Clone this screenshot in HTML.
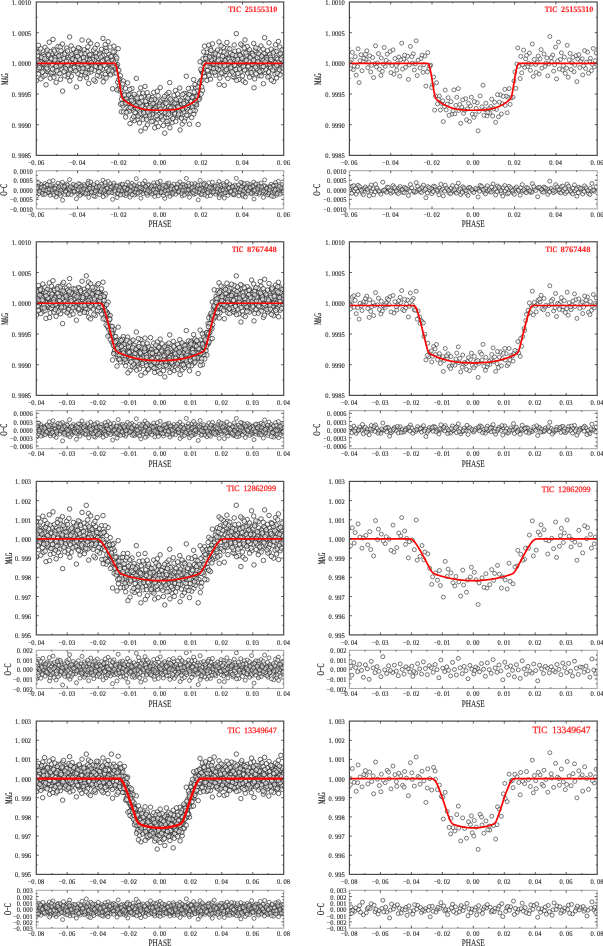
<!DOCTYPE html>
<html><head><meta charset="utf-8"><style>html,body{margin:0;padding:0;background:#fff;-webkit-font-smoothing:antialiased;width:603px;height:946px;overflow:hidden}svg{display:block;will-change:transform;filter:blur(0.42px)}text{font-kerning:none;text-rendering:geometricPrecision}</style></head>
<body><svg width="603" height="946" viewBox="0 0 603 946">
<defs>
<marker id="o" markerUnits="userSpaceOnUse" markerWidth="6" markerHeight="6" refX="3" refY="3" overflow="visible"><circle cx="3" cy="3" r="2.25" fill="#fff" fill-opacity="0.6" stroke="#222" stroke-width="0.7"/></marker>
<marker id="q" markerUnits="userSpaceOnUse" markerWidth="6" markerHeight="6" refX="3" refY="3" overflow="visible"><circle cx="3" cy="3" r="2.0" fill="#fff" fill-opacity="0.6" stroke="#333" stroke-width="0.65"/></marker>
<marker id="p" markerUnits="userSpaceOnUse" markerWidth="6" markerHeight="6" refX="3" refY="3" overflow="visible"><circle cx="3" cy="3" r="2.0" fill="#fff" fill-opacity="0.5" stroke="#2a2a2a" stroke-width="0.65"/></marker>
</defs>
<clipPath id="c00"><rect x="36.3" y="2.0" width="247.4" height="153.4"/></clipPath>
<clipPath id="d00"><rect x="36.3" y="170.7" width="247.4" height="38.2"/></clipPath>
<g clip-path="url(#c00)"><path d="M129.1 95.0 252.8 63.8 51.8 74.6 175.5 90.5 113.6 59.1 237.3 67.7 82.7 51.9 206.4 61.9 144.5 117.3 268.2 55.9 44.0 64.7 167.7 123.6 105.9 47.9 229.6 60.0 75.0 68.8 198.7 85.0 136.8 106.8 260.5 72.8 59.5 57.0 183.2 109.7 121.3 111.8 245.0 39.9 90.4 58.4 214.1 67.0 152.3 97.5 276.0 61.3 40.2 70.4 163.9 102.0 102.0 64.1 225.7 75.2 71.1 45.9 194.8 97.0 132.9 110.5 256.6 52.4 55.6 62.2 179.3 117.0 117.5 64.6 241.2 65.0 86.6 77.8 210.3 48.7 148.4 106.8 272.1 69.2 47.9 53.9 171.6 109.6 109.7 73.4 233.4 57.4 78.8 66.0 202.5 90.4 140.7 87.9 264.4 58.7 63.4 67.4 187.1 93.8 125.2 99.2 248.9 70.9 94.3 55.5 218.0 64.4 156.1 122.9 279.8 47.0 38.2 59.7 161.9 115.3 100.1 52.9 223.8 62.5 69.2 72.3 192.9 95.7 131.0 106.7 254.7 78.9 53.7 49.5 177.4 106.3 115.5 69.6 239.2 54.3 84.6 63.4 208.3 73.9 146.5 104.0 270.2 66.3 46.0 84.8 169.7 82.6 107.8 58.2 231.5 66.8 76.9 50.4 200.6 80.8 138.7 114.8 262.4 54.9 61.4 63.9 185.1 118.1 123.3 81.0 247.0 59.2 92.4 67.8 216.1 52.1 154.2 108.8 277.9 71.5 42.1 56.0 165.8 111.6 103.9 77.1 227.6 48.2 73.0 60.1 196.7 105.0 134.9 96.8 258.6 62.9 57.6 73.0 181.3 101.8 119.4 85.5 243.1 80.8 88.5 41.0 212.2 58.5 150.3 113.8 274.0 51.0 49.8 61.4 173.5 116.9 111.7 55.3 235.4 64.2 80.8 75.5 204.5 46.2 142.6 105.1 266.3 68.2 65.3 52.6 189.0 103.7 127.1 111.0 250.8 56.4 96.2 65.1 219.9 78.1 158.1 95.9 281.8 60.4 37.3 69.3 161.0 100.9 99.1 63.2 222.8 73.5 68.2 57.5 191.9 105.8 130.0 123.6 253.7 43.4 52.7 58.8 176.4 113.3 114.6 51.6 238.3 61.7 83.7 71.0 207.4 55.6 145.5 110.6 269.2 76.3 45.0 47.3 168.7 106.5 106.8 68.6 230.5 53.1 75.9 62.6 199.6 98.2 137.8 101.1 261.5 65.5 60.5 79.3 184.2 93.4 122.3 95.9 246.0 69.7 91.4 54.4 215.1 63.5 153.2 120.9 276.9 57.8 41.1 66.4 164.8 133.2 103.0 38.4 226.7 58.3 72.1 66.9 195.8 87.4 133.9 104.0 257.6 70.3 56.6 55.0 180.3 108.9 118.4 88.9 242.1 45.4 87.5 59.3 211.2 68.0 149.4 98.8 273.1 62.1 48.9 71.6 172.6 102.6 110.7 64.9 234.4 77.4 79.8 48.5 203.5 63.8 141.6 114.5 265.3 53.7 64.3 63.0 188.0 115.1 126.2 95.6 249.9 65.9 95.3 81.3 219.0 41.9 157.1 105.5 280.8 67.2 39.2 51.2 162.9 108.4 101.0 70.7 224.7 55.4 70.1 64.3 193.8 114.1 132.0 88.5 255.7 59.6 54.7 68.3 178.4 98.2 116.5 66.0 240.2 72.1 85.6 56.5 209.3 65.2 147.4 124.9 271.1 49.2 46.9 60.5 170.6 116.0 108.8 54.1 232.5 63.3 77.9 73.7 201.6 71.4 139.7 111.2 263.4 83.7 62.4 44.0 186.1 101.8 124.2 104.4 247.9 51.7 93.3 61.8 217.0 71.2 155.2 102.6 278.9 64.6 43.1 76.5 166.8 94.4 104.9 59.9 228.6 68.7 74.0 53.2 197.7 97.9 135.8 116.3 259.5 56.9 58.5 65.6 182.2 124.1 120.4 75.7 244.1 60.9 89.5 69.9 213.2 54.6 151.3 110.4 275.0 74.4 50.8 57.9 174.5 112.7 112.6 88.8 236.3 33.6 81.7 58.1 205.4 66.7 143.6 96.1 267.3 61.0 66.3 70.1 190.0 95.6 128.1 103.5 251.8 74.6 97.2 44.7 220.9 59.1 159.0 114.6 282.7 52.0 36.8 61.9 160.5 118.2 98.6 55.9 222.3 64.7 67.7 76.9 191.4 88.0 129.6 100.6 253.3 68.9 52.2 53.5 175.9 108.8 114.1 72.9 237.8 57.0 83.2 65.7 206.9 80.4 145.0 86.4 268.7 58.4 44.5 67.0 168.2 97.6 106.4 61.3 230.1 70.5 75.4 55.2 199.1 92.8 137.3 119.5 261.0 46.0 60.0 59.4 183.7 111.9 121.8 86.9 245.5 62.2 90.9 71.8 214.6 56.3 152.8 111.8 276.5 77.9 40.6 48.8 164.3 107.2 102.5 69.2 226.2 53.9 71.6 63.2 195.3 110.6 133.4 100.0 257.1 66.0 56.1 82.3 179.8 88.0 118.0 69.8 241.7 67.4 87.0 51.4 210.7 61.6 148.9 117.5 272.6 55.6 48.4 64.4 172.1 122.5 110.2 47.1 233.9 59.7 79.3 68.5 203.0 58.9 141.2 107.9 264.9 72.3 63.8 56.7 187.5 107.5 125.7 117.0 249.4 49.6 94.8 60.7 218.5 69.6 156.6 101.2 280.3 63.5 38.7 74.0 162.4 104.6 100.6 66.4 224.3 85.3 69.6 36.9 193.3 96.9 131.5 108.5 255.2 50.4 54.2 61.1 177.9 115.7 116.0 56.5 239.7 63.9 85.1 74.9 208.8 45.1 147.0 105.5 270.7 67.9 46.4 52.2 170.1 108.7 108.3 71.5 232.0 56.1 77.4 64.8 201.1 94.0 139.2 93.1 262.9 60.2 61.9 69.0 185.6 96.7 123.8 99.4 247.5 73.0 92.8 57.2 216.5 65.8 154.7 127.8 278.4 41.4 42.6 58.5 166.3 114.0 104.4 51.0 228.1 61.4 73.5 70.6 197.2 90.9 135.4 107.7 259.1 75.6 58.0 46.4 181.7 104.0 119.9 91.0 243.6 52.7 89.0 62.3 212.7 72.0 150.8 103.1 274.5 65.2 50.3 78.2 174.0 95.3 112.2 60.5 235.9 69.4 81.2 54.1 204.9 63.3 143.1 119.3 266.8 57.5 65.8 66.1 189.5 124.2 127.6 82.9 251.3 58.9 96.7 67.5 220.4 51.6 158.6 108.6 282.3 71.1 37.7 55.7 161.4 111.4 99.6 76.3 223.3 47.4 68.7 59.8 192.4 107.9 130.5 94.3 254.2 62.7 53.2 72.5 176.9 102.5 115.1 65.5 238.8 79.4 84.1 49.8 207.8 60.8 146.0 116.0 269.7 54.5 45.5 63.6 169.2 120.9 107.3 57.9 231.0 66.5 76.4 87.0 200.1 61.7 138.3 102.8 262.0 66.9 60.9 50.6 184.6 104.7 122.8 105.9 246.5 55.0 91.9 64.0 215.6 75.1 153.7 92.4 277.4 59.3 41.6 68.0 165.3 99.2 103.5 62.1 227.2 71.7 72.5 56.2 196.2 101.4 134.4 120.6 258.1 48.6 57.1 60.3 180.8 113.9 118.9 70.5 242.6 63.1 88.0 73.2 211.7 57.3 149.9 112.5 273.6 81.6 49.3 42.2 173.0 105.0 111.2 67.3 234.9 51.2 80.3 61.5 204.0 72.3 142.1 101.0 265.8 64.3 64.8 75.8 188.5 88.4 126.7 98.3 250.4 68.4 95.7 52.8 219.4 62.4 157.6 119.0 281.3 56.6 39.7 65.3 163.4 125.5 101.5 49.3 225.2 60.6 70.6 69.5 194.3 92.2 132.5 105.5 256.2 73.8 55.1 57.6 178.8 111.6 117.0 89.9 240.7 44.1 86.1 59.0 209.8 67.6 147.9 98.2 271.6 61.8 47.4 71.2 171.1 102.4 109.3 64.6 233.0 76.6 78.3 47.7 202.0 71.0 140.2 113.8 263.9 53.3 62.9 62.8 186.6 115.3 124.7 94.1 248.4 65.6 93.8 79.9 217.5 50.0 155.7 107.8 279.4 69.9 43.5 54.6 167.2 110.5 105.4 74.4 229.1 58.0 74.5 66.6 198.2 124.5 136.3 78.4 260.0 58.1 59.0 66.7 182.7 94.5 120.9 89.8 244.6 70.1 89.9 54.8 213.6 63.8 151.8 121.5 275.5 44.8 51.3 59.1 175.0 113.9 113.1 52.0 236.8 62.0 82.2 71.4 205.9 56.0 144.1 110.7 267.8 77.0 66.7 48.1 190.4 100.7 128.6 108.9 252.3 53.5 97.7 62.9 221.4 72.9 159.5 104.0 283.2 65.7 36.5 80.6 160.2 87.6 98.4 58.5 222.1 67.1 67.5 50.9 191.2 101.5 129.3 111.0 253.0 55.2 52.0 64.1 175.7 121.4 113.9 46.1 237.6 59.4 82.9 68.2 206.6 52.5 144.8 108.3 268.5 71.9 44.3 56.4 168.0 111.8 106.1 78.0 229.8 48.9 75.2 60.4 198.9 99.5 137.0 98.1 260.7 63.2 59.7 73.5 183.4 101.4 121.6 99.1 245.3 82.5 90.7 43.2 214.4 58.8 152.5 114.2 276.2 51.5 40.4 61.7 164.1 117.8 102.3 55.6 226.0 64.5 71.3 76.2 195.0 84.6 133.2 102.3 256.9 68.5 55.9 53.0 179.6 107.7 117.7 82.1 241.4 56.7 86.8 65.4 210.5 79.1 148.6 96.1 272.3 60.7 48.1 69.7 171.8 100.9 110.0 63.5 233.7 74.1 79.1 57.8 202.8 73.5 140.9 131.0 264.6 37.7 63.6 58.2 187.3 109.1 125.5 88.3 249.2 61.1 94.5 70.2 218.2 54.9 156.4 110.8 280.1 74.9 38.5 45.3 162.2 106.1 100.3 67.9 224.0 52.2 69.4 62.1 193.1 110.4 131.2 97.7 254.9 64.9 53.9 77.3 177.6 94.0 115.8 60.9 239.5 69.0 84.9 53.7 208.6 63.0 146.7 119.4 270.4 57.2 46.2 65.9 169.9 127.8 108.1 41.7 231.8 58.6 77.1 67.2 200.8 69.4 139.0 106.2 262.7 70.7 61.7 55.3 185.4 107.4 123.5 111.9 247.2 46.5 92.6 59.6 216.3 68.3 154.4 99.5 278.1 62.4 42.3 72.1 166.0 103.3 104.2 65.2 227.9 78.4 73.3 49.2 197.0 96.3 135.1 112.8 258.8 54.1 57.8 63.3 181.5 118.3 119.7 78.8 243.4 66.2 88.7 83.4 212.4 43.8 150.6 105.6 274.3 67.6 50.1 51.7 173.8 108.0 111.9 71.1 235.6 55.7 81.0 64.6 204.7 76.4 142.8 93.2 266.5 59.9 65.5 68.6 189.2 94.5 127.4 101.9 251.1 72.6 96.5 56.8 220.2 65.5 158.3 126.5 282.0 49.9 37.5 60.8 161.2 116.7 99.4 54.5 223.1 63.6 68.4 74.3 192.1 97.4 130.3 107.5 254.0 87.8 53.0 39.4 176.7 104.1 114.8 67.0 238.5 50.7 83.9 61.2 207.6 70.4 145.7 101.3 269.4 64.0 45.2 75.2 168.9 92.4 107.1 59.3 230.8 68.0 76.2 52.4 199.9 86.4 138.0 116.2 261.7 56.2 60.7 65.0 184.4 121.2 122.6 84.0 246.3 60.3 91.6 69.2 215.3 53.8 153.5 109.9 277.2 73.3 41.4 57.3 165.1 112.8 103.2 81.8 226.9 42.5 72.3 58.7 196.0 103.9 134.1 94.3 257.8 61.6 56.8 70.8 180.5 100.3 118.7 79.6 242.4 75.9 87.8 46.8 211.5 59.7 149.6 115.0 273.3 52.9 49.1 62.5 172.8 118.6 111.0 56.6 234.7 65.3 80.0 78.7 203.7 51.9 141.9 106.1 265.6 69.6 64.6 54.2 188.3 105.2 126.4 112.4 250.1 57.7 95.5 66.3 219.2 84.4 157.3 91.2 281.0 59.0 39.4 67.7 163.1 98.7 101.3 61.9 225.0 71.3 70.4 55.9 194.1 102.8 132.2 118.8 255.9 47.8 54.9 60.0 178.6 114.1 116.8 58.1 240.5 62.8 85.8 72.7 209.5 57.0 147.7 112.1 271.4 80.1 47.2 50.1 170.9 107.5 109.0 70.0 232.7 54.7 78.1 63.7 201.8 86.9 139.9 103.0 263.6 66.6 62.6 91.1 186.3 76.3 124.5 95.1 248.2 66.7 93.6 50.2 217.3 61.0 155.4 116.9 279.1 54.7 43.3 63.8 167.0 121.4 105.2 44.6 228.9 59.1 74.2 67.7 197.9 86.9 136.1 105.7 259.8 71.3 58.8 55.9 182.5 109.0 120.6 104.1 244.3 47.9 89.7 60.0 213.4 68.8 151.5 100.1 275.2 62.8 51.0 72.8 174.7 103.1 112.9 65.7 236.6 80.3 82.0 40.0 205.7 58.4 143.8 112.9 267.5 50.8 66.5 61.3 190.2 111.2 128.4 95.0 252.1 64.1 97.4 75.3 221.1 45.9 159.3 106.3 283.0 68.1 37.0 52.5 160.7 109.1 98.9 71.8 222.6 56.3 67.9 65.0 191.6 117.6 129.8 89.5 253.5 60.3 52.5 69.2 176.2 99.7 114.3 63.1 238.0 73.4 83.4 57.4 207.1 66.0 145.3 128.2 269.0 42.8 44.8 58.7 168.5 114.1 106.6 51.4 230.3 61.6 75.7 70.9 199.4 82.8 137.5 108.7 261.2 76.0 60.2 47.0 183.9 103.5 122.1 103.4 245.8 52.9 91.1 62.5 214.8 72.3 153.0 103.5 276.7 65.4 40.9 78.9 164.6 96.4 102.7 60.7 226.4 69.6 71.8 54.3 195.5 100.5 133.7 116.7 257.4 57.7 56.4 66.3 180.1 130.0 118.2 48.7 241.9 58.2 87.3 66.8 211.0 50.4 149.1 107.6 272.8 70.2 48.6 54.9 172.3 110.3 110.5 74.8 234.2 45.0 79.5 59.2 203.2 72.5 141.4 97.5 265.1 62.0 64.1 71.5 187.8 98.1 125.9 103.0 249.6 77.2 95.0 48.2 218.7 60.1 156.9 115.8 280.6 53.6 39.0 62.9 162.7 119.9 100.8 57.1 224.5 65.8 69.9 80.8 193.6 79.6 131.7 100.3 255.4 67.1 54.4 51.0 178.1 106.9 116.3 73.1 240.0 55.3 85.3 64.2 209.0 75.5 147.2 92.7 270.9 59.5 46.7 68.2 170.4 99.2 108.5 62.3 232.2 72.0 77.6 56.4 201.3 80.4 139.5 123.0 263.2 49.0" fill="none" stroke="none" marker-start="url(#o)" marker-mid="url(#o)" marker-end="url(#o)"/></g>
<g clip-path="url(#d00)"><path d="M134.9 186.0 258.6 189.5 57.6 193.3 181.3 187.3 119.4 190.6 243.1 196.3 88.5 181.2 212.2 187.8 150.3 191.1 274.0 185.0 49.8 188.9 173.5 192.4 111.7 186.6 235.4 190.0 80.8 194.3 204.5 183.2 142.6 188.2 266.3 191.5 65.3 185.6 189.0 189.3 127.1 192.9 250.8 187.0 96.2 190.4 219.9 195.3 158.1 184.2 281.8 188.6 37.3 191.9 161.0 186.1 99.1 189.6 222.8 193.6 68.2 187.4 191.9 190.7 130.0 197.1 253.7 182.1 52.7 188.0 176.4 191.2 114.6 185.2 238.3 189.0 83.7 192.6 207.4 186.7 145.5 190.1 269.2 194.6 45.0 183.6 168.7 188.3 106.8 191.7 230.5 185.8 75.9 189.4 199.6 193.1 137.8 187.2 261.5 190.5 60.5 195.7 184.2 184.5 122.3 188.7 246.0 192.1 91.4 186.3 215.1 189.8 153.2 193.8 276.9 187.6 41.1 190.9 164.8 198.4 103.0 180.2 226.7 187.7 72.1 191.0 195.8 184.8 133.9 188.8 257.6 192.3 56.6 186.5 180.3 189.9 118.4 194.1 242.1 182.9 87.5 188.1 211.2 191.4 149.4 185.5 273.1 189.2 48.9 192.8 172.6 186.9 110.7 190.3 234.4 195.0 79.8 184.0 203.5 188.5 141.6 191.9 265.3 186.0 64.3 189.6 188.0 193.4 126.2 187.4 249.9 190.6 95.3 196.5 219.0 181.5 157.1 187.9 280.8 191.2 39.2 185.0 162.9 189.0 101.0 192.5 224.7 186.7 70.1 190.0 193.8 194.4 132.0 183.3 255.7 188.2 54.7 191.6 178.4 185.7 116.5 189.3 240.2 193.0 85.6 187.1 209.3 190.4 147.4 195.4 271.1 184.3 46.9 188.6 170.6 192.0 108.8 186.2 232.5 189.7 77.9 193.6 201.6 187.5 139.7 190.8 263.4 197.4 62.4 182.3 186.1 188.0 124.2 191.3 247.9 185.3 93.3 189.1 217.0 192.6 155.2 186.8 278.9 190.1 43.1 194.7 166.8 183.7 104.9 188.4 228.6 191.7 74.0 185.8 197.7 189.4 135.8 193.2 259.5 187.2 58.5 190.5 182.2 195.9 120.4 184.6 244.1 188.7 89.5 192.2 213.2 186.3 151.3 189.8 275.0 193.9 50.8 187.6 174.5 190.9 112.6 199.3 236.3 178.4 81.7 187.7 205.4 191.0 143.6 184.7 267.3 188.8 66.3 192.2 190.0 186.4 128.1 189.8 251.8 194.0 97.2 182.6 220.9 188.1 159.0 191.3 282.7 185.4 36.8 189.1 160.5 192.7 98.6 186.9 222.3 190.2 67.7 194.8 191.4 183.8 129.6 188.4 253.3 191.8 52.2 185.9 175.9 189.5 114.1 193.3 237.8 187.3 83.2 190.6 206.9 196.2 145.0 180.9 268.7 187.8 44.5 191.1 168.2 184.9 106.4 188.9 230.1 192.4 75.4 186.6 199.1 190.0 137.3 194.2 261.0 183.1 60.0 188.2 183.7 191.5 121.8 185.6 245.5 189.3 90.9 192.9 214.6 187.0 152.8 190.3 276.5 195.2 40.6 184.2 164.3 188.5 102.5 191.9 226.2 186.1 71.6 189.6 195.3 193.5 133.4 187.4 257.1 190.7 56.1 196.9 179.8 181.9 118.0 187.9 241.7 191.2 87.0 185.1 210.7 189.0 148.9 192.6 272.6 186.7 48.4 190.1 172.1 194.5 110.2 183.5 233.9 188.3 79.3 191.6 203.0 185.7 141.2 189.4 264.9 193.1 63.8 187.1 187.5 190.4 125.7 195.6 249.4 184.4 94.8 188.7 218.5 192.1 156.6 186.3 280.3 189.7 38.7 193.7 162.4 187.5 100.6 190.8 224.3 198.0 69.6 179.6 193.3 187.7 131.5 191.0 255.2 184.8 54.2 188.8 177.9 192.3 116.0 186.5 239.7 189.9 85.1 194.1 208.8 182.8 147.0 188.1 270.7 191.4 46.4 185.4 170.1 189.2 108.3 192.8 232.0 186.9 77.4 190.2 201.1 194.9 139.2 183.9 262.9 188.5 61.9 191.8 185.6 186.0 123.8 189.5 247.5 193.4 92.8 187.3 216.5 190.6 154.7 196.4 278.4 181.3 42.6 187.8 166.3 191.1 104.4 185.0 228.1 188.9 73.5 192.4 197.2 186.6 135.4 190.0 259.1 194.3 58.0 183.2 181.7 188.2 119.9 191.5 243.6 185.6 89.0 189.3 212.7 193.0 150.8 187.1 274.5 190.4 50.3 195.3 174.0 184.2 112.2 188.6 235.9 192.0 81.2 186.1 204.9 189.6 143.1 193.6 266.8 187.5 65.8 190.7 189.5 197.2 127.6 182.2 251.3 188.0 96.7 191.3 220.4 185.2 158.6 189.1 282.3 192.6 37.7 186.8 161.4 190.1 99.6 194.6 223.3 183.6 68.7 188.3 192.4 191.7 130.5 185.8 254.2 189.4 53.2 193.2 176.9 187.2 115.1 190.5 238.8 195.8 84.1 184.5 207.8 188.7 146.0 192.1 269.7 186.3 45.5 189.8 169.2 193.8 107.3 187.6 231.0 190.9 76.4 198.7 200.1 180.4 138.3 187.8 262.0 191.0 60.9 184.8 184.6 188.9 122.8 192.3 246.5 186.5 91.9 189.9 215.6 194.1 153.7 182.9 277.4 188.1 41.6 191.4 165.3 185.5 103.5 189.2 227.2 192.8 72.5 187.0 196.2 190.3 134.4 195.1 258.1 184.1 57.1 188.5 180.8 191.9 118.9 186.0 242.6 189.6 88.0 193.4 211.7 187.4 149.9 190.7 273.6 196.6 49.3 181.6 173.0 187.9 111.2 191.2 234.9 185.1 80.3 189.0 204.0 192.5 142.1 186.7 265.8 190.0 64.8 194.4 188.5 183.4 126.7 188.3 250.4 191.6 95.7 185.7 219.4 189.3 157.6 193.0 281.3 187.1 39.7 190.4 163.4 195.5 101.5 184.3 225.2 188.6 70.6 192.0 194.3 186.2 132.5 189.7 256.2 193.6 55.1 187.5 178.8 190.8 117.0 197.5 240.7 182.4 86.1 188.0 209.8 191.3 147.9 185.3 271.6 189.1 47.4 192.7 171.1 186.8 109.3 190.2 233.0 194.7 78.3 183.7 202.0 188.4 140.2 191.7 263.9 185.9 62.9 189.5 186.6 193.2 124.7 187.2 248.4 190.5 93.8 196.0 217.5 184.6 155.7 188.7 279.4 192.2 43.5 186.4 167.2 189.8 105.4 193.9 229.1 187.6 74.5 190.9 198.2 199.9 136.3 178.7 260.0 187.7 59.0 191.0 182.7 184.7 120.9 188.8 244.6 192.2 89.9 186.4 213.6 189.9 151.8 194.0 275.5 182.6 51.3 188.1 175.0 191.4 113.1 185.4 236.8 189.1 82.2 192.7 205.9 186.9 144.1 190.2 267.8 194.9 66.7 183.9 190.4 188.4 128.6 191.8 252.3 185.9 97.7 189.5 221.4 193.3 159.5 187.3 283.2 190.6 36.5 196.2 160.2 181.1 98.4 187.8 222.1 191.1 67.5 185.0 191.2 188.9 129.3 192.4 253.0 186.6 52.0 190.0 175.7 194.3 113.9 183.1 237.6 188.2 82.9 191.5 206.6 185.6 144.8 189.3 268.5 192.9 44.3 187.0 168.0 190.3 106.1 195.2 229.8 184.2 75.2 188.6 198.9 191.9 137.0 186.1 260.7 189.6 59.7 193.5 183.4 187.4 121.6 190.7 245.3 197.0 90.7 182.0 214.4 187.9 152.5 191.2 276.2 185.2 40.4 189.0 164.1 192.6 102.3 186.7 226.0 190.1 71.3 194.5 195.0 183.5 133.2 188.3 256.9 191.6 55.9 185.8 179.6 189.4 117.7 193.1 241.4 187.2 86.8 190.5 210.5 195.7 148.6 184.5 272.3 188.7 48.1 192.1 171.8 186.3 110.0 189.7 233.7 193.8 79.1 187.6 202.8 190.8 140.9 198.2 264.6 179.9 63.6 187.7 187.3 191.0 125.5 184.8 249.2 188.8 94.5 192.3 218.2 186.5 156.4 189.9 280.1 194.1 38.5 182.8 162.2 188.1 100.3 191.4 224.0 185.4 69.4 189.2 193.1 192.8 131.2 186.9 254.9 190.3 53.9 195.0 177.6 184.0 115.8 188.5 239.5 191.8 84.9 186.0 208.6 189.5 146.7 193.4 270.4 187.3 46.2 190.6 169.9 196.4 108.1 181.4 231.8 187.9 77.1 191.1 200.8 185.0 139.0 189.0 262.7 192.5 61.7 186.6 185.4 190.0 123.5 194.4 247.2 183.3 92.6 188.2 216.3 191.5 154.4 185.6 278.1 189.3 42.3 193.0 166.0 187.1 104.2 190.4 227.9 195.4 73.3 184.3 197.0 188.6 135.1 192.0 258.8 186.2 57.8 189.7 181.5 193.6 119.7 187.5 243.4 190.8 88.7 197.3 212.4 182.2 150.6 188.0 274.3 191.3 50.1 185.2 173.8 189.1 111.9 192.6 235.6 186.8 81.0 190.1 204.7 194.7 142.8 183.7 266.5 188.4 65.5 191.7 189.2 185.8 127.4 189.4 251.1 193.2 96.5 187.2 220.2 190.5 158.3 195.8 282.0 184.5 37.5 188.7 161.2 192.1 99.4 186.3 223.1 189.8 68.4 193.8 192.1 187.6 130.3 190.9 254.0 199.0 53.0 180.6 176.7 187.8 114.8 191.1 238.5 184.9 83.9 188.9 207.6 192.3 145.7 186.5 269.4 189.9 45.2 194.2 168.9 183.0 107.1 188.2 230.8 191.5 76.2 185.5 199.9 189.2 138.0 192.9 261.7 187.0 60.7 190.3 184.4 195.1 122.6 184.1 246.3 188.5 91.6 191.9 215.3 186.0 153.5 189.6 277.2 193.5 41.4 187.4 165.1 190.7 103.2 196.7 226.9 181.7 72.3 187.9 196.0 191.2 134.1 185.1 257.8 189.0 56.8 192.5 180.5 186.7 118.7 190.1 242.4 194.4 87.8 183.4 211.5 188.3 149.6 191.6 273.3 185.7 49.1 189.3 172.8 193.0 111.0 187.1 234.7 190.4 80.0 195.5 203.7 184.4 141.9 188.6 265.6 192.0 64.6 186.2 188.3 189.7 126.4 193.7 250.1 187.5 95.5 190.8 219.2 197.7 157.3 182.4 281.0 188.0 39.4 191.3 163.1 185.3 101.3 189.1 225.0 192.7 70.4 186.8 194.1 190.2 132.2 194.8 255.9 183.8 54.9 188.4 178.6 191.7 116.8 185.9 240.5 189.5 85.8 193.2 209.5 187.3 147.7 190.5 271.4 196.0 47.2 184.6 170.9 188.8 109.0 192.2 232.7 186.4 78.1 189.8 201.8 193.9 139.9 187.6 263.6 190.9 62.6 200.2 186.3 178.4 124.5 187.7 248.2 190.9 93.6 184.7 217.3 188.8 155.4 192.2 279.1 186.4 43.3 189.8 167.0 193.9 105.2 182.5 228.9 188.0 74.2 191.3 197.9 185.3 136.1 189.1 259.8 192.7 58.8 186.9 182.5 190.2 120.6 194.8 244.3 183.8 89.7 188.4 213.4 191.8 151.5 185.9 275.2 189.5" fill="none" stroke="none" marker-start="url(#p)" marker-mid="url(#p)" marker-end="url(#p)"/></g>
<path d="M36.30 63.36 36.71 63.36 37.13 63.36 37.54 63.36 37.95 63.36 38.37 63.36 38.78 63.36 39.19 63.36 39.60 63.36 40.02 63.36 40.43 63.36 40.84 63.36 41.26 63.36 41.67 63.36 42.08 63.36 42.50 63.36 42.91 63.36 43.32 63.36 43.73 63.36 44.15 63.36 44.56 63.36 44.97 63.36 45.39 63.36 45.80 63.36 46.21 63.36 46.63 63.36 47.04 63.36 47.45 63.36 47.86 63.36 48.28 63.36 48.69 63.36 49.10 63.36 49.52 63.36 49.93 63.36 50.34 63.36 50.76 63.36 51.17 63.36 51.58 63.36 51.99 63.36 52.41 63.36 52.82 63.36 53.23 63.36 53.65 63.36 54.06 63.36 54.47 63.36 54.89 63.36 55.30 63.36 55.71 63.36 56.13 63.36 56.54 63.36 56.95 63.36 57.36 63.36 57.78 63.36 58.19 63.36 58.60 63.36 59.02 63.36 59.43 63.36 59.84 63.36 60.26 63.36 60.67 63.36 61.08 63.36 61.49 63.36 61.91 63.36 62.32 63.36 62.73 63.36 63.15 63.36 63.56 63.36 63.97 63.36 64.39 63.36 64.80 63.36 65.21 63.36 65.62 63.36 66.04 63.36 66.45 63.36 66.86 63.36 67.28 63.36 67.69 63.36 68.10 63.36 68.52 63.36 68.93 63.36 69.34 63.36 69.75 63.36 70.17 63.36 70.58 63.36 70.99 63.36 71.41 63.36 71.82 63.36 72.23 63.36 72.65 63.36 73.06 63.36 73.47 63.36 73.88 63.36 74.30 63.36 74.71 63.36 75.12 63.36 75.54 63.36 75.95 63.36 76.36 63.36 76.78 63.36 77.19 63.36 77.60 63.36 78.02 63.36 78.43 63.36 78.84 63.36 79.25 63.36 79.67 63.36 80.08 63.36 80.49 63.36 80.91 63.36 81.32 63.36 81.73 63.36 82.15 63.36 82.56 63.36 82.97 63.36 83.38 63.36 83.80 63.36 84.21 63.36 84.62 63.36 85.04 63.36 85.45 63.36 85.86 63.36 86.28 63.36 86.69 63.36 87.10 63.36 87.51 63.36 87.93 63.36 88.34 63.36 88.75 63.36 89.17 63.36 89.58 63.36 89.99 63.36 90.41 63.36 90.82 63.36 91.23 63.36 91.64 63.36 92.06 63.36 92.47 63.36 92.88 63.36 93.30 63.36 93.71 63.36 94.12 63.36 94.54 63.36 94.95 63.36 95.36 63.36 95.78 63.36 96.19 63.36 96.60 63.36 97.01 63.36 97.43 63.36 97.84 63.36 98.25 63.36 98.67 63.36 99.08 63.36 99.49 63.36 99.91 63.36 100.32 63.36 100.73 63.36 101.14 63.36 101.56 63.36 101.97 63.36 102.38 63.36 102.80 63.36 103.21 63.36 103.62 63.36 104.04 63.36 104.45 63.36 104.86 63.36 105.27 63.36 105.69 63.36 106.10 63.36 106.51 63.36 106.93 63.36 107.34 63.36 107.75 63.36 108.17 63.36 108.58 63.36 108.99 63.36 109.40 63.36 109.82 63.36 110.23 63.36 110.64 63.36 111.06 63.36 111.47 63.36 111.88 63.36 112.30 63.36 112.71 63.36 113.12 63.36 113.54 63.36 113.95 63.38 114.36 63.43 114.77 63.59 115.19 63.95 115.60 64.61 116.01 65.66 116.43 67.09 116.84 68.84 117.25 70.81 117.67 72.96 118.08 75.24 118.49 77.62 118.90 80.08 119.32 82.58 119.73 85.11 120.14 87.63 120.56 90.09 120.97 92.42 121.38 94.50 121.80 96.22 122.21 97.50 122.62 98.40 123.03 99.01 123.45 99.47 123.86 99.84 124.27 100.19 124.69 100.53 125.10 100.85 125.51 101.17 125.93 101.48 126.34 101.79 126.75 102.08 127.16 102.37 127.58 102.66 127.99 102.93 128.40 103.20 128.82 103.47 129.23 103.72 129.64 103.97 130.06 104.22 130.47 104.45 130.88 104.68 131.29 104.91 131.71 105.13 132.12 105.34 132.53 105.55 132.95 105.75 133.36 105.95 133.77 106.14 134.19 106.32 134.60 106.50 135.01 106.67 135.43 106.84 135.84 107.00 136.25 107.16 136.66 107.31 137.08 107.46 137.49 107.60 137.90 107.74 138.32 107.87 138.73 108.00 139.14 108.12 139.56 108.24 139.97 108.36 140.38 108.47 140.79 108.57 141.21 108.67 141.62 108.77 142.03 108.87 142.45 108.95 142.86 109.04 143.27 109.12 143.69 109.20 144.10 109.27 144.51 109.34 144.92 109.41 145.34 109.47 145.75 109.54 146.16 109.59 146.58 109.65 146.99 109.70 147.40 109.75 147.82 109.79 148.23 109.83 148.64 109.87 149.05 109.91 149.47 109.94 149.88 109.98 150.29 110.01 150.71 110.03 151.12 110.06 151.53 110.08 151.95 110.10 152.36 110.12 152.77 110.14 153.19 110.15 153.60 110.17 154.01 110.18 154.42 110.19 154.84 110.20 155.25 110.21 155.66 110.21 156.08 110.22 156.49 110.23 156.90 110.23 157.32 110.23 157.73 110.23 158.14 110.24 158.55 110.24 158.97 110.24 159.38 110.24 159.79 110.24 160.21 110.24 160.62 110.24 161.03 110.24 161.45 110.24 161.86 110.24 162.27 110.23 162.68 110.23 163.10 110.23 163.51 110.23 163.92 110.22 164.34 110.21 164.75 110.21 165.16 110.20 165.58 110.19 165.99 110.18 166.40 110.17 166.81 110.15 167.23 110.14 167.64 110.12 168.05 110.10 168.47 110.08 168.88 110.06 169.29 110.03 169.71 110.01 170.12 109.98 170.53 109.94 170.95 109.91 171.36 109.87 171.77 109.83 172.18 109.79 172.60 109.75 173.01 109.70 173.42 109.65 173.84 109.59 174.25 109.54 174.66 109.47 175.08 109.41 175.49 109.34 175.90 109.27 176.31 109.20 176.73 109.12 177.14 109.04 177.55 108.95 177.97 108.87 178.38 108.77 178.79 108.67 179.21 108.57 179.62 108.47 180.03 108.36 180.44 108.24 180.86 108.12 181.27 108.00 181.68 107.87 182.10 107.74 182.51 107.60 182.92 107.46 183.34 107.31 183.75 107.16 184.16 107.00 184.57 106.84 184.99 106.67 185.40 106.50 185.81 106.32 186.23 106.14 186.64 105.95 187.05 105.75 187.47 105.55 187.88 105.34 188.29 105.13 188.71 104.91 189.12 104.68 189.53 104.45 189.94 104.22 190.36 103.97 190.77 103.72 191.18 103.47 191.60 103.20 192.01 102.93 192.42 102.66 192.84 102.37 193.25 102.08 193.66 101.79 194.07 101.48 194.49 101.17 194.90 100.85 195.31 100.53 195.73 100.19 196.14 99.84 196.55 99.47 196.97 99.01 197.38 98.40 197.79 97.50 198.20 96.22 198.62 94.50 199.03 92.42 199.44 90.09 199.86 87.63 200.27 85.11 200.68 82.58 201.10 80.08 201.51 77.62 201.92 75.24 202.33 72.96 202.75 70.81 203.16 68.84 203.57 67.09 203.99 65.66 204.40 64.61 204.81 63.95 205.23 63.59 205.64 63.43 206.05 63.38 206.46 63.36 206.88 63.36 207.29 63.36 207.70 63.36 208.12 63.36 208.53 63.36 208.94 63.36 209.36 63.36 209.77 63.36 210.18 63.36 210.60 63.36 211.01 63.36 211.42 63.36 211.83 63.36 212.25 63.36 212.66 63.36 213.07 63.36 213.49 63.36 213.90 63.36 214.31 63.36 214.73 63.36 215.14 63.36 215.55 63.36 215.96 63.36 216.38 63.36 216.79 63.36 217.20 63.36 217.62 63.36 218.03 63.36 218.44 63.36 218.86 63.36 219.27 63.36 219.68 63.36 220.09 63.36 220.51 63.36 220.92 63.36 221.33 63.36 221.75 63.36 222.16 63.36 222.57 63.36 222.99 63.36 223.40 63.36 223.81 63.36 224.22 63.36 224.64 63.36 225.05 63.36 225.46 63.36 225.88 63.36 226.29 63.36 226.70 63.36 227.12 63.36 227.53 63.36 227.94 63.36 228.36 63.36 228.77 63.36 229.18 63.36 229.59 63.36 230.01 63.36 230.42 63.36 230.83 63.36 231.25 63.36 231.66 63.36 232.07 63.36 232.49 63.36 232.90 63.36 233.31 63.36 233.72 63.36 234.14 63.36 234.55 63.36 234.96 63.36 235.38 63.36 235.79 63.36 236.20 63.36 236.62 63.36 237.03 63.36 237.44 63.36 237.85 63.36 238.27 63.36 238.68 63.36 239.09 63.36 239.51 63.36 239.92 63.36 240.33 63.36 240.75 63.36 241.16 63.36 241.57 63.36 241.98 63.36 242.40 63.36 242.81 63.36 243.22 63.36 243.64 63.36 244.05 63.36 244.46 63.36 244.88 63.36 245.29 63.36 245.70 63.36 246.12 63.36 246.53 63.36 246.94 63.36 247.35 63.36 247.77 63.36 248.18 63.36 248.59 63.36 249.01 63.36 249.42 63.36 249.83 63.36 250.25 63.36 250.66 63.36 251.07 63.36 251.48 63.36 251.90 63.36 252.31 63.36 252.72 63.36 253.14 63.36 253.55 63.36 253.96 63.36 254.38 63.36 254.79 63.36 255.20 63.36 255.61 63.36 256.03 63.36 256.44 63.36 256.85 63.36 257.27 63.36 257.68 63.36 258.09 63.36 258.51 63.36 258.92 63.36 259.33 63.36 259.74 63.36 260.16 63.36 260.57 63.36 260.98 63.36 261.40 63.36 261.81 63.36 262.22 63.36 262.64 63.36 263.05 63.36 263.46 63.36 263.87 63.36 264.29 63.36 264.70 63.36 265.11 63.36 265.53 63.36 265.94 63.36 266.35 63.36 266.77 63.36 267.18 63.36 267.59 63.36 268.01 63.36 268.42 63.36 268.83 63.36 269.24 63.36 269.66 63.36 270.07 63.36 270.48 63.36 270.90 63.36 271.31 63.36 271.72 63.36 272.14 63.36 272.55 63.36 272.96 63.36 273.37 63.36 273.79 63.36 274.20 63.36 274.61 63.36 275.03 63.36 275.44 63.36 275.85 63.36 276.27 63.36 276.68 63.36 277.09 63.36 277.50 63.36 277.92 63.36 278.33 63.36 278.74 63.36 279.16 63.36 279.57 63.36 279.98 63.36 280.40 63.36 280.81 63.36 281.22 63.36 281.63 63.36 282.05 63.36 282.46 63.36 282.87 63.36 283.29 63.36 283.70 63.36" fill="none" stroke="#f00" stroke-width="1.7" clip-path="url(#c00)"/>
<rect x="36.3" y="2.0" width="247.4" height="153.4" fill="none" stroke="#4a4a4a" stroke-width="1.2"/>
<rect x="36.3" y="170.7" width="247.4" height="38.2" fill="none" stroke="#a8a8a8" stroke-width="1.1"/>
<path d="M56.9 155.4v-1.3M56.9 2.0v1.3M77.5 155.4v-2.5M77.5 2.0v2.5M98.1 155.4v-1.3M98.1 2.0v1.3M118.8 155.4v-2.5M118.8 2.0v2.5M139.4 155.4v-1.3M139.4 2.0v1.3M160.0 155.4v-2.5M160.0 2.0v2.5M180.6 155.4v-1.3M180.6 2.0v1.3M201.2 155.4v-2.5M201.2 2.0v2.5M221.8 155.4v-1.3M221.8 2.0v1.3M242.5 155.4v-2.5M242.5 2.0v2.5M263.1 155.4v-1.3M263.1 2.0v1.3M56.9 208.9v-1.3M56.9 170.7v1.3M77.5 208.9v-2.5M77.5 170.7v2.5M98.1 208.9v-1.3M98.1 170.7v1.3M118.8 208.9v-2.5M118.8 170.7v2.5M139.4 208.9v-1.3M139.4 170.7v1.3M160.0 208.9v-2.5M160.0 170.7v2.5M180.6 208.9v-1.3M180.6 170.7v1.3M201.2 208.9v-2.5M201.2 170.7v2.5M221.8 208.9v-1.3M221.8 170.7v1.3M242.5 208.9v-2.5M242.5 170.7v2.5M263.1 208.9v-1.3M263.1 170.7v1.3M36.3 140.1h1.3M283.7 140.1h-1.3M36.3 124.7h2.5M283.7 124.7h-2.5M36.3 109.4h1.3M283.7 109.4h-1.3M36.3 94.0h2.5M283.7 94.0h-2.5M36.3 78.7h1.3M283.7 78.7h-1.3M36.3 63.4h2.5M283.7 63.4h-2.5M36.3 48.0h1.3M283.7 48.0h-1.3M36.3 32.7h2.5M283.7 32.7h-2.5M36.3 17.3h1.3M283.7 17.3h-1.3M36.3 204.1h1.3M283.7 204.1h-1.3M36.3 199.3h2.5M283.7 199.3h-2.5M36.3 194.6h1.3M283.7 194.6h-1.3M36.3 189.8h2.5M283.7 189.8h-2.5M36.3 185.0h1.3M283.7 185.0h-1.3M36.3 180.2h2.5M283.7 180.2h-2.5M36.3 175.5h1.3M283.7 175.5h-1.3" stroke="#333" stroke-width="0.8" fill="none"/>
<g font-family="Liberation Serif" font-size="7.2" fill="#222" stroke="#222" stroke-width="0.12"><text transform="translate(36.0 165.3) scale(0.9 1)" text-anchor="middle">−0. 06</text><text transform="translate(36.0 216.6) scale(0.9 1)" text-anchor="middle">−0. 06</text><text transform="translate(77.2 165.3) scale(0.9 1)" text-anchor="middle">−0. 04</text><text transform="translate(77.2 216.6) scale(0.9 1)" text-anchor="middle">−0. 04</text><text transform="translate(118.5 165.3) scale(0.9 1)" text-anchor="middle">−0. 02</text><text transform="translate(118.5 216.6) scale(0.9 1)" text-anchor="middle">−0. 02</text><text transform="translate(159.7 165.3) scale(0.9 1)" text-anchor="middle">0. 00</text><text transform="translate(159.7 216.6) scale(0.9 1)" text-anchor="middle">0. 00</text><text transform="translate(200.9 165.3) scale(0.9 1)" text-anchor="middle">0. 02</text><text transform="translate(200.9 216.6) scale(0.9 1)" text-anchor="middle">0. 02</text><text transform="translate(242.2 165.3) scale(0.9 1)" text-anchor="middle">0. 04</text><text transform="translate(242.2 216.6) scale(0.9 1)" text-anchor="middle">0. 04</text><text transform="translate(283.4 165.3) scale(0.9 1)" text-anchor="middle">0. 06</text><text transform="translate(283.4 216.6) scale(0.9 1)" text-anchor="middle">0. 06</text><text transform="translate(31.1 158.4) scale(0.9 1)" text-anchor="end">0. 9985</text><text transform="translate(31.1 127.7) scale(0.9 1)" text-anchor="end">0. 9990</text><text transform="translate(31.1 97.0) scale(0.9 1)" text-anchor="end">0. 9995</text><text transform="translate(31.1 66.4) scale(0.9 1)" text-anchor="end">1. 0000</text><text transform="translate(31.1 35.7) scale(0.9 1)" text-anchor="end">1. 0005</text><text transform="translate(31.1 5.0) scale(0.9 1)" text-anchor="end">1. 0010</text><text transform="translate(32.8 211.9) scale(0.9 1)" text-anchor="end">−0. 0010</text><text transform="translate(32.8 202.3) scale(0.9 1)" text-anchor="end">−0. 0005</text><text transform="translate(32.8 192.8) scale(0.9 1)" text-anchor="end">0. 0000</text><text transform="translate(32.8 183.2) scale(0.9 1)" text-anchor="end">0. 0005</text><text transform="translate(32.8 173.7) scale(0.9 1)" text-anchor="end">0. 0010</text></g>
<text transform="translate(160.0 226.9) scale(0.74 1)" font-family="Liberation Serif" font-size="9.8" fill="#222" stroke="#222" stroke-width="0.12" text-anchor="middle">PHASE</text>
<text font-family="Liberation Serif" font-size="10" fill="#222" stroke="#222" stroke-width="0.2" text-anchor="middle" transform="translate(4.7 79.1) rotate(-90) scale(0.5 1)" y="3.5">MAG</text>
<text font-family="Liberation Serif" font-size="10" fill="#222" stroke="#222" stroke-width="0.2" text-anchor="middle" transform="translate(3.3 189.8) rotate(-90) scale(0.62 1)" y="3.5">O−C</text>
<g font-family="Liberation Serif" font-size="8.2" fill="#f22" stroke="#f22" stroke-width="0.1" font-weight="bold"><text x="228.3" y="11.6" textLength="12.8" lengthAdjust="spacingAndGlyphs">TIC</text><text x="244.7" y="11.6" textLength="32.7" lengthAdjust="spacingAndGlyphs">25155310</text></g>
<clipPath id="c01"><rect x="349.4" y="2.0" width="247.8" height="153.4"/></clipPath>
<clipPath id="d01"><rect x="349.4" y="170.7" width="247.8" height="38.2"/></clipPath>
<g clip-path="url(#c01)"><path d="M574.0 71.8 372.6 57.5 496.5 109.4 434.6 110.1 558.5 42.1 403.6 58.8 527.5 66.5 465.6 98.7 589.5 61.4 353.3 69.6 477.2 102.7 415.2 63.9 539.1 74.0 384.2 47.5 508.1 97.3 446.2 109.9 570.1 53.4 368.8 62.2 492.7 116.0 430.7 65.2 554.6 64.8 399.7 76.2 523.6 50.1 461.7 107.0 585.6 68.5 361.0 54.7 484.9 109.6 423.0 72.3 546.9 57.9 392.0 65.6 515.9 88.4 453.9 89.9 577.8 59.1 376.5 66.9 500.4 94.9 438.5 99.3 562.4 70.0 407.5 56.2 531.4 64.2 469.4 121.5 593.3 48.5 351.3 60.0 475.2 114.7 413.3 53.9 537.2 62.5 382.3 71.3 506.2 96.2 444.3 106.5 568.2 77.2 366.8 50.8 490.7 106.5 428.8 68.9 552.7 55.1 397.8 63.3 521.7 72.8 459.7 104.5 583.6 65.9 359.1 82.6 483.0 85.2 421.0 58.6 544.9 66.3 390.1 51.6 514.0 80.9 452.0 114.0 575.9 55.6 374.6 63.7 498.5 116.8 436.5 82.7 560.4 59.5 405.5 67.3 529.4 53.1 467.5 108.9 591.4 70.6 355.2 56.7 479.1 111.4 417.2 75.6 541.1 49.6 386.2 60.3 510.1 104.3 448.1 97.7 572.0 62.9 370.7 71.9 494.6 102.3 432.6 85.2 556.5 78.9 401.7 43.2 525.6 58.9 463.6 113.3 587.5 52.1 363.0 61.5 486.9 116.0 424.9 56.0 548.8 64.0 393.9 74.2 517.8 47.9 455.9 105.4 579.8 67.6 378.4 53.6 502.3 103.7 440.4 110.0 564.3 57.0 409.4 64.9 533.3 76.5 471.4 97.2 595.3 60.6 350.4 68.6 474.3 101.7 412.3 63.2 536.2 72.4 381.3 58.0 505.2 105.4 443.3 121.6 567.2 45.3 365.9 59.2 489.8 112.8 427.8 52.6 551.7 61.8 396.8 70.1 520.7 56.3 458.8 110.4 582.7 74.9 358.1 48.8 482.0 106.8 420.1 67.9 544.0 54.0 389.1 62.6 513.0 97.2 451.0 101.7 574.9 65.1 373.6 77.6 497.5 94.6 435.5 96.1 559.4 69.0 404.6 55.2 528.5 63.4 466.5 119.8 590.4 58.3 354.2 66.0 478.1 130.8 416.2 40.8 540.1 58.7 385.2 66.4 509.1 88.6 447.2 104.1 571.1 69.5 369.7 55.7 493.6 108.7 431.7 87.6 555.6 47.1 400.7 59.6 524.6 67.4 462.7 99.9 586.6 62.1 362.0 70.7 485.9 103.2 423.9 64.7 547.8 75.9 393.0 49.9 516.9 64.0 454.9 113.8 578.8 54.6 377.5 63.0 501.4 114.0 439.4 96.1 563.3 65.5 408.4 79.4 532.3 44.0 470.4 105.9 594.3 66.8 352.3 52.3 476.2 108.4 414.3 69.9 538.2 56.1 383.3 64.1 507.2 112.7 445.2 90.1 569.1 59.9 367.8 67.7 491.7 99.2 429.7 66.0 553.6 71.1 398.8 57.1 522.7 64.9 460.7 123.3 584.6 50.5 360.0 60.7 483.9 115.3 422.0 55.0 545.9 63.2 391.0 72.6 514.9 71.9 453.0 110.8 576.9 81.6 375.5 45.8 499.4 102.1 437.5 103.9 561.4 52.8 406.5 61.8 530.4 70.3 468.5 103.3 592.4 64.4 356.2 75.1 480.1 95.9 418.1 60.2 542.0 68.1 387.2 54.2 511.1 97.8 449.1 115.3 573.0 57.4 371.7 65.2 495.6 122.3 433.6 77.0 557.5 61.0 402.6 69.1 526.5 55.4 464.6 110.2 588.5 73.2 363.9 58.4 487.8 112.3 425.9 86.1 549.8 36.5 394.9 58.5 518.8 66.3 456.8 97.3 580.7 61.1 379.4 69.3 503.3 96.4 441.4 103.3 565.3 73.4 410.4 46.4 534.3 59.4 472.3 114.1 596.2 53.0 349.9 62.0 473.8 117.3 411.8 56.6 535.7 64.5 380.9 75.5 504.8 89.4 442.8 100.9 566.7 68.2 365.4 54.3 489.3 108.7 427.3 71.8 551.2 57.6 396.3 65.4 520.2 78.6 458.3 88.6 582.2 58.8 357.6 66.6" fill="none" stroke="none" marker-start="url(#q)" marker-mid="url(#q)" marker-end="url(#q)"/></g>
<g clip-path="url(#d01)"><path d="M505.2 190.9 443.3 195.9 567.2 184.1 365.9 188.7 489.8 191.3 427.8 186.6 551.7 189.6 396.8 192.4 520.7 187.8 458.8 190.4 582.7 194.0 358.1 185.3 482.0 189.0 420.1 191.7 544.0 187.0 389.1 189.9 513.0 192.8 451.0 188.1 574.9 190.7 373.6 194.9 497.5 186.0 435.5 189.3 559.4 192.0 404.6 187.4 528.5 190.2 466.5 193.3 590.4 188.4 354.2 191.0 478.1 197.0 416.2 182.6 540.1 188.6 385.2 191.2 509.1 186.3 447.2 189.4 571.1 192.2 369.7 187.6 493.6 190.3 431.7 193.6 555.6 184.7 400.7 188.9 524.6 191.5 462.7 186.8 586.6 189.7 362.0 192.6 485.9 187.9 423.9 190.6 547.8 194.3 393.0 185.6 516.9 189.2 454.9 191.8 578.8 187.2 377.5 190.0 501.4 193.0 439.4 188.3 563.3 190.9 408.4 195.5 532.3 183.7 470.4 188.7 594.3 191.3 352.3 186.4 476.2 189.5 414.3 192.3 538.2 187.7 383.3 190.4 507.2 193.8 445.2 185.1 569.1 189.0 367.8 191.6 491.7 186.9 429.7 189.8 553.6 192.7 398.8 188.1 522.7 190.7 460.7 194.6 584.6 185.9 360.0 189.3 483.9 191.9 422.0 187.3 545.9 190.1 391.0 193.2 514.9 188.4 453.0 191.0 576.9 196.2 375.5 184.3 499.4 188.8 437.5 191.4 561.4 186.6 406.5 189.6 530.4 192.4 468.5 187.8 592.4 190.5 356.2 194.1 480.1 185.4 418.1 189.1 542.0 191.7 387.2 187.1 511.1 189.9 449.1 192.9 573.0 188.2 371.7 190.8 495.6 195.0 433.6 186.1 557.5 189.3 402.6 192.1 526.5 187.5 464.6 190.2 588.5 193.4 363.9 188.5 487.8 191.1 425.9 197.7 549.8 181.2 394.9 188.5 518.8 191.1 456.8 186.2 580.7 189.4 379.4 192.1 503.3 187.5 441.4 190.2 565.3 193.5 410.4 184.5 534.3 188.8 472.3 191.4 596.2 186.7 349.9 189.7 473.8 192.5 411.8 187.9 535.7 190.5 380.9 194.2 504.8 185.5 442.8 189.1 566.7 191.7 365.4 187.1 489.3 189.9 427.3 193.0 551.2 188.2 396.3 190.8 520.2 195.2 458.3 183.2 582.2 188.6 357.6 191.2 481.5 186.3 419.6 189.5 543.5 192.2 388.6 187.6 512.5 190.3 450.6 193.7 574.5 184.9 373.1 188.9 497.0 191.5 435.1 186.8 559.0 189.8 404.1 192.6 528.0 188.0 466.0 190.6 589.9 194.5 353.8 185.7 477.7 189.2 415.7 191.9 539.6 187.3 384.7 190.0 508.6 193.1 446.7 188.3 570.6 190.9 369.2 195.8 493.1 184.0 431.2 188.7 555.1 191.3 400.2 186.5 524.1 189.6 462.2 192.4 586.1 187.8 361.5 190.4 485.4 193.9 423.4 185.2 547.3 189.0 392.5 191.6 516.4 187.0 454.4 189.9 578.3 192.8 377.0 188.1 500.9 190.7 438.9 194.8 562.8 186.0 408.0 189.3 531.9 192.0 469.9 187.4 593.8 190.1 351.8 193.3 475.7 188.4 413.8 191.0 537.7 196.7 382.8 182.2 506.7 188.6 444.7 191.1 568.6 186.2 367.3 189.4 491.2 192.1 429.3 187.6 553.2 190.3 398.3 193.6 522.2 184.6 460.2 188.9 584.1 191.5 359.6 186.7 483.5 189.7 421.5 192.5 545.4 187.9 390.5 190.5 514.4 194.3 452.5 185.6 576.4 189.1 375.1 191.8 499.0 187.2 437.0 190.0 560.9 193.0 406.0 188.2 529.9 190.8 468.0 195.4 591.9 183.5 355.7 188.7 479.6 191.2 417.6 186.4 541.5 189.5 386.7 192.3 510.6 187.7 448.6 190.4 572.5 193.8 371.2 185.0 495.1 188.9 433.1 191.6 557.0 186.9 402.2 189.8 526.1 192.7 464.1 188.0 588.0 190.6 363.4 194.6 487.3 185.8 425.4 189.2 549.3 191.9 394.4 187.3 518.3 190.1 456.4 193.2 580.3 188.3 378.9 190.9 502.8 196.0 440.9 184.2 564.8 188.8 409.9 191.3 533.8 186.6 471.8 189.6" fill="none" stroke="none" marker-start="url(#p)" marker-mid="url(#p)" marker-end="url(#p)"/></g>
<path d="M349.40 63.36 349.81 63.36 350.23 63.36 350.64 63.36 351.05 63.36 351.47 63.36 351.88 63.36 352.30 63.36 352.71 63.36 353.12 63.36 353.54 63.36 353.95 63.36 354.36 63.36 354.78 63.36 355.19 63.36 355.61 63.36 356.02 63.36 356.43 63.36 356.85 63.36 357.26 63.36 357.67 63.36 358.09 63.36 358.50 63.36 358.91 63.36 359.33 63.36 359.74 63.36 360.16 63.36 360.57 63.36 360.98 63.36 361.40 63.36 361.81 63.36 362.22 63.36 362.64 63.36 363.05 63.36 363.47 63.36 363.88 63.36 364.29 63.36 364.71 63.36 365.12 63.36 365.53 63.36 365.95 63.36 366.36 63.36 366.77 63.36 367.19 63.36 367.60 63.36 368.02 63.36 368.43 63.36 368.84 63.36 369.26 63.36 369.67 63.36 370.08 63.36 370.50 63.36 370.91 63.36 371.33 63.36 371.74 63.36 372.15 63.36 372.57 63.36 372.98 63.36 373.39 63.36 373.81 63.36 374.22 63.36 374.64 63.36 375.05 63.36 375.46 63.36 375.88 63.36 376.29 63.36 376.70 63.36 377.12 63.36 377.53 63.36 377.94 63.36 378.36 63.36 378.77 63.36 379.19 63.36 379.60 63.36 380.01 63.36 380.43 63.36 380.84 63.36 381.25 63.36 381.67 63.36 382.08 63.36 382.50 63.36 382.91 63.36 383.32 63.36 383.74 63.36 384.15 63.36 384.56 63.36 384.98 63.36 385.39 63.36 385.80 63.36 386.22 63.36 386.63 63.36 387.05 63.36 387.46 63.36 387.87 63.36 388.29 63.36 388.70 63.36 389.11 63.36 389.53 63.36 389.94 63.36 390.36 63.36 390.77 63.36 391.18 63.36 391.60 63.36 392.01 63.36 392.42 63.36 392.84 63.36 393.25 63.36 393.66 63.36 394.08 63.36 394.49 63.36 394.91 63.36 395.32 63.36 395.73 63.36 396.15 63.36 396.56 63.36 396.97 63.36 397.39 63.36 397.80 63.36 398.22 63.36 398.63 63.36 399.04 63.36 399.46 63.36 399.87 63.36 400.28 63.36 400.70 63.36 401.11 63.36 401.52 63.36 401.94 63.36 402.35 63.36 402.77 63.36 403.18 63.36 403.59 63.36 404.01 63.36 404.42 63.36 404.83 63.36 405.25 63.36 405.66 63.36 406.08 63.36 406.49 63.36 406.90 63.36 407.32 63.36 407.73 63.36 408.14 63.36 408.56 63.36 408.97 63.36 409.38 63.36 409.80 63.36 410.21 63.36 410.63 63.36 411.04 63.36 411.45 63.36 411.87 63.36 412.28 63.36 412.69 63.36 413.11 63.36 413.52 63.36 413.94 63.36 414.35 63.36 414.76 63.36 415.18 63.36 415.59 63.36 416.00 63.36 416.42 63.36 416.83 63.36 417.25 63.36 417.66 63.36 418.07 63.36 418.49 63.36 418.90 63.36 419.31 63.36 419.73 63.36 420.14 63.36 420.55 63.36 420.97 63.36 421.38 63.36 421.80 63.36 422.21 63.36 422.62 63.36 423.04 63.36 423.45 63.36 423.86 63.36 424.28 63.36 424.69 63.36 425.11 63.36 425.52 63.36 425.93 63.36 426.35 63.36 426.76 63.36 427.17 63.38 427.59 63.43 428.00 63.59 428.41 63.94 428.83 64.61 429.24 65.66 429.66 67.09 430.07 68.83 430.48 70.81 430.90 72.96 431.31 75.24 431.72 77.62 432.14 80.08 432.55 82.58 432.97 85.11 433.38 87.63 433.79 90.10 434.21 92.43 434.62 94.51 435.03 96.22 435.45 97.51 435.86 98.40 436.27 99.01 436.69 99.47 437.10 99.84 437.52 100.19 437.93 100.53 438.34 100.85 438.76 101.17 439.17 101.48 439.58 101.79 440.00 102.08 440.41 102.37 440.83 102.66 441.24 102.93 441.65 103.20 442.07 103.47 442.48 103.72 442.89 103.97 443.31 104.22 443.72 104.45 444.13 104.68 444.55 104.91 444.96 105.13 445.38 105.34 445.79 105.55 446.20 105.75 446.62 105.95 447.03 106.14 447.44 106.32 447.86 106.50 448.27 106.67 448.69 106.84 449.10 107.00 449.51 107.16 449.93 107.31 450.34 107.46 450.75 107.60 451.17 107.74 451.58 107.87 451.99 108.00 452.41 108.12 452.82 108.24 453.24 108.36 453.65 108.47 454.06 108.57 454.48 108.67 454.89 108.77 455.30 108.87 455.72 108.95 456.13 109.04 456.55 109.12 456.96 109.20 457.37 109.27 457.79 109.34 458.20 109.41 458.61 109.47 459.03 109.54 459.44 109.59 459.86 109.65 460.27 109.70 460.68 109.75 461.10 109.79 461.51 109.83 461.92 109.87 462.34 109.91 462.75 109.94 463.16 109.98 463.58 110.01 463.99 110.03 464.41 110.06 464.82 110.08 465.23 110.10 465.65 110.12 466.06 110.14 466.47 110.15 466.89 110.17 467.30 110.18 467.72 110.19 468.13 110.20 468.54 110.21 468.96 110.21 469.37 110.22 469.78 110.23 470.20 110.23 470.61 110.23 471.02 110.23 471.44 110.24 471.85 110.24 472.27 110.24 472.68 110.24 473.09 110.24 473.51 110.24 473.92 110.24 474.33 110.24 474.75 110.24 475.16 110.24 475.58 110.23 475.99 110.23 476.40 110.23 476.82 110.23 477.23 110.22 477.64 110.21 478.06 110.21 478.47 110.20 478.88 110.19 479.30 110.18 479.71 110.17 480.13 110.15 480.54 110.14 480.95 110.12 481.37 110.10 481.78 110.08 482.19 110.06 482.61 110.03 483.02 110.01 483.44 109.98 483.85 109.94 484.26 109.91 484.68 109.87 485.09 109.83 485.50 109.79 485.92 109.75 486.33 109.70 486.74 109.65 487.16 109.59 487.57 109.54 487.99 109.47 488.40 109.41 488.81 109.34 489.23 109.27 489.64 109.20 490.05 109.12 490.47 109.04 490.88 108.95 491.30 108.87 491.71 108.77 492.12 108.67 492.54 108.57 492.95 108.47 493.36 108.36 493.78 108.24 494.19 108.12 494.61 108.00 495.02 107.87 495.43 107.74 495.85 107.60 496.26 107.46 496.67 107.31 497.09 107.16 497.50 107.00 497.91 106.84 498.33 106.67 498.74 106.50 499.16 106.32 499.57 106.14 499.98 105.95 500.40 105.75 500.81 105.55 501.22 105.34 501.64 105.13 502.05 104.91 502.47 104.68 502.88 104.45 503.29 104.22 503.71 103.97 504.12 103.72 504.53 103.47 504.95 103.20 505.36 102.93 505.77 102.66 506.19 102.37 506.60 102.08 507.02 101.79 507.43 101.48 507.84 101.17 508.26 100.85 508.67 100.53 509.08 100.19 509.50 99.84 509.91 99.47 510.33 99.01 510.74 98.40 511.15 97.51 511.57 96.22 511.98 94.51 512.39 92.43 512.81 90.10 513.22 87.63 513.63 85.11 514.05 82.58 514.46 80.08 514.88 77.62 515.29 75.24 515.70 72.96 516.12 70.81 516.53 68.83 516.94 67.09 517.36 65.66 517.77 64.61 518.19 63.94 518.60 63.59 519.01 63.43 519.43 63.38 519.84 63.36 520.25 63.36 520.67 63.36 521.08 63.36 521.49 63.36 521.91 63.36 522.32 63.36 522.74 63.36 523.15 63.36 523.56 63.36 523.98 63.36 524.39 63.36 524.80 63.36 525.22 63.36 525.63 63.36 526.05 63.36 526.46 63.36 526.87 63.36 527.29 63.36 527.70 63.36 528.11 63.36 528.53 63.36 528.94 63.36 529.35 63.36 529.77 63.36 530.18 63.36 530.60 63.36 531.01 63.36 531.42 63.36 531.84 63.36 532.25 63.36 532.66 63.36 533.08 63.36 533.49 63.36 533.91 63.36 534.32 63.36 534.73 63.36 535.15 63.36 535.56 63.36 535.97 63.36 536.39 63.36 536.80 63.36 537.22 63.36 537.63 63.36 538.04 63.36 538.46 63.36 538.87 63.36 539.28 63.36 539.70 63.36 540.11 63.36 540.52 63.36 540.94 63.36 541.35 63.36 541.77 63.36 542.18 63.36 542.59 63.36 543.01 63.36 543.42 63.36 543.83 63.36 544.25 63.36 544.66 63.36 545.08 63.36 545.49 63.36 545.90 63.36 546.32 63.36 546.73 63.36 547.14 63.36 547.56 63.36 547.97 63.36 548.38 63.36 548.80 63.36 549.21 63.36 549.63 63.36 550.04 63.36 550.45 63.36 550.87 63.36 551.28 63.36 551.69 63.36 552.11 63.36 552.52 63.36 552.94 63.36 553.35 63.36 553.76 63.36 554.18 63.36 554.59 63.36 555.00 63.36 555.42 63.36 555.83 63.36 556.24 63.36 556.66 63.36 557.07 63.36 557.49 63.36 557.90 63.36 558.31 63.36 558.73 63.36 559.14 63.36 559.55 63.36 559.97 63.36 560.38 63.36 560.80 63.36 561.21 63.36 561.62 63.36 562.04 63.36 562.45 63.36 562.86 63.36 563.28 63.36 563.69 63.36 564.10 63.36 564.52 63.36 564.93 63.36 565.35 63.36 565.76 63.36 566.17 63.36 566.59 63.36 567.00 63.36 567.41 63.36 567.83 63.36 568.24 63.36 568.66 63.36 569.07 63.36 569.48 63.36 569.90 63.36 570.31 63.36 570.72 63.36 571.14 63.36 571.55 63.36 571.96 63.36 572.38 63.36 572.79 63.36 573.21 63.36 573.62 63.36 574.03 63.36 574.45 63.36 574.86 63.36 575.27 63.36 575.69 63.36 576.10 63.36 576.52 63.36 576.93 63.36 577.34 63.36 577.76 63.36 578.17 63.36 578.58 63.36 579.00 63.36 579.41 63.36 579.83 63.36 580.24 63.36 580.65 63.36 581.07 63.36 581.48 63.36 581.89 63.36 582.31 63.36 582.72 63.36 583.13 63.36 583.55 63.36 583.96 63.36 584.38 63.36 584.79 63.36 585.20 63.36 585.62 63.36 586.03 63.36 586.44 63.36 586.86 63.36 587.27 63.36 587.69 63.36 588.10 63.36 588.51 63.36 588.93 63.36 589.34 63.36 589.75 63.36 590.17 63.36 590.58 63.36 590.99 63.36 591.41 63.36 591.82 63.36 592.24 63.36 592.65 63.36 593.06 63.36 593.48 63.36 593.89 63.36 594.30 63.36 594.72 63.36 595.13 63.36 595.55 63.36 595.96 63.36 596.37 63.36 596.79 63.36 597.20 63.36" fill="none" stroke="#f00" stroke-width="1.7" clip-path="url(#c01)"/>
<rect x="349.4" y="2.0" width="247.8" height="153.4" fill="none" stroke="#4a4a4a" stroke-width="1.2"/>
<rect x="349.4" y="170.7" width="247.8" height="38.2" fill="none" stroke="#a8a8a8" stroke-width="1.1"/>
<path d="M370.1 155.4v-1.3M370.1 2.0v1.3M390.7 155.4v-2.5M390.7 2.0v2.5M411.4 155.4v-1.3M411.4 2.0v1.3M432.0 155.4v-2.5M432.0 2.0v2.5M452.6 155.4v-1.3M452.6 2.0v1.3M473.3 155.4v-2.5M473.3 2.0v2.5M494.0 155.4v-1.3M494.0 2.0v1.3M514.6 155.4v-2.5M514.6 2.0v2.5M535.2 155.4v-1.3M535.2 2.0v1.3M555.9 155.4v-2.5M555.9 2.0v2.5M576.6 155.4v-1.3M576.6 2.0v1.3M370.1 208.9v-1.3M370.1 170.7v1.3M390.7 208.9v-2.5M390.7 170.7v2.5M411.4 208.9v-1.3M411.4 170.7v1.3M432.0 208.9v-2.5M432.0 170.7v2.5M452.6 208.9v-1.3M452.6 170.7v1.3M473.3 208.9v-2.5M473.3 170.7v2.5M494.0 208.9v-1.3M494.0 170.7v1.3M514.6 208.9v-2.5M514.6 170.7v2.5M535.2 208.9v-1.3M535.2 170.7v1.3M555.9 208.9v-2.5M555.9 170.7v2.5M576.6 208.9v-1.3M576.6 170.7v1.3M349.4 140.1h1.3M597.2 140.1h-1.3M349.4 124.7h2.5M597.2 124.7h-2.5M349.4 109.4h1.3M597.2 109.4h-1.3M349.4 94.0h2.5M597.2 94.0h-2.5M349.4 78.7h1.3M597.2 78.7h-1.3M349.4 63.4h2.5M597.2 63.4h-2.5M349.4 48.0h1.3M597.2 48.0h-1.3M349.4 32.7h2.5M597.2 32.7h-2.5M349.4 17.3h1.3M597.2 17.3h-1.3M349.4 204.1h1.3M597.2 204.1h-1.3M349.4 199.3h2.5M597.2 199.3h-2.5M349.4 194.6h1.3M597.2 194.6h-1.3M349.4 189.8h2.5M597.2 189.8h-2.5M349.4 185.0h1.3M597.2 185.0h-1.3M349.4 180.2h2.5M597.2 180.2h-2.5M349.4 175.5h1.3M597.2 175.5h-1.3" stroke="#333" stroke-width="0.8" fill="none"/>
<g font-family="Liberation Serif" font-size="7.2" fill="#222" stroke="#222" stroke-width="0.12"><text transform="translate(349.1 165.3) scale(0.9 1)" text-anchor="middle">−0. 06</text><text transform="translate(349.1 216.6) scale(0.9 1)" text-anchor="middle">−0. 06</text><text transform="translate(390.4 165.3) scale(0.9 1)" text-anchor="middle">−0. 04</text><text transform="translate(390.4 216.6) scale(0.9 1)" text-anchor="middle">−0. 04</text><text transform="translate(431.7 165.3) scale(0.9 1)" text-anchor="middle">−0. 02</text><text transform="translate(431.7 216.6) scale(0.9 1)" text-anchor="middle">−0. 02</text><text transform="translate(473.0 165.3) scale(0.9 1)" text-anchor="middle">0. 00</text><text transform="translate(473.0 216.6) scale(0.9 1)" text-anchor="middle">0. 00</text><text transform="translate(514.3 165.3) scale(0.9 1)" text-anchor="middle">0. 02</text><text transform="translate(514.3 216.6) scale(0.9 1)" text-anchor="middle">0. 02</text><text transform="translate(555.6 165.3) scale(0.9 1)" text-anchor="middle">0. 04</text><text transform="translate(555.6 216.6) scale(0.9 1)" text-anchor="middle">0. 04</text><text transform="translate(596.9 165.3) scale(0.9 1)" text-anchor="middle">0. 06</text><text transform="translate(596.9 216.6) scale(0.9 1)" text-anchor="middle">0. 06</text><text transform="translate(344.7 158.4) scale(0.9 1)" text-anchor="end">0. 9985</text><text transform="translate(344.7 127.7) scale(0.9 1)" text-anchor="end">0. 9990</text><text transform="translate(344.7 97.0) scale(0.9 1)" text-anchor="end">0. 9995</text><text transform="translate(344.7 66.4) scale(0.9 1)" text-anchor="end">1. 0000</text><text transform="translate(344.7 35.7) scale(0.9 1)" text-anchor="end">1. 0005</text><text transform="translate(344.7 5.0) scale(0.9 1)" text-anchor="end">1. 0010</text><text transform="translate(346.4 211.9) scale(0.9 1)" text-anchor="end">−0. 0010</text><text transform="translate(346.4 202.3) scale(0.9 1)" text-anchor="end">−0. 0005</text><text transform="translate(346.4 192.8) scale(0.9 1)" text-anchor="end">0. 0000</text><text transform="translate(346.4 183.2) scale(0.9 1)" text-anchor="end">0. 0005</text><text transform="translate(346.4 173.7) scale(0.9 1)" text-anchor="end">0. 0010</text></g>
<text transform="translate(473.3 226.9) scale(0.74 1)" font-family="Liberation Serif" font-size="9.8" fill="#222" stroke="#222" stroke-width="0.12" text-anchor="middle">PHASE</text>
<text font-family="Liberation Serif" font-size="10" fill="#222" stroke="#222" stroke-width="0.2" text-anchor="middle" transform="translate(317.8 79.1) rotate(-90) scale(0.5 1)" y="3.5">MAG</text>
<text font-family="Liberation Serif" font-size="10" fill="#222" stroke="#222" stroke-width="0.2" text-anchor="middle" transform="translate(316.4 189.8) rotate(-90) scale(0.62 1)" y="3.5">O−C</text>
<g font-family="Liberation Serif" font-size="8.2" fill="#f22" stroke="#f22" stroke-width="0.1" font-weight="bold"><text x="544.8" y="11.5" textLength="12.6" lengthAdjust="spacingAndGlyphs">TIC</text><text x="561.1" y="11.5" textLength="32.3" lengthAdjust="spacingAndGlyphs">25155310</text></g>
<clipPath id="c10"><rect x="36.3" y="241.8" width="247.4" height="153.6"/></clipPath>
<clipPath id="d10"><rect x="36.3" y="410.6" width="247.4" height="38.1"/></clipPath>
<g clip-path="url(#c10)"><path d="M55.6 299.6 179.3 363.7 117.5 343.3 241.2 301.9 86.6 312.5 210.3 314.8 148.4 355.0 272.1 305.4 47.9 292.7 171.6 357.4 109.7 335.2 233.4 295.6 78.8 302.8 202.5 364.7 140.7 339.5 264.4 296.7 63.4 303.9 187.1 345.1 125.2 351.2 248.9 306.8 94.3 294.1 218.0 301.5 156.1 368.4 279.8 287.0 38.2 297.5 161.9 362.1 100.1 291.9 223.8 299.9 69.2 308.0 192.9 347.8 131.0 356.2 254.7 313.4 53.7 289.0 177.4 354.7 115.5 353.4 239.2 293.0 84.6 300.6 208.3 343.7 146.5 352.7 270.2 303.0 46.0 318.4 169.7 334.9 107.8 314.9 231.5 303.4 76.9 289.8 200.6 348.3 138.7 362.0 262.4 293.5 61.4 301.0 185.1 365.0 123.3 336.6 247.0 297.1 92.4 304.3 216.1 296.3 154.2 356.7 277.9 307.3 42.1 294.5 165.8 359.0 103.9 317.1 227.6 288.0 73.0 297.9 196.7 356.5 134.9 347.4 258.6 300.2 57.6 308.6 181.3 351.2 119.4 352.2 243.1 315.0 88.5 282.0 212.2 315.1 150.3 360.8 274.0 290.3 49.8 298.9 173.5 363.4 111.7 328.2 235.4 301.2 80.8 310.6 204.5 334.0 142.6 353.7 266.3 304.6 65.3 291.6 189.0 353.7 127.1 360.5 250.8 294.8 96.2 302.0 219.9 312.8 158.1 346.0 281.8 298.1 37.3 305.5 161.0 350.1 99.1 300.5 222.8 309.0 68.2 295.7 191.9 355.9 130.0 370.4 253.7 284.0 52.7 296.8 176.4 360.5 114.6 336.5 238.3 299.2 83.7 306.9 207.4 332.4 145.5 358.2 269.2 311.3 45.0 287.2 168.7 354.8 106.8 319.8 230.5 292.0 75.9 300.0 199.6 358.2 137.8 350.7 261.5 302.3 60.5 313.8 184.2 344.4 122.3 349.3 246.0 305.9 91.4 293.2 215.1 308.8 153.2 366.8 276.9 296.0 41.1 303.1 164.8 376.9 103.0 282.2 226.7 296.4 72.1 303.5 195.8 341.6 133.9 353.5 257.6 306.3 56.6 293.6 180.3 357.0 118.4 359.4 242.1 285.7 87.5 297.2 211.2 326.8 149.4 348.4 273.1 299.5 48.9 307.4 172.6 351.5 110.7 332.2 234.4 312.3 79.8 288.2 203.5 346.1 141.6 361.6 265.3 292.6 64.3 300.3 188.0 363.0 126.2 347.9 249.9 302.7 95.3 315.5 219.0 282.8 157.1 353.9 280.8 303.8 39.2 290.5 162.9 356.3 101.0 306.7 224.7 294.0 70.1 301.3 193.8 363.3 132.0 340.9 255.7 297.4 54.7 304.7 178.4 348.0 116.5 347.9 240.2 307.8 85.6 294.9 209.3 332.5 147.4 370.0 271.1 288.8 46.9 298.2 170.6 362.7 108.8 315.4 232.5 300.6 77.9 309.2 201.6 344.9 139.7 358.9 263.4 317.4 62.4 284.5 186.1 351.7 124.2 355.8 247.9 290.9 93.3 299.3 217.0 309.4 155.2 351.6 278.9 301.6 43.1 311.5 166.8 344.7 104.9 305.8 228.6 305.0 74.0 292.2 197.7 350.9 135.8 363.5 259.5 295.2 58.5 302.4 182.2 369.8 120.4 339.5 244.1 298.5 89.5 306.0 213.2 308.2 151.3 358.0 275.0 309.7 50.8 296.1 174.5 360.0 112.6 359.9 236.3 275.9 81.7 296.2 205.4 349.1 143.6 346.2 267.3 298.6 66.3 306.1 190.0 347.1 128.1 354.0 251.8 309.9 97.2 285.1 220.9 297.0 159.0 361.5 282.7 291.1 36.8 299.4 160.5 364.5 98.6 294.4 222.3 301.7 67.7 311.8 191.4 341.1 129.6 351.4 253.3 305.1 52.2 292.3 175.9 356.7 114.1 352.4 237.8 295.3 83.2 302.5 206.9 354.9 145.0 338.1 268.7 296.5 44.5 303.6 168.2 347.4 106.4 312.0 230.1 306.5 75.4 293.8 199.1 351.4 137.3 366.0 261.0 286.1 60.0 297.3 183.7 359.8 121.8 342.2 245.5 299.6 90.9 307.6 214.6 304.4 152.8 359.2 276.5 312.6 40.6 288.5 164.3 355.4 102.5 306.6 226.2 292.7 71.6 300.4 195.3 360.8 133.4 350.3 257.1 302.8 56.1 316.3 179.8 339.7 118.0 345.6 241.7 303.9 87.0 290.7 210.7 323.5 148.9 363.9 272.6 294.1 48.4 301.5 172.1 368.1 110.2 315.4 233.9 297.6 79.3 304.8 203.0 340.3 141.2 356.1 264.9 308.0 63.8 295.0 187.5 356.6 125.7 365.8 249.4 289.1 94.8 298.3 218.5 305.8 156.6 350.4 280.3 300.7 38.7 309.4 162.4 353.2 100.6 303.1 224.3 318.8 69.6 278.6 193.3 348.9 131.5 357.6 255.2 289.8 54.2 298.7 177.9 362.6 116.0 341.4 239.7 301.0 85.1 310.1 208.8 317.8 147.0 354.0 270.7 304.3 46.4 291.3 170.1 356.6 108.3 327.9 232.0 294.5 77.4 301.8 201.1 361.4 139.2 343.9 262.9 297.9 61.9 305.2 185.6 347.4 123.8 351.7 247.5 308.6 92.8 295.4 216.5 306.3 154.7 372.4 278.4 282.3 42.6 296.6 166.3 361.0 104.4 296.9 228.1 299.0 73.5 306.6 197.2 345.0 135.4 356.4 259.1 310.7 58.0 286.5 181.7 353.1 119.9 354.4 243.6 291.7 89.0 299.7 212.7 324.5 150.8 352.0 274.5 302.1 50.3 312.9 174.0 345.5 112.2 334.5 235.9 305.6 81.2 292.8 204.9 347.8 143.1 365.5 266.8 295.7 65.8 302.9 189.5 370.8 127.6 337.1 251.3 296.8 96.7 304.0 220.4 290.8 158.6 356.5 282.3 307.0 37.7 294.2 161.4 358.9 99.6 311.4 223.3 287.3 68.7 297.6 192.4 357.9 130.5 345.9 254.2 300.0 53.2 308.2 176.9 351.6 115.1 349.7 238.8 313.9 84.1 289.3 207.8 334.7 146.0 362.7 269.7 293.2 45.5 300.8 169.2 366.7 107.3 312.7 231.0 303.2 76.4 320.2 200.1 330.1 138.3 352.1 262.0 303.5 60.9 290.0 184.6 353.9 122.8 357.5 246.5 293.7 91.9 301.1 215.6 316.9 153.7 343.1 277.4 297.2 41.6 304.4 165.3 348.7 103.5 303.2 227.2 307.5 72.5 294.6 196.2 353.4 134.4 367.2 258.1 288.3 57.1 298.0 180.8 361.2 118.9 342.0 242.6 300.3 88.0 308.8 211.7 316.0 149.9 359.8 273.6 315.7 49.3 283.0 173.0 353.5 111.2 336.2 234.9 290.5 80.3 299.0 204.0 354.6 142.1 350.3 265.8 301.4 64.8 310.9 188.5 340.9 126.7 350.1 250.4 304.7 95.7 291.8 219.4 299.8 157.6 365.2 281.3 294.9 39.7 302.2 163.4 370.5 101.5 288.9 225.2 298.3 70.6 305.7 194.3 345.2 132.5 355.0 256.2 309.2 55.1 295.8 178.8 359.2 117.0 366.1 240.7 284.6 86.1 296.9 209.8 332.5 147.9 347.9 271.6 299.3 47.4 307.1 171.1 351.3 109.3 326.0 233.0 311.6 78.3 287.6 202.0 346.6 140.2 361.1 263.9 292.2 62.9 300.1 186.6 362.9 124.7 347.1 248.4 302.4 93.8 314.3 217.5 290.7 155.7 355.8 279.4 306.0 43.5 293.3 167.2 358.1 105.4 319.5 229.1 296.1 74.5 303.3 198.2 373.5 136.3 332.0 260.0 296.2 59.0 303.4 182.7 345.2 120.9 348.9 244.6 306.2 89.9 293.5 213.6 314.1 151.8 367.2 275.5 285.2 51.3 297.1 175.0 360.9 113.1 331.3 236.8 299.4 82.2 307.3 205.9 338.4 144.1 358.3 267.8 311.9 66.7 287.9 190.4 351.4 128.6 358.4 252.3 292.4 97.7 300.2 221.4 308.5 159.5 352.7 283.2 302.5 36.5 314.9 160.2 339.1 98.4 296.5 222.1 303.7 67.5 290.2 191.2 352.2 129.3 360.0 253.0 293.8 52.0 301.2 175.7 367.2 113.9 329.3 237.6 297.3 82.9 304.5 206.6 332.7 144.8 356.3 268.5 307.7 44.3 294.8 168.0 359.2 106.1 325.0 229.8 288.6 75.2 298.1 198.9 355.9 137.0 348.2 260.7 300.4 59.7 309.0 183.4 351.0 121.6 353.4 245.3 316.5 90.7 283.8 214.4 307.3 152.5 361.2 276.2 290.7 40.4 299.2 164.1 364.2 102.3 294.7 226.0 301.5 71.3 311.2 195.0 339.1 133.2 352.2 256.9 304.9 55.9 292.0 179.6 356.0 117.7 356.8 241.4 295.1 86.8 302.3 210.5 339.0 148.6 346.2 272.3 298.4 48.1 305.8 171.8 350.1 110.0 328.1 233.7 309.5 79.1 295.9 202.8 351.6 140.9 375.3 264.6 279.3 63.6 296.3 187.3 357.9 125.5 342.1 249.2 298.7 94.5 306.3 218.2 293.6 156.4 358.3 280.1 310.2 38.5 285.6 162.2 354.5 100.3 304.3 224.0 291.3 69.4 299.5 193.1 360.1 131.2 348.6 254.9 301.8 53.9 312.2 177.6 344.5 115.8 345.7 239.5 305.3 84.9 292.5 208.6 333.6 146.7 365.5 270.4 295.5 46.2 302.6 169.9 372.4 108.1 302.1 231.8 296.6 77.1 303.8 200.8 339.9 139.0 354.8 262.7 306.6 61.7 293.9 185.4 356.2 123.5 362.2 247.2 286.6 92.6 297.4 216.3 309.0 154.4 349.0 278.1 299.8 42.3 307.8 166.0 352.1 104.2 307.9 227.9 313.0 73.3 288.8 197.0 349.4 135.1 360.6 258.8 292.9 57.8 300.5 181.5 364.9 119.7 345.5 243.4 302.9 88.7 317.2 212.4 302.0 150.6 354.0 274.3 304.1 50.1 290.9 173.8 356.0 111.9 342.3 235.6 294.2 81.0 301.6 204.7 358.9 142.8 343.8 266.5 297.7 65.5 305.0 189.2 346.0 127.4 352.9 251.1 308.2 96.5 295.2 220.2 302.4 158.3 371.4 282.0 289.4 37.5 298.5 161.2 363.3 99.4 293.2 223.1 300.8 68.4 309.6 192.1 349.0 130.3 357.0 254.0 320.9 53.0 280.7 176.7 352.9 114.8 350.2 238.5 290.1 83.9 298.8 207.6 343.7 145.7 350.5 269.4 301.1 45.2 310.4 168.9 343.1 107.1 313.0 230.8 304.4 76.2 291.5 199.9 349.5 138.0 363.2 261.7 294.7 60.7 301.9 184.4 367.6 122.6 339.3 246.3 298.0 91.6 305.4 215.3 299.9 153.5 357.6 277.2 308.8 41.4 295.6 165.1 360.0 103.2 318.9 226.9 283.2 72.3 296.7 196.0 355.4 134.1 345.4 257.8 299.1 56.8 306.8 180.5 349.9 118.7 350.6 242.4 311.0 87.8 286.9 211.5 319.0 149.6 361.8 273.3 291.9 49.1 299.8 172.8 364.8 111.0 326.3 234.7 302.2 80.0 313.3 203.7 337.0 141.9 354.6 265.6 305.7 64.6 293.0 188.3 354.8 126.4 361.8 250.1 295.8 95.5 303.0 219.2 318.0 157.3 342.1 281.0 297.0 39.4 304.1 163.1 348.3 101.3 299.3 225.0 307.1 70.4 294.3 194.1 354.0 132.2 366.0 255.9 287.7 54.9 297.8 178.6 361.3 116.8 340.5 240.5 300.1 85.8 308.4 209.5 324.6 147.7 359.4 271.4 314.4 47.2 289.5 170.9 355.6 109.0 329.5 232.7 293.4 78.1 300.9 201.8 358.8 139.9 352.1 263.6 303.3 62.6 323.6 186.3 330.6 124.5 348.0 248.2 303.3 93.6 289.6 217.3 300.4 155.4 363.4 279.1 293.4 43.3 300.9 167.0 367.1 105.2 293.8 228.9 297.0 74.2 304.2 197.9 341.9 136.1 354.6 259.8 307.2 58.8 294.4 182.5 357.3 120.6 361.9 244.3 287.8 89.7 297.8 213.4 319.1 151.5 349.5 275.2 300.1 51.0 308.4 174.7 352.0 112.9 341.7 236.6 314.6 82.0 281.2 205.7 341.3 143.8 360.2 267.5 290.1 66.5 298.8 190.2 360.1 128.4 346.9 252.1 301.2 97.4 310.5 221.1 286.1 159.3 354.6 283.0 304.5 37.0 291.5 160.7 356.9 98.9 307.6 222.6 294.7 67.9 302.0 191.6 365.7 129.8 342.1 253.5 298.1 52.5 305.4 176.2 349.2 114.3 345.2 238.0 308.9 83.4 295.6 207.1 342.0 145.3 372.8 269.0 283.5 44.8 296.7 168.5 361.1 106.6 304.6 230.3 299.1 75.7 306.8 199.4 344.2 137.5 357.0 261.2 311.1 60.2 287.0 183.9 352.8 122.1 355.6 245.8 291.9 91.1 299.9 214.8 316.9 153.0 352.2 276.7 302.2 40.9 313.5 164.6 346.4 102.7 300.1 226.4 305.8 71.8 293.1 195.5 352.4 133.7 364.1 257.4 295.9 56.4 303.0 180.1 374.5 118.2 327.1 241.9 296.3 87.3 303.4 211.0 313.2 149.1 355.7 272.8 306.2 48.6 293.5 172.3 357.9 110.5 339.4 234.2 285.4 79.5 297.1 203.2 352.5 141.4 347.5 265.1 299.4 64.1 307.3 187.8 348.8 125.9 354.1 249.6 312.0 95.0 288.0 218.7 297.9 156.9 362.5 280.6 292.4 39.0 300.2 162.7 365.9 100.8 295.4 224.5 302.6 69.9 315.1 193.6 334.6 131.7 350.7 255.4 303.7 54.4 290.3 178.1 355.2 116.3 354.6 240.0 293.9 85.3 301.3 209.0 342.0 147.2 343.3 270.9 297.4 46.7 304.6 170.4 348.7 108.5 321.2 232.2 307.7 77.6 294.8 201.3 351.3 139.5 368.8 263.2 288.7 62.2 298.2 185.9 360.4 124.0 344.4 247.7 300.5 93.1 309.0 216.8 298.7 154.9 360.1 278.6 316.8 42.8 284.0 166.5 354.1 104.7 311.3 228.4 290.8 73.7 299.2 197.4 357.9 135.6 349.3 259.3 301.5 58.3 311.3 182.0 342.9 120.1 347.6 243.8 304.9 89.2 292.1 212.9 315.8 151.1 365.3 274.8 295.1 50.6 302.3 174.3 370.6 112.4 326.5 236.1 298.4 81.5 305.9 205.2 339.8 143.3 357.2 267.0 309.5 66.0 296.0 189.7 356.9 127.9 372.8 251.6 280.0 96.9 296.4 220.6 303.5 158.8 347.3 282.5 298.8 38.0 306.3 161.7 351.0 99.8 301.1 223.5 310.3 68.9 285.7 192.6 350.0 130.8 358.3 254.5 291.4 53.5 299.5 177.2 363.9 115.3 342.1 239.0 301.9 84.4 312.3 208.1 323.5 146.2 354.8 269.9 305.3 45.7 292.6 169.4 357.4 107.6 326.4 231.3 295.5 76.6 302.7 200.3 365.3 138.5 338.6 262.2 296.6 61.2 303.8 184.9 345.5 123.0 350.2 246.7 306.7 92.1 294.0 215.8 307.1 154.0 368.1 277.7 286.7 41.9 297.5 165.6 362.0 103.7 296.2 227.4 299.8 72.8 307.9 196.5 346.3 134.6 357.1 258.3 313.2 57.3 288.9 181.0 354.1 119.2 355.1 242.9 292.9 88.2 300.6 211.9 328.7 150.1 352.9 273.8 303.0 49.6 317.5 173.3 341.4 111.4 330.2 235.1 304.1 80.5 290.9 204.2 347.0 142.4 363.4 266.1 294.3 65.1 301.6 188.8 365.6 126.9 340.2 250.6 297.7 96.0 305.0 219.7 292.2 157.8 357.4 281.5 308.3 39.9 295.2 163.6 359.7 101.8 314.2 225.5 289.4 70.8 298.5 194.5 358.1 132.7 347.7 256.4 300.8 55.4 309.7 179.1 352.2 117.2 351.7 240.9 322.0 86.3 275.9 210.0 323.6 148.2 360.3 271.9 289.7 47.7 298.6 171.4 363.1 109.5 318.8 233.2 300.9 78.6 310.0 202.3 333.9 140.4 353.1 264.1 304.2 63.1 291.1 186.8 354.0 125.0 359.2 248.7 294.4 94.0 301.7 217.7 312.5 155.9 345.1 279.6 297.8 43.8 305.1 167.5 349.6 105.6 310.7 229.3 308.5 74.7 295.3 198.4 353.1 136.6 370.1 260.3 281.5 59.3 296.5 183.0 359.1 121.1 340.6 244.8 298.9 90.2 306.5 213.9 306.0 152.0 358.4 275.7 310.5 51.5 286.2 175.2 354.0 113.4 345.6 237.1 291.6 82.4 299.6 206.1 350.6 144.3 351.3 268.0 302.0 67.0 312.7 190.7 342.0 128.8 351.4 252.5 305.5 97.9 292.7 221.6 300.4 159.8 366.3 283.5 295.6 36.4 302.8 160.1 373.6 98.3 283.7 222.0 296.8 67.3 303.9 191.0 344.0 129.2 352.6 252.9 306.9 51.9 294.1 175.6 358.1 113.7 353.7 237.4 287.1 82.8 297.6 206.5 346.4 144.7 348.6 268.4 299.9 44.2 308.0 167.9 352.2 106.0 314.1 229.7 313.6 75.1 289.1 198.8 348.8 136.9 361.2 260.6 293.1 59.6 300.7 183.3 364.8 121.5 346.4 245.2 303.1 90.5 318.9 214.2 289.8 152.4 353.5 276.1 303.5 40.3 289.9 164.0 356.0 102.1 306.6 225.8 293.6 71.2 301.0 194.9 362.2 133.1 340.0 256.8 297.1 55.7 304.3 179.4 347.4 117.6 348.2 241.3 307.4 86.7 294.5 210.4 327.7 148.5 369.1 272.2 288.1 48.0 297.9 171.7 362.2 109.9 319.3 233.6 300.2 78.9 308.6 202.6 344.0 140.8 358.7 264.5 315.2 63.5 282.4 187.2 351.1 125.3 355.8 249.0 290.4 94.4 299.0 218.1 306.6 156.3 351.2 280.0 301.3 38.4 310.7 162.1 343.8 100.2 297.4 223.9 304.6 69.3 291.7 193.0 352.5 131.1 361.8 254.8 294.8 53.8 302.1 177.5 369.3 115.7 336.4 239.4 298.2 84.7 305.6 208.4 326.7 146.6 357.3 270.3 309.1 46.1 295.7 169.8 360.0 107.9 336.1 231.6 284.2 77.0 296.9 200.7 353.6 138.9 346.6 262.6 299.2 61.5 307.0 185.2 349.2 123.4 352.9 247.1 311.4 92.5 287.3 216.2 302.4 154.3 362.2 278.0 292.1 42.2 300.0 165.9 365.4 104.1 300.6 227.8 302.3 73.1 314.0 196.8 340.6 135.0 353.5 258.7 305.9 57.7 293.2 181.4 356.5 119.5 359.2 243.2 296.0 88.6 303.2 212.3 338.5 150.5 337.6 274.2 296.4 50.0 303.5 173.7 346.9 111.8 333.6 235.5 306.4" fill="none" stroke="none" marker-start="url(#o)" marker-mid="url(#o)" marker-end="url(#o)"/></g>
<g clip-path="url(#d10)"><path d="M72.1 431.4 195.8 425.1 133.9 429.2 257.6 432.7 56.6 426.8 180.3 430.3 118.4 434.6 242.1 423.0 87.5 428.4 211.2 431.8 149.4 425.7 273.1 429.5 48.9 433.3 172.6 427.2 110.7 430.6 234.4 435.5 79.8 424.2 203.5 428.8 141.6 432.3 265.3 426.3 64.3 429.9 188.0 433.9 126.2 427.7 249.9 431.0 95.3 437.1 219.0 421.7 157.1 428.2 280.8 431.6 39.2 425.3 162.9 429.3 101.0 432.9 224.7 426.9 70.1 430.4 193.8 434.9 132.0 423.5 255.7 428.6 54.7 432.0 178.4 425.9 116.5 429.7 240.2 433.5 85.6 427.4 209.3 430.8 147.4 435.9 271.1 424.5 46.9 428.9 170.6 432.4 108.8 426.4 232.5 430.0 77.9 434.1 201.6 427.8 139.7 431.2 263.4 438.0 62.4 422.5 186.1 428.3 124.2 431.7 247.9 425.5 93.3 429.4 217.0 433.1 155.2 427.1 278.9 430.5 43.1 435.2 166.8 423.9 104.9 428.7 228.6 432.1 74.0 426.1 197.7 429.8 135.8 433.7 259.5 427.5 58.5 430.9 182.2 436.4 120.4 424.8 244.1 429.1 89.5 432.6 213.2 426.6 151.3 430.2 275.0 434.3 50.8 427.9 174.5 431.3 112.6 440.0 236.3 418.4 81.7 428.0 205.4 431.3 143.6 424.9 267.3 429.1 66.3 432.7 190.0 426.7 128.1 430.2 251.8 434.4 97.2 422.7 220.9 428.4 159.0 431.8 282.7 425.6 36.8 429.5 160.5 433.2 98.6 427.1 222.3 430.6 67.7 435.3 191.4 424.0 129.6 428.8 253.3 432.2 52.2 426.2 175.9 429.8 114.1 433.7 237.8 427.6 83.2 431.0 206.9 436.7 145.0 421.0 268.7 428.1 44.5 431.5 168.2 425.2 106.4 429.2 230.1 432.8 75.4 426.8 199.1 430.3 137.3 434.7 261.0 423.3 60.0 428.5 183.7 431.9 121.8 425.8 245.5 429.6 90.9 433.3 214.6 427.3 152.8 430.7 276.5 435.7 40.6 424.4 164.3 428.9 102.5 432.3 226.2 426.4 71.6 430.0 195.3 434.0 133.4 427.7 257.1 431.1 56.1 437.4 179.8 422.1 118.0 428.2 241.7 431.6 87.0 425.4 210.7 429.4 148.9 433.0 272.6 427.0 48.4 430.5 172.1 435.0 110.2 423.7 233.9 428.6 79.3 432.0 203.0 426.0 141.2 429.7 264.9 433.5 63.8 427.4 187.5 430.8 125.7 436.1 249.4 424.7 94.8 429.0 218.5 432.5 156.6 426.5 280.3 430.1 38.7 434.2 162.4 427.9 100.6 431.2 224.3 438.6 69.6 419.7 193.3 428.0 131.5 431.4 255.2 425.0 54.2 429.2 177.9 432.7 116.0 426.7 239.7 430.2 85.1 434.5 208.8 422.9 147.0 428.4 270.7 431.8 46.4 425.7 170.1 429.5 108.3 433.2 232.0 427.2 77.4 430.6 201.1 435.4 139.2 424.2 262.9 428.8 61.9 432.2 185.6 426.2 123.8 429.9 247.5 433.8 92.8 427.6 216.5 431.0 154.7 436.9 278.4 421.5 42.6 428.2 166.3 431.5 104.4 425.2 228.1 429.3 73.5 432.9 197.2 426.9 135.4 430.4 259.1 434.8 58.0 423.4 181.7 428.5 119.9 431.9 243.6 425.9 89.0 429.6 212.7 433.4 150.8 427.3 274.5 430.7 50.3 435.8 174.0 424.5 112.2 428.9 235.9 432.4 81.2 426.4 204.9 430.0 143.1 434.0 266.8 427.8 65.8 431.1 189.5 437.7 127.6 422.3 251.3 428.3 96.7 431.7 220.4 425.5 158.6 429.4 282.3 433.0 37.7 427.0 161.4 430.5 99.6 435.1 223.3 423.8 68.7 428.7 192.4 432.1 130.5 426.1 254.2 429.8 53.2 433.6 176.9 427.5 115.1 430.9 238.8 436.3 84.1 424.7 207.8 429.0 146.0 432.5 269.7 426.6 45.5 430.1 169.2 434.3 107.3 427.9 231.0 431.3 76.4 439.3 200.1 420.5 138.3 428.1 262.0 431.4 60.9 425.1 184.6 429.2 122.8 432.8 246.5 426.8 91.9 430.3 215.6 434.6 153.7 423.1 277.4 428.5 41.6 431.8 165.3 425.7 103.5 429.6 227.2 433.3 72.5 427.2 196.2 430.7 134.4 435.6 258.1 424.3 57.1 428.8 180.8 432.3 118.9 426.3 242.6 429.9 88.0 433.9 211.7 427.7 149.9 431.0 273.6 437.1 49.3 421.8 173.0 428.2 111.2 431.6 234.9 425.3 80.3 429.3 204.0 432.9 142.1 426.9 265.8 430.4 64.8 434.9 188.5 423.6 126.7 428.6 250.4 432.0 95.7 425.9 219.4 429.7 157.6 433.5 281.3 427.4 39.7 430.8 163.4 436.0 101.5 424.6 225.2 429.0 70.6 432.4 194.3 426.5 132.5 430.0 256.2 434.1 55.1 427.8 178.8 431.2 117.0 438.1 240.7 422.5 86.1 428.3 209.8 431.7 147.9 425.5 271.6 429.4 47.4 433.1 171.1 427.1 109.3 430.5 233.0 435.2 78.3 423.9 202.0 428.7 140.2 432.1 263.9 426.1 62.9 429.8 186.6 433.7 124.7 427.5 248.4 430.9 93.8 436.5 217.5 424.8 155.7 429.1 279.4 432.6 43.5 426.6 167.2 430.2 105.4 434.4 229.1 427.9 74.5 431.3 198.2 440.5 136.3 418.8 260.0 428.0 59.0 431.4 182.7 424.9 120.9 429.1 244.6 432.7 89.9 426.7 213.6 430.2 151.8 434.5 275.5 422.8 51.3 428.4 175.0 431.8 113.1 425.6 236.8 429.5 82.2 433.2 205.9 427.2 144.1 430.6 267.8 435.4 66.7 424.1 190.4 428.8 128.6 432.2 252.3 426.2 97.7 429.9 221.4 433.8 159.5 427.6 283.2 431.0 36.5 436.8 160.2 421.2 98.4 428.1 222.1 431.5 67.5 425.2 191.2 429.3 129.3 432.8 253.0 426.9 52.0 430.3 175.7 434.7 113.9 423.3 237.6 428.5 82.9 431.9 206.6 425.8 144.8 429.6 268.5 433.4 44.3 427.3 168.0 430.7 106.1 435.7 229.8 424.4 75.2 428.9 198.9 432.4 137.0 426.4 260.7 430.0 59.7 434.0 183.4 427.7 121.6 431.1 245.3 437.5 90.7 422.2 214.4 428.3 152.5 431.6 276.2 425.4 40.4 429.4 164.1 433.0 102.3 427.0 226.0 430.5 71.3 435.0 195.0 423.7 133.2 428.6 256.9 432.1 55.9 426.0 179.6 429.7 117.7 433.6 241.4 427.5 86.8 430.8 210.5 436.2 148.6 424.7 272.3 429.0 48.1 432.5 171.8 426.5 110.0 430.1 233.7 434.2 79.1 427.9 202.8 431.2 140.9 438.8 264.6 420.0 63.6 428.0 187.3 431.4 125.5 425.0 249.2 429.2 94.5 432.7 218.2 426.8 156.4 430.3 280.1 434.6 38.5 423.0 162.2 428.4 100.3 431.8 224.0 425.7 69.4 429.5 193.1 433.2 131.2 427.2 254.9 430.6 53.9 435.5 177.6 424.2 115.8 428.8 239.5 432.3 84.9 426.3 208.6 429.9 146.7 433.8 270.4 427.6 46.2 431.0 169.9 437.0 108.1 421.6 231.8 428.2 77.1 431.5 200.8 425.3 139.0 429.3 262.7 432.9 61.7 426.9 185.4 430.4 123.5 434.8 247.2 423.5 92.6 428.6 216.3 432.0 154.4 425.9 278.1 429.7 42.3 433.4 166.0 427.4 104.2 430.8 227.9 435.9 73.3 424.5 197.0 428.9 135.1 432.4 258.8 426.4 57.8 430.0 181.5 434.1 119.7 427.8 243.4 431.1 88.7 437.8 212.4 422.4 150.6 428.3 274.3 431.7 50.1 425.5 173.8 429.4 111.9 433.1 235.6 427.1 81.0 430.5 204.7 435.1 142.8 423.9 266.5 428.7 65.5 432.1 189.2 426.1 127.4 429.8 251.1 433.6 96.5 427.5 220.2 430.9 158.3 436.4 282.0 424.8 37.5 429.1 161.2 432.6 99.4 426.6 223.1 430.1 68.4 434.3 192.1 427.9 130.3 431.3 254.0 439.6 53.0 420.7 176.7 428.1 114.8 431.4 238.5 425.1 83.9 429.2 207.6 432.8 145.7 426.8 269.4 430.3 45.2 434.6 168.9 423.2 107.1 428.5 230.8 431.9 76.2 425.8 199.9 429.6 138.0 433.3 261.7 427.3 60.7 430.7 184.4 435.6 122.6 424.3 246.3 428.8 91.6 432.3 215.3 426.3 153.5 429.9 277.2 433.9 41.4 427.7 165.1 431.1 103.2 437.2 226.9 421.9 72.3 428.2 196.0 431.6 134.1 425.3 257.8 429.3 56.8 432.9 180.5 427.0 118.7 430.4 242.4 434.9 87.8 423.6 211.5 428.6 149.6 432.0 273.3 426.0 49.1 429.7 172.8 433.5 111.0 427.4 234.7 430.8 80.0 436.0 203.7 424.6 141.9 429.0 265.6 432.5 64.6 426.5 188.3 430.1 126.4 434.1 250.1 427.8 95.5 431.2 219.2 438.3 157.3 422.6 281.0 428.3 39.4 431.7 163.1 425.6 101.3 429.5 225.0 433.1 70.4 427.1 194.1 430.5 132.2 435.3 255.9 424.0 54.9 428.7 178.6 432.2 116.8 426.1 240.5 429.8 85.8 433.7 209.5 427.5 147.7 430.9 271.4 436.6 47.2 424.9 170.9 429.1 109.0 432.6 232.7 426.6 78.1 430.2 201.8 434.4 139.9 428.0 263.6 431.3 62.6 440.9 186.3 418.4 124.5 428.0 248.2 431.3 93.6 424.9 217.3 429.1 155.4 432.6 279.1 426.7 43.3 430.2 167.0 434.4 105.2 422.7 228.9 428.4 74.2 431.7 197.9 425.6 136.1 429.5 259.8 433.2 58.8 427.1 182.5 430.6 120.6 435.3 244.3 424.0 89.7 428.7 213.4 432.2 151.5 426.2 275.2 429.8 51.0 433.7 174.7 427.6 112.9 430.9 236.6 436.6 82.0 420.9 205.7 428.1 143.8 431.5 267.5 425.1 66.5 429.2 190.2 432.8 128.4 426.8 252.1 430.3 97.4 434.7 221.1 423.2 159.3 428.5 283.0 431.9 37.0 425.8 160.7 429.6 98.9 433.3 222.6 427.3 67.9 430.7 191.6 435.7 129.8 424.3 253.5 428.9 52.5 432.3 176.2 426.3 114.3 430.0 238.0 433.9 83.4 427.7 207.1 431.1 145.3 437.3 269.0 422.0 44.8 428.2 168.5 431.6 106.6 425.4 230.3 429.4 75.7 433.0 199.4 427.0 137.5 430.4 261.2 435.0 60.2 423.7 183.9 428.6 122.1 432.0 245.8 426.0 91.1 429.7 214.8 433.5 153.0 427.4 276.7 430.8 40.9 436.1 164.6 424.6 102.7 429.0 226.4 432.5 71.8 426.5 195.5 430.1 133.7 434.2 257.4 427.8 56.4 431.2 180.1 438.5 118.2 419.5 241.9 428.0 87.3 431.4 211.0 425.0 149.1 429.2 272.8 432.7 48.6 426.7 172.3 430.2 110.5 434.5 234.2 422.9 79.5 428.4 203.2 431.8 141.4 425.7 265.1 429.5 64.1 433.2 187.8 427.2 125.9 430.6 249.6 435.4 95.0 424.1 218.7 428.8 156.9 432.2 280.6 426.2 39.0 429.9 162.7 433.8 100.8 427.6 224.5 431.0 69.9 436.8 193.6 421.4 131.7 428.1 255.4 431.5 54.4 425.2 178.1 429.3 116.3 432.9 240.0 426.9 85.3 430.4 209.0 434.8 147.2 423.4 270.9 428.5 46.7 431.9 170.4 425.9 108.5 429.6 232.2 433.4 77.6 427.3 201.3 430.7 139.5 435.8 263.2 424.4 62.2 428.9 185.9 432.4 124.0 426.4 247.7 430.0 93.1 434.0 216.8 427.8 154.9 431.1 278.6 437.7" fill="none" stroke="none" marker-start="url(#p)" marker-mid="url(#p)" marker-end="url(#p)"/></g>
<path d="M36.30 303.24 36.71 303.24 37.13 303.24 37.54 303.24 37.95 303.24 38.37 303.24 38.78 303.24 39.19 303.24 39.60 303.24 40.02 303.24 40.43 303.24 40.84 303.24 41.26 303.24 41.67 303.24 42.08 303.24 42.50 303.24 42.91 303.24 43.32 303.24 43.73 303.24 44.15 303.24 44.56 303.24 44.97 303.24 45.39 303.24 45.80 303.24 46.21 303.24 46.63 303.24 47.04 303.24 47.45 303.24 47.86 303.24 48.28 303.24 48.69 303.24 49.10 303.24 49.52 303.24 49.93 303.24 50.34 303.24 50.76 303.24 51.17 303.24 51.58 303.24 51.99 303.24 52.41 303.24 52.82 303.24 53.23 303.24 53.65 303.24 54.06 303.24 54.47 303.24 54.89 303.24 55.30 303.24 55.71 303.24 56.13 303.24 56.54 303.24 56.95 303.24 57.36 303.24 57.78 303.24 58.19 303.24 58.60 303.24 59.02 303.24 59.43 303.24 59.84 303.24 60.26 303.24 60.67 303.24 61.08 303.24 61.49 303.24 61.91 303.24 62.32 303.24 62.73 303.24 63.15 303.24 63.56 303.24 63.97 303.24 64.39 303.24 64.80 303.24 65.21 303.24 65.62 303.24 66.04 303.24 66.45 303.24 66.86 303.24 67.28 303.24 67.69 303.24 68.10 303.24 68.52 303.24 68.93 303.24 69.34 303.24 69.75 303.24 70.17 303.24 70.58 303.24 70.99 303.24 71.41 303.24 71.82 303.24 72.23 303.24 72.65 303.24 73.06 303.24 73.47 303.24 73.88 303.24 74.30 303.24 74.71 303.24 75.12 303.24 75.54 303.24 75.95 303.24 76.36 303.24 76.78 303.24 77.19 303.24 77.60 303.24 78.02 303.24 78.43 303.24 78.84 303.24 79.25 303.24 79.67 303.24 80.08 303.24 80.49 303.24 80.91 303.24 81.32 303.24 81.73 303.24 82.15 303.24 82.56 303.24 82.97 303.24 83.38 303.24 83.80 303.24 84.21 303.24 84.62 303.24 85.04 303.24 85.45 303.24 85.86 303.24 86.28 303.24 86.69 303.24 87.10 303.24 87.51 303.24 87.93 303.24 88.34 303.24 88.75 303.24 89.17 303.24 89.58 303.24 89.99 303.24 90.41 303.24 90.82 303.24 91.23 303.24 91.64 303.24 92.06 303.24 92.47 303.24 92.88 303.24 93.30 303.24 93.71 303.24 94.12 303.24 94.54 303.24 94.95 303.24 95.36 303.24 95.78 303.24 96.19 303.24 96.60 303.24 97.01 303.24 97.43 303.24 97.84 303.24 98.25 303.24 98.67 303.24 99.08 303.24 99.49 303.24 99.91 303.25 100.32 303.28 100.73 303.35 101.14 303.50 101.56 303.76 101.97 304.19 102.38 304.79 102.80 305.58 103.21 306.52 103.62 307.59 104.04 308.76 104.45 310.00 104.86 311.31 105.27 312.66 105.69 314.07 106.10 315.52 106.51 317.00 106.93 318.53 107.34 320.09 107.75 321.67 108.17 323.29 108.58 324.92 108.99 326.57 109.40 328.24 109.82 329.92 110.23 331.60 110.64 333.29 111.06 334.98 111.47 336.67 111.88 338.35 112.30 340.01 112.71 341.66 113.12 343.27 113.54 344.83 113.95 346.28 114.36 347.60 114.77 348.73 115.19 349.63 115.60 350.32 116.01 350.83 116.43 351.20 116.84 351.49 117.25 351.73 117.67 351.95 118.08 352.16 118.49 352.37 118.90 352.57 119.32 352.77 119.73 352.97 120.14 353.16 120.56 353.35 120.97 353.54 121.38 353.72 121.80 353.90 122.21 354.08 122.62 354.26 123.03 354.43 123.45 354.60 123.86 354.77 124.27 354.93 124.69 355.09 125.10 355.25 125.51 355.40 125.93 355.56 126.34 355.71 126.75 355.86 127.16 356.00 127.58 356.14 127.99 356.28 128.40 356.42 128.82 356.55 129.23 356.68 129.64 356.81 130.06 356.94 130.47 357.06 130.88 357.18 131.29 357.30 131.71 357.42 132.12 357.53 132.53 357.64 132.95 357.75 133.36 357.86 133.77 357.96 134.19 358.06 134.60 358.16 135.01 358.26 135.43 358.35 135.84 358.44 136.25 358.53 136.66 358.62 137.08 358.70 137.49 358.78 137.90 358.86 138.32 358.94 138.73 359.02 139.14 359.09 139.56 359.16 139.97 359.23 140.38 359.30 140.79 359.37 141.21 359.43 141.62 359.49 142.03 359.55 142.45 359.61 142.86 359.66 143.27 359.71 143.69 359.77 144.10 359.81 144.51 359.86 144.92 359.91 145.34 359.95 145.75 359.99 146.16 360.03 146.58 360.07 146.99 360.11 147.40 360.14 147.82 360.18 148.23 360.21 148.64 360.24 149.05 360.27 149.47 360.29 149.88 360.32 150.29 360.34 150.71 360.37 151.12 360.39 151.53 360.41 151.95 360.42 152.36 360.44 152.77 360.46 153.19 360.47 153.60 360.48 154.01 360.50 154.42 360.51 154.84 360.52 155.25 360.52 155.66 360.53 156.08 360.54 156.49 360.54 156.90 360.55 157.32 360.55 157.73 360.56 158.14 360.56 158.55 360.56 158.97 360.56 159.38 360.56 159.79 360.56 160.21 360.56 160.62 360.56 161.03 360.56 161.45 360.56 161.86 360.56 162.27 360.56 162.68 360.55 163.10 360.55 163.51 360.54 163.92 360.54 164.34 360.53 164.75 360.52 165.16 360.52 165.58 360.51 165.99 360.50 166.40 360.48 166.81 360.47 167.23 360.46 167.64 360.44 168.05 360.42 168.47 360.41 168.88 360.39 169.29 360.37 169.71 360.34 170.12 360.32 170.53 360.29 170.95 360.27 171.36 360.24 171.77 360.21 172.18 360.18 172.60 360.14 173.01 360.11 173.42 360.07 173.84 360.03 174.25 359.99 174.66 359.95 175.08 359.91 175.49 359.86 175.90 359.81 176.31 359.77 176.73 359.71 177.14 359.66 177.55 359.61 177.97 359.55 178.38 359.49 178.79 359.43 179.21 359.37 179.62 359.30 180.03 359.23 180.44 359.16 180.86 359.09 181.27 359.02 181.68 358.94 182.10 358.86 182.51 358.78 182.92 358.70 183.34 358.62 183.75 358.53 184.16 358.44 184.57 358.35 184.99 358.26 185.40 358.16 185.81 358.06 186.23 357.96 186.64 357.86 187.05 357.75 187.47 357.64 187.88 357.53 188.29 357.42 188.71 357.30 189.12 357.18 189.53 357.06 189.94 356.94 190.36 356.81 190.77 356.68 191.18 356.55 191.60 356.42 192.01 356.28 192.42 356.14 192.84 356.00 193.25 355.86 193.66 355.71 194.07 355.56 194.49 355.40 194.90 355.25 195.31 355.09 195.73 354.93 196.14 354.77 196.55 354.60 196.97 354.43 197.38 354.26 197.79 354.08 198.20 353.90 198.62 353.72 199.03 353.54 199.44 353.35 199.86 353.16 200.27 352.97 200.68 352.77 201.10 352.57 201.51 352.37 201.92 352.16 202.33 351.95 202.75 351.73 203.16 351.49 203.57 351.20 203.99 350.83 204.40 350.32 204.81 349.63 205.23 348.73 205.64 347.60 206.05 346.28 206.46 344.83 206.88 343.27 207.29 341.66 207.70 340.01 208.12 338.35 208.53 336.67 208.94 334.98 209.36 333.29 209.77 331.60 210.18 329.92 210.60 328.24 211.01 326.57 211.42 324.92 211.83 323.29 212.25 321.67 212.66 320.09 213.07 318.53 213.49 317.00 213.90 315.52 214.31 314.07 214.73 312.66 215.14 311.31 215.55 310.00 215.96 308.76 216.38 307.59 216.79 306.52 217.20 305.58 217.62 304.79 218.03 304.19 218.44 303.76 218.86 303.50 219.27 303.35 219.68 303.28 220.09 303.25 220.51 303.24 220.92 303.24 221.33 303.24 221.75 303.24 222.16 303.24 222.57 303.24 222.99 303.24 223.40 303.24 223.81 303.24 224.22 303.24 224.64 303.24 225.05 303.24 225.46 303.24 225.88 303.24 226.29 303.24 226.70 303.24 227.12 303.24 227.53 303.24 227.94 303.24 228.36 303.24 228.77 303.24 229.18 303.24 229.59 303.24 230.01 303.24 230.42 303.24 230.83 303.24 231.25 303.24 231.66 303.24 232.07 303.24 232.49 303.24 232.90 303.24 233.31 303.24 233.72 303.24 234.14 303.24 234.55 303.24 234.96 303.24 235.38 303.24 235.79 303.24 236.20 303.24 236.62 303.24 237.03 303.24 237.44 303.24 237.85 303.24 238.27 303.24 238.68 303.24 239.09 303.24 239.51 303.24 239.92 303.24 240.33 303.24 240.75 303.24 241.16 303.24 241.57 303.24 241.98 303.24 242.40 303.24 242.81 303.24 243.22 303.24 243.64 303.24 244.05 303.24 244.46 303.24 244.88 303.24 245.29 303.24 245.70 303.24 246.12 303.24 246.53 303.24 246.94 303.24 247.35 303.24 247.77 303.24 248.18 303.24 248.59 303.24 249.01 303.24 249.42 303.24 249.83 303.24 250.25 303.24 250.66 303.24 251.07 303.24 251.48 303.24 251.90 303.24 252.31 303.24 252.72 303.24 253.14 303.24 253.55 303.24 253.96 303.24 254.38 303.24 254.79 303.24 255.20 303.24 255.61 303.24 256.03 303.24 256.44 303.24 256.85 303.24 257.27 303.24 257.68 303.24 258.09 303.24 258.51 303.24 258.92 303.24 259.33 303.24 259.74 303.24 260.16 303.24 260.57 303.24 260.98 303.24 261.40 303.24 261.81 303.24 262.22 303.24 262.64 303.24 263.05 303.24 263.46 303.24 263.87 303.24 264.29 303.24 264.70 303.24 265.11 303.24 265.53 303.24 265.94 303.24 266.35 303.24 266.77 303.24 267.18 303.24 267.59 303.24 268.01 303.24 268.42 303.24 268.83 303.24 269.24 303.24 269.66 303.24 270.07 303.24 270.48 303.24 270.90 303.24 271.31 303.24 271.72 303.24 272.14 303.24 272.55 303.24 272.96 303.24 273.37 303.24 273.79 303.24 274.20 303.24 274.61 303.24 275.03 303.24 275.44 303.24 275.85 303.24 276.27 303.24 276.68 303.24 277.09 303.24 277.50 303.24 277.92 303.24 278.33 303.24 278.74 303.24 279.16 303.24 279.57 303.24 279.98 303.24 280.40 303.24 280.81 303.24 281.22 303.24 281.63 303.24 282.05 303.24 282.46 303.24 282.87 303.24 283.29 303.24 283.70 303.24" fill="none" stroke="#f00" stroke-width="1.7" clip-path="url(#c10)"/>
<rect x="36.3" y="241.8" width="247.4" height="153.6" fill="none" stroke="#4a4a4a" stroke-width="1.2"/>
<rect x="36.3" y="410.6" width="247.4" height="38.1" fill="none" stroke="#a8a8a8" stroke-width="1.1"/>
<path d="M51.8 395.4v-1.3M51.8 241.8v1.3M67.2 395.4v-2.5M67.2 241.8v2.5M82.7 395.4v-1.3M82.7 241.8v1.3M98.1 395.4v-2.5M98.1 241.8v2.5M113.6 395.4v-1.3M113.6 241.8v1.3M129.1 395.4v-2.5M129.1 241.8v2.5M144.5 395.4v-1.3M144.5 241.8v1.3M160.0 395.4v-2.5M160.0 241.8v2.5M175.5 395.4v-1.3M175.5 241.8v1.3M190.9 395.4v-2.5M190.9 241.8v2.5M206.4 395.4v-1.3M206.4 241.8v1.3M221.8 395.4v-2.5M221.8 241.8v2.5M237.3 395.4v-1.3M237.3 241.8v1.3M252.8 395.4v-2.5M252.8 241.8v2.5M268.2 395.4v-1.3M268.2 241.8v1.3M51.8 448.7v-1.3M51.8 410.6v1.3M67.2 448.7v-2.5M67.2 410.6v2.5M82.7 448.7v-1.3M82.7 410.6v1.3M98.1 448.7v-2.5M98.1 410.6v2.5M113.6 448.7v-1.3M113.6 410.6v1.3M129.1 448.7v-2.5M129.1 410.6v2.5M144.5 448.7v-1.3M144.5 410.6v1.3M160.0 448.7v-2.5M160.0 410.6v2.5M175.5 448.7v-1.3M175.5 410.6v1.3M190.9 448.7v-2.5M190.9 410.6v2.5M206.4 448.7v-1.3M206.4 410.6v1.3M221.8 448.7v-2.5M221.8 410.6v2.5M237.3 448.7v-1.3M237.3 410.6v1.3M252.8 448.7v-2.5M252.8 410.6v2.5M268.2 448.7v-1.3M268.2 410.6v1.3M36.3 380.0h1.3M283.7 380.0h-1.3M36.3 364.7h2.5M283.7 364.7h-2.5M36.3 349.3h1.3M283.7 349.3h-1.3M36.3 334.0h2.5M283.7 334.0h-2.5M36.3 318.6h1.3M283.7 318.6h-1.3M36.3 303.2h2.5M283.7 303.2h-2.5M36.3 287.9h1.3M283.7 287.9h-1.3M36.3 272.5h2.5M283.7 272.5h-2.5M36.3 257.2h1.3M283.7 257.2h-1.3M36.3 446.0h2.5M283.7 446.0h-2.5M36.3 441.9h1.3M283.7 441.9h-1.3M36.3 437.8h2.5M283.7 437.8h-2.5M36.3 433.7h1.3M283.7 433.7h-1.3M36.3 429.6h2.5M283.7 429.6h-2.5M36.3 425.6h1.3M283.7 425.6h-1.3M36.3 421.5h2.5M283.7 421.5h-2.5M36.3 417.4h1.3M283.7 417.4h-1.3M36.3 413.3h2.5M283.7 413.3h-2.5" stroke="#333" stroke-width="0.8" fill="none"/>
<g font-family="Liberation Serif" font-size="7.2" fill="#222" stroke="#222" stroke-width="0.12"><text transform="translate(36.0 405.3) scale(0.9 1)" text-anchor="middle">−0. 04</text><text transform="translate(36.0 456.4) scale(0.9 1)" text-anchor="middle">−0. 04</text><text transform="translate(66.9 405.3) scale(0.9 1)" text-anchor="middle">−0. 03</text><text transform="translate(66.9 456.4) scale(0.9 1)" text-anchor="middle">−0. 03</text><text transform="translate(97.8 405.3) scale(0.9 1)" text-anchor="middle">−0. 02</text><text transform="translate(97.8 456.4) scale(0.9 1)" text-anchor="middle">−0. 02</text><text transform="translate(128.8 405.3) scale(0.9 1)" text-anchor="middle">−0. 01</text><text transform="translate(128.8 456.4) scale(0.9 1)" text-anchor="middle">−0. 01</text><text transform="translate(159.7 405.3) scale(0.9 1)" text-anchor="middle">0. 00</text><text transform="translate(159.7 456.4) scale(0.9 1)" text-anchor="middle">0. 00</text><text transform="translate(190.6 405.3) scale(0.9 1)" text-anchor="middle">0. 01</text><text transform="translate(190.6 456.4) scale(0.9 1)" text-anchor="middle">0. 01</text><text transform="translate(221.5 405.3) scale(0.9 1)" text-anchor="middle">0. 02</text><text transform="translate(221.5 456.4) scale(0.9 1)" text-anchor="middle">0. 02</text><text transform="translate(252.5 405.3) scale(0.9 1)" text-anchor="middle">0. 03</text><text transform="translate(252.5 456.4) scale(0.9 1)" text-anchor="middle">0. 03</text><text transform="translate(283.4 405.3) scale(0.9 1)" text-anchor="middle">0. 04</text><text transform="translate(283.4 456.4) scale(0.9 1)" text-anchor="middle">0. 04</text><text transform="translate(31.1 398.4) scale(0.9 1)" text-anchor="end">0. 9985</text><text transform="translate(31.1 367.7) scale(0.9 1)" text-anchor="end">0. 9990</text><text transform="translate(31.1 337.0) scale(0.9 1)" text-anchor="end">0. 9995</text><text transform="translate(31.1 306.2) scale(0.9 1)" text-anchor="end">1. 0000</text><text transform="translate(31.1 275.5) scale(0.9 1)" text-anchor="end">1. 0005</text><text transform="translate(31.1 244.8) scale(0.9 1)" text-anchor="end">1. 0010</text><text transform="translate(32.8 449.0) scale(0.9 1)" text-anchor="end">−0. 0006</text><text transform="translate(32.8 440.8) scale(0.9 1)" text-anchor="end">−0. 0003</text><text transform="translate(32.8 432.6) scale(0.9 1)" text-anchor="end">0. 0000</text><text transform="translate(32.8 424.5) scale(0.9 1)" text-anchor="end">0. 0003</text><text transform="translate(32.8 416.3) scale(0.9 1)" text-anchor="end">0. 0006</text></g>
<text transform="translate(160.0 466.7) scale(0.74 1)" font-family="Liberation Serif" font-size="9.8" fill="#222" stroke="#222" stroke-width="0.12" text-anchor="middle">PHASE</text>
<text font-family="Liberation Serif" font-size="10" fill="#222" stroke="#222" stroke-width="0.2" text-anchor="middle" transform="translate(4.7 319.0) rotate(-90) scale(0.5 1)" y="3.5">MAG</text>
<text font-family="Liberation Serif" font-size="10" fill="#222" stroke="#222" stroke-width="0.2" text-anchor="middle" transform="translate(3.3 429.6) rotate(-90) scale(0.62 1)" y="3.5">O−C</text>
<g font-family="Liberation Serif" font-size="8.2" fill="#f22" stroke="#f22" stroke-width="0.1" font-weight="bold"><text x="231.9" y="251.6" textLength="11.7" lengthAdjust="spacingAndGlyphs">TIC</text><text x="246.9" y="251.6" textLength="29.9" lengthAdjust="spacingAndGlyphs">8767448</text></g>
<clipPath id="c11"><rect x="349.4" y="241.8" width="247.8" height="153.6"/></clipPath>
<clipPath id="d11"><rect x="349.4" y="410.6" width="247.8" height="38.1"/></clipPath>
<g clip-path="url(#c11)"><path d="M500.4 351.9 438.5 356.1 562.4 310.0 407.5 300.1 531.4 305.9 469.4 370.7 593.3 294.5 351.3 302.8 475.2 365.8 413.3 298.4 537.2 304.6 382.3 311.0 506.2 353.6 444.3 360.4 568.2 315.2 366.8 296.1 490.7 359.8 428.8 356.8 552.7 299.3 397.8 305.2 521.7 346.3 459.7 358.3 583.6 307.1 359.1 319.1 483.0 344.4 421.0 320.4 544.9 307.4 390.1 296.7 514.0 353.3 452.0 365.4 575.9 299.6 374.6 305.5 498.5 367.6 436.5 344.5 560.4 302.4 405.5 308.1 529.4 302.9 467.5 361.5 591.4 310.4 355.2 300.4 479.1 363.4 417.2 319.2 541.1 295.3 386.2 303.1 510.1 360.1 448.1 353.8 572.0 304.9 370.7 311.4 494.6 356.9 432.6 356.3 556.5 316.5 401.7 290.6 525.6 320.6 463.6 364.7 587.5 297.1 363.0 303.9 486.9 366.7 424.9 334.2 548.8 305.7 393.9 313.0 517.8 341.6 455.9 359.0 579.8 308.3 378.4 298.2 502.3 358.5 440.4 363.5 564.3 300.6 409.4 306.3 533.3 314.8 471.4 353.1 595.3 303.3 350.4 309.0 474.3 356.4 412.3 305.1 536.2 311.8 381.3 301.3 505.2 360.0 443.3 371.5 567.2 292.2 365.9 302.2 489.8 364.4 427.8 343.2 551.7 304.1 396.8 310.1 520.7 338.4 458.8 362.6 582.7 313.5 358.1 294.7 482.0 360.0 420.1 323.4 544.0 298.5 389.1 304.7 513.0 361.1 451.0 356.5 574.9 306.5 373.6 315.5 497.5 351.5 435.5 354.4 559.4 309.3 404.6 299.4 528.5 313.4 466.5 369.4 590.4 301.6 354.2 307.2 478.1 377.4 416.2 291.3 540.1 301.9 385.2 307.5 509.1 348.5 447.2 358.5 571.1 309.7 369.7 299.7 493.6 361.5 431.7 361.9 555.6 293.5 400.7 302.5 524.6 330.6 462.7 355.0 586.6 304.3 362.0 310.5 485.9 357.4 423.9 336.5 547.8 314.3 393.0 295.5 516.9 351.3 454.9 365.1 578.8 298.9 377.5 304.9 501.4 365.8 439.4 353.6 563.3 306.8 408.4 316.9 532.3 291.2 470.4 359.4 594.3 307.7 352.3 297.2 476.2 361.3 414.3 309.9 538.2 300.0 383.3 305.8 507.2 365.6 445.2 348.5 569.1 302.7 367.8 308.4 491.7 354.5 429.7 352.7 553.6 310.9 398.8 300.7 522.7 336.7 460.7 371.9 584.6 296.0 360.0 303.3 483.9 366.2 422.0 321.6 545.9 305.2 391.0 311.9 514.9 350.5 453.0 363.0 576.9 318.4 375.5 292.6 499.4 357.1 437.5 359.6 561.4 297.6 406.5 304.1 530.4 312.6 468.5 357.5 592.4 306.0 356.2 313.7 480.1 352.2 418.1 311.0 542.0 308.6 387.2 298.6 511.1 355.6 449.1 366.4 573.0 301.0 371.7 306.6 495.6 371.4 433.6 346.5 557.5 303.5 402.6 309.4 526.5 314.3 464.6 362.5 588.5 312.3 363.9 301.6 487.8 364.0 425.9 359.9 549.8 285.8 394.9 301.7 518.8 353.1 456.8 353.1 580.7 303.6 379.4 309.5 503.3 353.3 441.4 358.5 565.3 312.5 410.4 293.0 534.3 302.4 472.3 365.3 596.2 297.8 349.9 304.2 473.8 367.7 411.8 300.3 535.7 306.1 380.9 314.0 504.8 348.4 442.8 356.6 566.7 308.7 365.4 298.7 489.3 361.4 427.3 355.3 551.2 301.1 396.3 306.7 520.2 356.4 458.3 346.9 582.2 302.0 357.6 307.6 481.5 354.2 419.6 316.9 543.5 309.8 388.6 299.8 512.5 355.9 450.6 368.5 574.5 293.9 373.1 302.6 497.0 363.6 435.1 348.8 559.0 304.4 404.1 310.7 528.0 310.3 466.0 363.5 589.9 314.6 353.8 295.7 477.7 360.5 415.7 310.2 539.6 299.0 384.7 305.0 508.6 363.6 446.7 355.9 570.6 306.9 369.2 317.4 493.1 347.9 431.2 351.0 555.1 307.8 400.2 297.4 524.1 328.4 462.2 367.1 586.1 300.1 361.5 305.9 485.4 370.4 423.4 322.9" fill="none" stroke="none" marker-start="url(#q)" marker-mid="url(#q)" marker-end="url(#q)"/></g>
<g clip-path="url(#d11)"><path d="M538.2 427.8 383.3 430.1 507.2 433.1 445.2 425.6 569.1 428.9 367.8 431.2 491.7 427.2 429.7 429.7 553.6 432.2 398.8 428.1 522.7 430.4 460.7 433.8 584.6 426.2 360.0 429.2 483.9 431.5 422.0 427.5 545.9 429.9 391.0 432.6 514.9 428.4 453.0 430.7 576.9 435.2 375.5 424.9 499.4 428.8 437.5 431.0 561.4 426.9 406.5 429.5 530.4 431.9 468.5 427.9 592.4 430.2 356.2 433.3 480.1 425.8 418.1 429.0 542.0 431.3 387.2 427.3 511.1 429.7 449.1 432.3 573.0 428.2 371.7 430.5 495.6 434.2 433.6 426.4 557.5 429.3 402.6 431.6 526.5 427.6 464.6 430.0 588.5 432.8 363.9 428.5 487.8 430.7 425.9 436.5 549.8 422.2 394.9 428.5 518.8 430.8 456.8 426.5 580.7 429.3 379.4 431.7 503.3 427.7 441.4 430.0 565.3 432.8 410.4 425.0 534.3 428.8 472.3 431.1 596.2 426.9 349.9 429.5 473.8 432.0 411.8 428.0 535.7 430.3 380.9 433.4 504.8 425.9 442.8 429.1 566.7 431.3 365.4 427.3 489.3 429.8 427.3 432.4 551.2 428.3 396.3 430.5 520.2 434.3 458.3 423.9 582.2 428.6 357.6 430.9 481.5 426.7 419.6 429.4 543.5 431.8 388.6 427.8 512.5 430.1 450.6 433.0 574.5 425.4 373.1 428.9 497.0 431.1 435.1 427.1 559.0 429.6 404.1 432.1 528.0 428.1 466.0 430.4 589.9 433.7 353.8 426.1 477.7 429.1 415.7 431.4 539.6 427.5 384.7 429.9 508.6 432.5 446.7 428.4 570.6 430.6 369.2 434.8 493.1 424.6 431.2 428.7 555.1 431.0 400.2 426.8 524.1 429.5 462.2 431.9 586.1 427.9 361.5 430.2 485.4 433.2 423.4 425.7 547.3 429.0 392.5 431.2 516.4 427.2 454.4 429.7 578.3 432.2 377.0 428.2 500.9 430.4 438.9 434.0 562.8 426.3 408.0 429.2 531.9 431.5 469.9 427.6 593.8 429.9 351.8 432.7 475.7 428.5 413.8 430.7 537.7 435.6 382.8 423.0 506.7 428.6 444.7 430.8 568.6 426.6 367.3 429.3 491.2 431.7 429.3 427.7 553.2 430.0 398.3 432.9 522.2 425.2 460.2 428.8 584.1 431.1 359.6 427.0 483.5 429.6 421.5 432.0 545.4 428.0 390.5 430.3 514.4 433.5 452.5 426.0 576.4 429.1 375.1 431.4 499.0 427.4 437.0 429.8 560.9 432.4 406.0 428.3 529.9 430.5 468.0 434.5 591.9 424.2 355.7 428.7 479.6 430.9 417.6 426.7 541.5 429.4 386.7 431.8 510.6 427.8 448.6 430.1 572.5 433.1 371.2 425.5 495.1 428.9 433.1 431.2 557.0 427.1 402.2 429.6 526.1 432.2 464.1 428.1 588.0 430.4 363.4 433.8 487.3 426.2 425.4 429.2 549.3 431.5 394.4 427.5 518.3 429.9 456.4 432.6 580.3 428.4 378.9 430.6 502.8 435.0 440.9 424.8 564.8 428.7 409.9 431.0 533.8 426.9 471.8 429.5 595.7 431.9 350.9 427.9 474.8 430.2 412.8 433.3 536.7 425.8 381.8 429.0 505.7 431.3 443.8 427.3 567.7 429.7 366.3 432.3 490.2 428.2 428.3 430.5 552.2 434.1 397.3 426.4 521.2 429.2 459.3 431.6 583.2 427.6 358.6 430.0 482.5 432.7 420.5 428.5 544.4 430.7 389.6 436.1 513.5 423.6 451.5 428.6 575.4 430.8 374.1 426.6 498.0 429.3 436.0 431.7 559.9 427.7 405.1 430.1 529.0 433.0 467.0 425.3 590.9 428.9 354.7 431.1 478.6 427.0 416.7 429.6 540.6 432.1 385.7 428.0 509.6 430.3 447.6 433.6 571.5 426.1 370.2 429.1 494.1 431.4 432.2 427.4 556.1 429.8 401.2 432.5 525.1 428.3 463.1 430.6 587.0 434.6 362.5 424.4 486.4 428.7 424.4 430.9 548.3 426.8 393.4 429.4 517.3 431.8 455.4 427.8 579.3 430.2 378.0 433.1 501.9 425.6 439.9 428.9 563.8 431.2 408.9 427.2" fill="none" stroke="none" marker-start="url(#p)" marker-mid="url(#p)" marker-end="url(#p)"/></g>
<path d="M349.40 305.51 349.81 305.51 350.23 305.51 350.64 305.51 351.05 305.51 351.47 305.51 351.88 305.51 352.30 305.51 352.71 305.51 353.12 305.51 353.54 305.51 353.95 305.51 354.36 305.51 354.78 305.51 355.19 305.51 355.61 305.51 356.02 305.51 356.43 305.51 356.85 305.51 357.26 305.51 357.67 305.51 358.09 305.51 358.50 305.51 358.91 305.51 359.33 305.51 359.74 305.51 360.16 305.51 360.57 305.51 360.98 305.51 361.40 305.51 361.81 305.51 362.22 305.51 362.64 305.51 363.05 305.51 363.47 305.51 363.88 305.51 364.29 305.51 364.71 305.51 365.12 305.51 365.53 305.51 365.95 305.51 366.36 305.51 366.77 305.51 367.19 305.51 367.60 305.51 368.02 305.51 368.43 305.51 368.84 305.51 369.26 305.51 369.67 305.51 370.08 305.51 370.50 305.51 370.91 305.51 371.33 305.51 371.74 305.51 372.15 305.51 372.57 305.51 372.98 305.51 373.39 305.51 373.81 305.51 374.22 305.51 374.64 305.51 375.05 305.51 375.46 305.51 375.88 305.51 376.29 305.51 376.70 305.51 377.12 305.51 377.53 305.51 377.94 305.51 378.36 305.51 378.77 305.51 379.19 305.51 379.60 305.51 380.01 305.51 380.43 305.51 380.84 305.51 381.25 305.51 381.67 305.51 382.08 305.51 382.50 305.51 382.91 305.51 383.32 305.51 383.74 305.51 384.15 305.51 384.56 305.51 384.98 305.51 385.39 305.51 385.80 305.51 386.22 305.51 386.63 305.51 387.05 305.51 387.46 305.51 387.87 305.51 388.29 305.51 388.70 305.51 389.11 305.51 389.53 305.51 389.94 305.51 390.36 305.51 390.77 305.51 391.18 305.51 391.60 305.51 392.01 305.51 392.42 305.51 392.84 305.51 393.25 305.51 393.66 305.51 394.08 305.51 394.49 305.51 394.91 305.51 395.32 305.51 395.73 305.51 396.15 305.51 396.56 305.51 396.97 305.51 397.39 305.51 397.80 305.51 398.22 305.51 398.63 305.51 399.04 305.51 399.46 305.51 399.87 305.51 400.28 305.51 400.70 305.51 401.11 305.51 401.52 305.51 401.94 305.51 402.35 305.51 402.77 305.51 403.18 305.51 403.59 305.51 404.01 305.51 404.42 305.51 404.83 305.51 405.25 305.51 405.66 305.51 406.08 305.51 406.49 305.51 406.90 305.51 407.32 305.51 407.73 305.51 408.14 305.51 408.56 305.51 408.97 305.51 409.38 305.51 409.80 305.51 410.21 305.51 410.63 305.51 411.04 305.51 411.45 305.51 411.87 305.51 412.28 305.51 412.69 305.52 413.11 305.53 413.52 305.56 413.94 305.63 414.35 305.77 414.76 306.04 415.18 306.46 415.59 307.06 416.00 307.85 416.42 308.79 416.83 309.87 417.25 311.03 417.66 312.28 418.07 313.58 418.49 314.94 418.90 316.34 419.31 317.79 419.73 319.28 420.14 320.80 420.55 322.36 420.97 323.95 421.38 325.56 421.80 327.19 422.21 328.85 422.62 330.51 423.04 332.19 423.45 333.88 423.86 335.57 424.28 337.26 424.69 338.94 425.11 340.62 425.52 342.29 425.93 343.93 426.35 345.55 426.76 347.10 427.17 348.56 427.59 349.88 428.00 351.00 428.41 351.91 428.83 352.60 429.24 353.10 429.66 353.47 430.07 353.76 430.48 354.00 430.90 354.22 431.31 354.44 431.72 354.64 432.14 354.84 432.55 355.04 432.97 355.24 433.38 355.43 433.79 355.62 434.21 355.81 434.62 355.99 435.03 356.18 435.45 356.35 435.86 356.53 436.27 356.70 436.69 356.87 437.10 357.04 437.52 357.20 437.93 357.36 438.34 357.52 438.76 357.68 439.17 357.83 439.58 357.98 440.00 358.13 440.41 358.27 440.83 358.42 441.24 358.55 441.65 358.69 442.07 358.82 442.48 358.96 442.89 359.09 443.31 359.21 443.72 359.33 444.13 359.46 444.55 359.57 444.96 359.69 445.38 359.80 445.79 359.91 446.20 360.02 446.62 360.13 447.03 360.23 447.44 360.33 447.86 360.43 448.27 360.53 448.69 360.62 449.10 360.71 449.51 360.80 449.93 360.89 450.34 360.98 450.75 361.06 451.17 361.14 451.58 361.22 451.99 361.29 452.41 361.37 452.82 361.44 453.24 361.51 453.65 361.57 454.06 361.64 454.48 361.70 454.89 361.76 455.30 361.82 455.72 361.88 456.13 361.93 456.55 361.99 456.96 362.04 457.37 362.09 457.79 362.14 458.20 362.18 458.61 362.22 459.03 362.27 459.44 362.31 459.86 362.34 460.27 362.38 460.68 362.42 461.10 362.45 461.51 362.48 461.92 362.51 462.34 362.54 462.75 362.57 463.16 362.59 463.58 362.62 463.99 362.64 464.41 362.66 464.82 362.68 465.23 362.70 465.65 362.71 466.06 362.73 466.47 362.74 466.89 362.76 467.30 362.77 467.72 362.78 468.13 362.79 468.54 362.80 468.96 362.81 469.37 362.81 469.78 362.82 470.20 362.82 470.61 362.83 471.02 362.83 471.44 362.83 471.85 362.83 472.27 362.83 472.68 362.84 473.09 362.84 473.51 362.84 473.92 362.84 474.33 362.83 474.75 362.83 475.16 362.83 475.58 362.83 475.99 362.83 476.40 362.82 476.82 362.82 477.23 362.81 477.64 362.81 478.06 362.80 478.47 362.79 478.88 362.78 479.30 362.77 479.71 362.76 480.13 362.74 480.54 362.73 480.95 362.71 481.37 362.70 481.78 362.68 482.19 362.66 482.61 362.64 483.02 362.62 483.44 362.59 483.85 362.57 484.26 362.54 484.68 362.51 485.09 362.48 485.50 362.45 485.92 362.42 486.33 362.38 486.74 362.34 487.16 362.31 487.57 362.27 487.99 362.22 488.40 362.18 488.81 362.14 489.23 362.09 489.64 362.04 490.05 361.99 490.47 361.93 490.88 361.88 491.30 361.82 491.71 361.76 492.12 361.70 492.54 361.64 492.95 361.57 493.36 361.51 493.78 361.44 494.19 361.37 494.61 361.29 495.02 361.22 495.43 361.14 495.85 361.06 496.26 360.98 496.67 360.89 497.09 360.80 497.50 360.71 497.91 360.62 498.33 360.53 498.74 360.43 499.16 360.33 499.57 360.23 499.98 360.13 500.40 360.02 500.81 359.91 501.22 359.80 501.64 359.69 502.05 359.57 502.47 359.46 502.88 359.33 503.29 359.21 503.71 359.09 504.12 358.96 504.53 358.82 504.95 358.69 505.36 358.55 505.77 358.42 506.19 358.27 506.60 358.13 507.02 357.98 507.43 357.83 507.84 357.68 508.26 357.52 508.67 357.36 509.08 357.20 509.50 357.04 509.91 356.87 510.33 356.70 510.74 356.53 511.15 356.35 511.57 356.18 511.98 355.99 512.39 355.81 512.81 355.62 513.22 355.43 513.63 355.24 514.05 355.04 514.46 354.84 514.88 354.64 515.29 354.44 515.70 354.22 516.12 354.00 516.53 353.76 516.94 353.47 517.36 353.10 517.77 352.60 518.19 351.91 518.60 351.00 519.01 349.88 519.43 348.56 519.84 347.10 520.25 345.55 520.67 343.93 521.08 342.29 521.49 340.62 521.91 338.94 522.32 337.26 522.74 335.57 523.15 333.88 523.56 332.19 523.98 330.51 524.39 328.85 524.80 327.19 525.22 325.56 525.63 323.95 526.05 322.36 526.46 320.80 526.87 319.28 527.29 317.79 527.70 316.34 528.11 314.94 528.53 313.58 528.94 312.28 529.35 311.03 529.77 309.87 530.18 308.79 530.60 307.85 531.01 307.06 531.42 306.46 531.84 306.04 532.25 305.77 532.66 305.63 533.08 305.56 533.49 305.53 533.91 305.52 534.32 305.51 534.73 305.51 535.15 305.51 535.56 305.51 535.97 305.51 536.39 305.51 536.80 305.51 537.22 305.51 537.63 305.51 538.04 305.51 538.46 305.51 538.87 305.51 539.28 305.51 539.70 305.51 540.11 305.51 540.52 305.51 540.94 305.51 541.35 305.51 541.77 305.51 542.18 305.51 542.59 305.51 543.01 305.51 543.42 305.51 543.83 305.51 544.25 305.51 544.66 305.51 545.08 305.51 545.49 305.51 545.90 305.51 546.32 305.51 546.73 305.51 547.14 305.51 547.56 305.51 547.97 305.51 548.38 305.51 548.80 305.51 549.21 305.51 549.63 305.51 550.04 305.51 550.45 305.51 550.87 305.51 551.28 305.51 551.69 305.51 552.11 305.51 552.52 305.51 552.94 305.51 553.35 305.51 553.76 305.51 554.18 305.51 554.59 305.51 555.00 305.51 555.42 305.51 555.83 305.51 556.24 305.51 556.66 305.51 557.07 305.51 557.49 305.51 557.90 305.51 558.31 305.51 558.73 305.51 559.14 305.51 559.55 305.51 559.97 305.51 560.38 305.51 560.80 305.51 561.21 305.51 561.62 305.51 562.04 305.51 562.45 305.51 562.86 305.51 563.28 305.51 563.69 305.51 564.10 305.51 564.52 305.51 564.93 305.51 565.35 305.51 565.76 305.51 566.17 305.51 566.59 305.51 567.00 305.51 567.41 305.51 567.83 305.51 568.24 305.51 568.66 305.51 569.07 305.51 569.48 305.51 569.90 305.51 570.31 305.51 570.72 305.51 571.14 305.51 571.55 305.51 571.96 305.51 572.38 305.51 572.79 305.51 573.21 305.51 573.62 305.51 574.03 305.51 574.45 305.51 574.86 305.51 575.27 305.51 575.69 305.51 576.10 305.51 576.52 305.51 576.93 305.51 577.34 305.51 577.76 305.51 578.17 305.51 578.58 305.51 579.00 305.51 579.41 305.51 579.83 305.51 580.24 305.51 580.65 305.51 581.07 305.51 581.48 305.51 581.89 305.51 582.31 305.51 582.72 305.51 583.13 305.51 583.55 305.51 583.96 305.51 584.38 305.51 584.79 305.51 585.20 305.51 585.62 305.51 586.03 305.51 586.44 305.51 586.86 305.51 587.27 305.51 587.69 305.51 588.10 305.51 588.51 305.51 588.93 305.51 589.34 305.51 589.75 305.51 590.17 305.51 590.58 305.51 590.99 305.51 591.41 305.51 591.82 305.51 592.24 305.51 592.65 305.51 593.06 305.51 593.48 305.51 593.89 305.51 594.30 305.51 594.72 305.51 595.13 305.51 595.55 305.51 595.96 305.51 596.37 305.51 596.79 305.51 597.20 305.51" fill="none" stroke="#f00" stroke-width="1.7" clip-path="url(#c11)"/>
<rect x="349.4" y="241.8" width="247.8" height="153.6" fill="none" stroke="#4a4a4a" stroke-width="1.2"/>
<rect x="349.4" y="410.6" width="247.8" height="38.1" fill="none" stroke="#a8a8a8" stroke-width="1.1"/>
<path d="M364.9 395.4v-1.3M364.9 241.8v1.3M380.4 395.4v-2.5M380.4 241.8v2.5M395.9 395.4v-1.3M395.9 241.8v1.3M411.4 395.4v-2.5M411.4 241.8v2.5M426.8 395.4v-1.3M426.8 241.8v1.3M442.3 395.4v-2.5M442.3 241.8v2.5M457.8 395.4v-1.3M457.8 241.8v1.3M473.3 395.4v-2.5M473.3 241.8v2.5M488.8 395.4v-1.3M488.8 241.8v1.3M504.3 395.4v-2.5M504.3 241.8v2.5M519.8 395.4v-1.3M519.8 241.8v1.3M535.2 395.4v-2.5M535.2 241.8v2.5M550.7 395.4v-1.3M550.7 241.8v1.3M566.2 395.4v-2.5M566.2 241.8v2.5M581.7 395.4v-1.3M581.7 241.8v1.3M364.9 448.7v-1.3M364.9 410.6v1.3M380.4 448.7v-2.5M380.4 410.6v2.5M395.9 448.7v-1.3M395.9 410.6v1.3M411.4 448.7v-2.5M411.4 410.6v2.5M426.8 448.7v-1.3M426.8 410.6v1.3M442.3 448.7v-2.5M442.3 410.6v2.5M457.8 448.7v-1.3M457.8 410.6v1.3M473.3 448.7v-2.5M473.3 410.6v2.5M488.8 448.7v-1.3M488.8 410.6v1.3M504.3 448.7v-2.5M504.3 410.6v2.5M519.8 448.7v-1.3M519.8 410.6v1.3M535.2 448.7v-2.5M535.2 410.6v2.5M550.7 448.7v-1.3M550.7 410.6v1.3M566.2 448.7v-2.5M566.2 410.6v2.5M581.7 448.7v-1.3M581.7 410.6v1.3M349.4 380.0h1.3M597.2 380.0h-1.3M349.4 364.7h2.5M597.2 364.7h-2.5M349.4 349.3h1.3M597.2 349.3h-1.3M349.4 334.0h2.5M597.2 334.0h-2.5M349.4 318.6h1.3M597.2 318.6h-1.3M349.4 303.2h2.5M597.2 303.2h-2.5M349.4 287.9h1.3M597.2 287.9h-1.3M349.4 272.5h2.5M597.2 272.5h-2.5M349.4 257.2h1.3M597.2 257.2h-1.3M349.4 446.0h2.5M597.2 446.0h-2.5M349.4 441.9h1.3M597.2 441.9h-1.3M349.4 437.8h2.5M597.2 437.8h-2.5M349.4 433.7h1.3M597.2 433.7h-1.3M349.4 429.6h2.5M597.2 429.6h-2.5M349.4 425.6h1.3M597.2 425.6h-1.3M349.4 421.5h2.5M597.2 421.5h-2.5M349.4 417.4h1.3M597.2 417.4h-1.3M349.4 413.3h2.5M597.2 413.3h-2.5" stroke="#333" stroke-width="0.8" fill="none"/>
<g font-family="Liberation Serif" font-size="7.2" fill="#222" stroke="#222" stroke-width="0.12"><text transform="translate(349.1 405.3) scale(0.9 1)" text-anchor="middle">−0. 04</text><text transform="translate(349.1 456.4) scale(0.9 1)" text-anchor="middle">−0. 04</text><text transform="translate(380.1 405.3) scale(0.9 1)" text-anchor="middle">−0. 03</text><text transform="translate(380.1 456.4) scale(0.9 1)" text-anchor="middle">−0. 03</text><text transform="translate(411.1 405.3) scale(0.9 1)" text-anchor="middle">−0. 02</text><text transform="translate(411.1 456.4) scale(0.9 1)" text-anchor="middle">−0. 02</text><text transform="translate(442.0 405.3) scale(0.9 1)" text-anchor="middle">−0. 01</text><text transform="translate(442.0 456.4) scale(0.9 1)" text-anchor="middle">−0. 01</text><text transform="translate(473.0 405.3) scale(0.9 1)" text-anchor="middle">0. 00</text><text transform="translate(473.0 456.4) scale(0.9 1)" text-anchor="middle">0. 00</text><text transform="translate(504.0 405.3) scale(0.9 1)" text-anchor="middle">0. 01</text><text transform="translate(504.0 456.4) scale(0.9 1)" text-anchor="middle">0. 01</text><text transform="translate(535.0 405.3) scale(0.9 1)" text-anchor="middle">0. 02</text><text transform="translate(535.0 456.4) scale(0.9 1)" text-anchor="middle">0. 02</text><text transform="translate(565.9 405.3) scale(0.9 1)" text-anchor="middle">0. 03</text><text transform="translate(565.9 456.4) scale(0.9 1)" text-anchor="middle">0. 03</text><text transform="translate(596.9 405.3) scale(0.9 1)" text-anchor="middle">0. 04</text><text transform="translate(596.9 456.4) scale(0.9 1)" text-anchor="middle">0. 04</text><text transform="translate(344.7 398.4) scale(0.9 1)" text-anchor="end">0. 9985</text><text transform="translate(344.7 367.7) scale(0.9 1)" text-anchor="end">0. 9990</text><text transform="translate(344.7 337.0) scale(0.9 1)" text-anchor="end">0. 9995</text><text transform="translate(344.7 306.2) scale(0.9 1)" text-anchor="end">1. 0000</text><text transform="translate(344.7 275.5) scale(0.9 1)" text-anchor="end">1. 0005</text><text transform="translate(344.7 244.8) scale(0.9 1)" text-anchor="end">1. 0010</text><text transform="translate(346.4 449.0) scale(0.9 1)" text-anchor="end">−0. 0006</text><text transform="translate(346.4 440.8) scale(0.9 1)" text-anchor="end">−0. 0003</text><text transform="translate(346.4 432.6) scale(0.9 1)" text-anchor="end">0. 0000</text><text transform="translate(346.4 424.5) scale(0.9 1)" text-anchor="end">0. 0003</text><text transform="translate(346.4 416.3) scale(0.9 1)" text-anchor="end">0. 0006</text></g>
<text transform="translate(473.3 466.7) scale(0.74 1)" font-family="Liberation Serif" font-size="9.8" fill="#222" stroke="#222" stroke-width="0.12" text-anchor="middle">PHASE</text>
<text font-family="Liberation Serif" font-size="10" fill="#222" stroke="#222" stroke-width="0.2" text-anchor="middle" transform="translate(317.8 319.0) rotate(-90) scale(0.5 1)" y="3.5">MAG</text>
<text font-family="Liberation Serif" font-size="10" fill="#222" stroke="#222" stroke-width="0.2" text-anchor="middle" transform="translate(316.4 429.6) rotate(-90) scale(0.62 1)" y="3.5">O−C</text>
<g font-family="Liberation Serif" font-size="8.2" fill="#f22" stroke="#f22" stroke-width="0.1" font-weight="bold"><text x="545.5" y="251.6" textLength="11.7" lengthAdjust="spacingAndGlyphs">TIC</text><text x="560.5" y="251.6" textLength="29.9" lengthAdjust="spacingAndGlyphs">8767448</text></g>
<clipPath id="c20"><rect x="36.3" y="481.4" width="247.4" height="153.5"/></clipPath>
<clipPath id="d20"><rect x="36.3" y="650.3" width="247.4" height="38.2"/></clipPath>
<g clip-path="url(#c20)"><path d="M115.5 572.4 239.2 528.1 84.6 538.2 208.3 569.9 146.5 572.7 270.2 541.3 46.0 561.7 169.7 549.2 107.8 545.3 231.5 541.8 76.9 523.8 200.6 569.9 138.7 585.2 262.4 528.7 61.4 538.6 185.1 589.5 123.3 553.6 247.0 533.4 92.4 543.0 216.1 532.1 154.2 578.1 277.9 547.0 42.1 530.0 165.8 581.2 103.9 559.6 227.6 521.4 73.0 534.5 196.7 579.9 134.9 566.2 258.6 537.6 57.6 548.6 181.3 570.9 119.4 575.1 243.1 557.2 88.5 513.5 212.2 545.7 150.3 583.5 274.0 524.4 49.8 535.9 173.5 586.9 111.7 549.3 235.4 539.0 80.8 551.4 204.5 546.7 142.6 574.2 266.3 543.4 65.3 526.2 189.0 574.9 127.1 584.4 250.8 530.4 96.2 540.0 219.9 555.5 158.1 563.9 281.8 534.9 37.3 544.6 161.0 569.5 99.1 538.1 222.8 549.3 68.2 531.6 191.9 578.3 130.0 597.1 253.7 516.1 52.7 533.1 176.4 583.1 114.6 550.8 238.3 536.2 83.7 546.5 207.4 551.6 145.5 580.1 269.2 552.2 45.0 520.4 168.7 575.5 106.8 555.0 230.5 526.8 75.9 537.2 199.6 582.8 137.8 570.3 261.5 540.4 60.5 555.6 184.2 562.2 122.3 570.6 246.0 545.1 91.4 528.2 215.1 546.3 153.2 591.4 276.9 532.0 41.1 541.5 164.8 604.9 103.0 515.6 226.7 532.5 72.1 542.0 195.8 560.0 133.9 574.3 257.6 545.7 56.6 528.9 180.3 578.6 118.4 583.7 242.1 518.3 87.5 533.6 211.2 557.8 149.4 567.1 273.1 536.7 48.9 547.2 172.6 571.1 110.7 558.1 234.4 553.5 79.8 521.7 203.5 563.9 141.6 584.5 265.3 527.4 64.3 537.7 188.0 587.1 126.2 568.0 249.9 540.8 95.3 557.8 219.0 516.9 157.1 574.5 280.8 542.3 39.2 524.7 162.9 577.7 101.0 548.5 224.7 529.3 70.1 539.1 193.8 588.3 132.0 557.9 255.7 533.9 54.7 543.5 178.4 566.6 116.5 566.3 240.2 547.7 85.6 530.5 209.3 558.5 147.4 595.7 271.1 522.5 46.9 535.0 170.6 586.0 108.8 542.7 232.5 538.0 77.9 549.5 201.6 564.5 139.7 581.1 263.4 560.4 62.4 516.7 186.1 571.9 124.2 578.8 247.9 525.3 93.3 536.3 217.0 551.6 155.2 571.3 278.9 539.4 43.1 552.6 166.8 562.2 104.9 542.3 228.6 543.9 74.0 526.9 197.7 572.8 135.8 587.4 259.5 530.9 58.5 540.5 182.2 595.6 120.4 558.0 244.1 535.3 89.5 545.2 213.2 539.6 151.3 579.7 275.0 550.2 50.8 532.1 174.5 582.3 112.6 588.0 236.3 505.3 81.7 532.3 205.4 567.4 143.6 564.1 267.3 535.5 66.3 545.4 190.0 566.3 128.1 575.7 251.8 550.5 97.2 517.5 220.9 533.5 159.0 584.6 282.7 525.5 36.8 536.5 160.5 588.6 98.6 529.9 222.3 539.6 67.7 553.0 191.4 558.5 129.6 572.0 253.3 544.1 52.2 527.2 175.9 578.1 114.1 573.3 237.8 531.1 83.2 540.6 206.9 579.7 145.0 553.4 268.7 532.6 44.5 542.1 168.2 565.7 106.4 546.2 230.1 545.9 75.4 529.0 199.1 573.8 137.3 590.6 261.0 518.9 60.0 533.7 183.7 582.5 121.8 561.4 245.5 536.8 90.9 547.4 214.6 539.1 152.8 581.4 276.5 554.0 40.6 522.1 164.3 576.4 102.5 548.8 226.2 527.7 71.6 537.9 195.3 585.3 133.4 570.1 257.1 541.0 56.1 558.8 179.8 555.6 118.0 564.9 241.7 542.5 87.0 524.9 210.7 551.8 148.9 587.5 272.6 529.5 48.4 539.2 172.1 593.1 110.2 537.6 233.9 534.1 79.3 543.7 203.0 556.8 141.2 577.3 264.9 547.9 63.8 530.7 187.5 578.6 125.7 591.8 249.4 522.9 94.8 535.1 218.5 548.0 156.6 569.8 280.3 538.2 38.7 549.8 162.4 573.6 100.6 543.1 224.3 562.2 69.6 509.0 193.3 569.2 131.5 580.0 255.2 523.8 54.2 535.6 177.9 585.9 116.0 557.2 239.7 538.7 85.1 550.7 208.8 537.3 147.0 574.4 270.7 543.0 46.4 525.7 170.1 577.8 108.3 560.9 232.0 530.0 77.4 539.7 201.1 586.9 139.2 561.3 262.9 534.5 61.9 544.3 185.6 566.1 123.8 573.5 247.5 548.7 92.8 531.3 216.5 546.5 154.7 599.0 278.4 513.9 42.6 532.8 166.3 583.8 104.4 531.7 228.1 535.9 73.5 546.0 197.2 564.8 135.4 578.0 259.1 551.5 58.0 519.4 181.7 573.4 119.9 578.0 243.6 526.3 89.0 536.9 212.7 559.7 150.8 571.8 274.5 540.0 50.3 554.4 174.0 563.2 112.2 556.0 235.9 544.7 81.2 527.8 204.9 564.6 143.1 589.8 266.8 531.6 65.8 541.1 189.5 597.6 127.6 553.4 251.3 533.1 96.7 542.6 220.4 525.8 158.6 577.9 282.3 546.5 37.7 529.6 161.4 581.0 99.6 553.0 223.3 520.5 68.7 534.2 192.4 580.9 130.5 564.7 254.2 537.3 53.2 548.1 176.9 571.3 115.1 567.0 238.8 555.7 84.1 523.1 207.8 556.3 146.0 585.9 269.7 528.3 45.5 538.3 169.2 591.3 107.3 544.1 231.0 541.5 76.4 564.1 200.1 545.8 138.3 572.1 262.0 542.0 60.9 524.1 184.6 574.7 122.8 581.3 246.5 528.9 91.9 538.8 215.6 558.2 153.7 560.0 277.4 533.6 41.6 543.2 165.3 567.5 103.5 542.4 227.2 547.2 72.5 530.2 196.2 575.7 134.4 592.5 258.1 521.8 57.1 534.7 180.8 584.2 118.9 561.1 242.6 537.7 88.0 548.9 211.7 545.2 149.9 582.1 273.6 558.1 49.3 514.8 173.0 573.8 111.2 561.6 234.9 524.7 80.3 536.0 204.0 574.6 142.1 569.6 265.8 539.1 64.8 551.8 188.5 557.9 126.7 570.7 250.4 543.6 95.7 526.5 219.4 538.8 157.6 589.4 281.3 530.6 39.7 540.2 163.4 596.5 101.5 525.6 225.2 535.0 70.6 544.8 194.3 564.5 132.5 576.4 256.2 549.6 55.1 531.8 178.8 581.4 117.0 591.0 240.7 516.9 86.1 533.2 209.8 560.2 147.9 566.4 271.6 536.4 47.4 546.7 171.1 570.9 109.3 555.1 233.0 552.7 78.3 520.8 202.0 566.2 140.2 583.9 263.9 527.0 62.9 537.4 186.6 586.9 124.7 567.2 248.4 540.5 93.8 556.2 217.5 527.7 155.7 577.0 279.4 545.3 43.5 528.4 167.2 579.9 105.4 559.0 229.1 532.1 74.5 541.6 198.2 602.8 136.3 545.6 260.0 532.3 59.0 541.8 182.7 563.1 120.9 570.4 244.6 545.5 89.9 528.7 213.6 549.0 151.8 591.9 275.5 517.7 51.3 533.4 175.0 583.6 113.1 548.5 236.8 536.5 82.2 546.9 205.9 554.7 144.1 580.2 267.8 553.1 66.7 521.3 190.4 572.1 128.6 581.5 252.3 527.2 97.7 537.5 221.4 548.6 159.5 572.9 283.2 540.7 36.5 557.0 160.2 554.8 98.4 532.7 222.1 542.2 67.5 524.4 191.2 573.2 129.3 583.5 253.0 529.1 52.0 538.9 175.7 591.9 113.9 543.4 237.6 533.8 82.9 543.3 206.6 549.6 144.8 577.5 268.5 547.5 44.3 530.4 168.0 581.4 106.1 564.2 229.8 522.2 75.2 534.8 198.9 579.6 137.0 567.1 260.7 537.9 59.7 549.2 183.4 570.8 121.6 576.2 245.3 559.1 90.7 515.8 214.4 542.2 152.5 584.0 276.2 525.0 40.4 536.2 164.1 588.0 102.3 533.5 226.0 539.3 71.3 552.2 195.0 556.5 133.2 572.6 256.9 543.7 55.9 526.7 179.6 577.2 117.7 579.5 241.4 530.8 86.8 540.3 210.5 571.5 148.6 564.1 272.3 535.2 48.1 545.0 171.8 569.3 110.0 555.2 233.7 549.8 79.1 531.9 202.8 572.0 140.9 602.8 264.6 509.9 63.6 532.4 187.3 580.3 125.5 560.3 249.2 535.6 94.5 545.6 218.2 532.1 156.4 580.3 280.1 550.8 38.5 518.2 162.2 575.2 100.3 544.5 224.0 525.8 69.4 536.6 193.1 584.0 131.2 568.1 254.9 539.7 53.9 553.4 177.6 561.9 115.8 562.5 239.5 544.3 84.9 527.4 208.6 557.4 146.7 589.7 270.4 531.3 46.2 540.8 169.9 598.9 108.1 527.6 231.8 532.8 77.1 542.3 200.8 558.6 139.0 575.7 262.7 546.1 61.7 529.2 185.4 577.9 123.5 587.4 247.2 519.5 92.6 533.9 216.3 549.5 154.4 567.9 278.1 537.0 42.3 547.6 166.0 572.0 104.2 546.9 227.9 554.6 73.3 522.4 197.0 570.6 135.1 583.7 258.8 527.9 57.8 538.0 181.5 589.1 119.7 566.2 243.4 541.2 88.7 560.1 212.4 529.1 150.6 574.5 274.3 542.7 50.1 525.2 173.8 577.2 111.9 567.2 235.6 529.7 81.0 539.4 204.7 579.5 142.8 561.0 266.5 534.2 65.5 543.9 189.2 564.8 127.4 574.3 251.1 548.2 96.5 530.9 220.2 541.4 158.3 597.6 282.0 523.2 37.5 535.3 161.2 586.9 99.4 528.7 223.1 538.3 68.4 550.1 192.1 569.2 130.3 579.3 254.0 564.9 53.0 511.8 176.7 573.0 114.8 568.2 238.5 524.2 83.9 535.7 207.6 567.3 145.7 569.7 269.4 538.8 45.2 551.1 168.9 560.0 107.1 545.3 230.8 543.2 76.2 526.0 199.9 571.4 138.0 586.8 261.7 530.2 60.7 539.9 184.4 592.8 122.6 557.4 246.3 534.7 91.6 544.4 215.3 535.1 153.5 579.3 277.2 549.0 41.4 531.4 165.1 582.5 103.2 563.7 226.9 515.1 72.3 532.9 196.0 578.4 134.1 563.5 257.8 536.1 56.8 546.3 180.5 569.2 118.7 572.3 242.4 551.9 87.8 519.9 211.5 548.3 149.6 584.8 273.3 526.5 49.1 537.1 172.8 588.8 111.0 549.4 234.7 540.2 80.0 555.0 203.7 551.6 141.9 575.3 265.6 544.9 64.6 528.0 188.3 576.3 126.4 586.3 250.1 531.8 95.5 541.3 219.2 563.3 157.3 558.8 281.0 533.3 39.4 542.8 163.1 567.1 101.3 539.1 225.0 546.8 70.4 529.8 194.1 576.1 132.2 591.0 255.9 520.9 54.9 534.3 178.6 584.2 116.8 556.8 240.5 537.4 85.8 548.4 209.5 548.9 147.7 581.6 271.4 556.4 47.2 523.5 170.9 576.6 109.0 560.5 232.7 528.5 78.1 538.5 201.8 582.7 139.9 572.1 263.6 541.7 62.6 568.6 186.3 543.9 124.5 568.4 248.2 541.7 93.6 523.6 217.3 540.1 155.4 587.0 279.1 528.6 43.3 538.5 167.0 591.9 105.2 525.8 228.9 533.3 74.2 542.9 197.9 560.8 136.1 575.6 259.8 546.8 58.8 529.9 182.5 579.0 120.6 587.7 244.3 521.1 89.7 534.4 213.4 554.9 151.5 568.5 275.2 537.5 51.0 548.5 174.7 571.8 112.9 563.1 236.6 556.7 82.0 512.4 205.7 557.9 143.8 582.6 267.5 524.3 66.5 535.8 190.2 583.5 128.4 566.3 252.1 538.9 97.4 551.2 221.1 518.9 159.3 575.4 283.0 543.3 37.0 526.1 160.7 578.5 98.9 547.4 222.6 530.3 67.9 539.9 191.6 591.2 129.8 559.7 253.5 534.7 52.5 544.5 176.2 568.2 114.3 563.1 238.0 549.1 83.4 531.5 207.1 563.5 145.3 599.4 269.0 515.4 44.8 533.0 168.5 583.9 106.6 535.7 230.3 536.1 75.7 546.3 199.4 564.3 137.5 578.7 261.2 552.0 60.2 520.1 183.9 573.2 122.1 579.0 245.8 526.6 91.1 537.1 214.8 556.3 153.0 572.2 276.7 540.3 40.9 555.2 164.6 564.4 102.7 539.7 226.4 544.9 71.8 528.1 195.5 574.3 133.7 588.4 257.4 531.9 56.4 541.3 180.1 601.7 118.2 540.6 241.9 532.4 87.3 541.8 211.0 539.0 149.1 576.7 272.8 545.5 48.6 528.7 172.3 579.6 110.5 568.5 234.2 517.9 79.5 533.5 203.2 572.7 141.4 565.9 265.1 536.6 64.1 547.0 187.8 568.3 125.9 576.2 249.6 553.2 95.0 521.4 218.7 537.2 156.9 585.9 280.6 527.3 39.0 537.6 162.7 590.3 100.8 533.3 224.5 540.7 69.9 557.3 193.6 550.3 131.7 570.9 255.4 542.2 54.4 524.5 178.1 576.1 116.3 574.9 240.0 529.2 85.3 539.0 209.0 570.2 147.2 560.2 270.9 533.8 46.7 543.4 170.4 567.5 108.5 551.2 232.2 547.5 77.6 530.4 201.3 573.2 139.5 594.2 263.2 522.3 62.2 534.9 185.9 583.4 124.0 563.8 247.7 537.9 93.1 549.3 216.8 537.0 154.9 582.7 278.6 559.5 42.8 516.2 166.5 574.6 104.7 550.2 228.4 525.1 73.7 536.2 197.4 582.0 135.6 568.7 259.3 539.3 58.3 552.3 182.0 560.0 120.1 568.8 243.8 543.8 89.2 526.8 212.9 548.9 151.1 589.4 274.8 530.8 50.6 540.4 174.3 596.4 112.4 544.6 236.1 535.2 81.5 545.1 205.2 554.4 143.3 578.7 267.0 549.9 66.0 532.0 189.7 579.3 127.9 600.7 251.6 510.8 96.9 532.5 220.6 542.4 158.8 565.7 282.5 535.7 38.0 545.7 161.7 570.5 99.8 539.7 223.5 550.9 68.9 518.4 192.6 570.6 130.8 581.0 254.5 525.9 53.5 536.7 177.2 587.6 115.3 557.2 239.0 539.8 84.4 553.6 208.1 542.3 146.2 575.5 269.9 544.4 45.7 527.5 169.4 579.0 107.6 561.4 231.3 531.4 76.6 540.9 200.3 592.4 138.5 554.3 262.2 532.9 61.2 542.3 184.9 563.6 123.0 571.7 246.7 546.2 92.1 529.3 215.8 545.9 154.0 593.2 277.7 519.7 41.9 533.9 165.6 585.1 103.7 532.5 227.4 537.0 72.8 547.7 196.5 566.4 134.6 579.0 258.3 554.7 57.3 522.6 181.0 574.7 119.2 578.8 242.9 527.9 88.2 538.1 211.9 562.9 150.1 573.0 273.8 541.2 49.6 560.6 173.3 557.7 111.4 552.9 235.1 542.7 80.5 525.3 204.2 564.3 142.4 587.0 266.1 529.7 65.1 539.4 188.8 590.6 126.9 557.6 250.6 534.3 96.0 543.9 219.7 528.4 157.8 579.0 281.5 548.3 39.9 531.0 163.6 582.1 101.8 559.4 225.5 523.3 70.8 535.3 194.5 581.7 132.7 566.8 256.4 538.4 55.4 550.2 179.1 572.2 117.2 572.2 240.9 566.5 86.3 505.3 210.0 549.3 148.2 582.8 271.9 523.6 47.7 535.5 171.4 586.6 109.5 544.7 233.2 538.6 78.6 550.5 202.3 549.1 140.4 573.4 264.1 542.9 63.1 525.6 186.8 575.0 125.0 583.2 248.7 529.9 94.0 539.6 217.7 557.0 155.9 562.8 279.6 534.4 43.8 544.1 167.5 568.6" fill="none" stroke="none" marker-start="url(#o)" marker-mid="url(#o)" marker-end="url(#o)"/></g>
<g clip-path="url(#d20)"><path d="M104.9 667.5 228.6 672.4 74.0 663.8 197.7 669.1 135.8 674.6 259.5 665.8 58.5 670.7 182.2 678.6 120.4 661.9 244.1 668.1 89.5 673.1 213.2 664.5 151.3 669.6 275.0 675.6 50.8 666.4 174.5 671.2 112.6 683.7 236.3 652.8 81.7 666.5 205.4 671.3 143.6 662.1 267.3 668.1 66.3 673.2 190.0 664.6 128.1 669.7 251.8 675.8 97.2 659.0 220.9 667.1 159.0 671.9 282.7 663.1 36.8 668.7 160.5 673.9 98.6 665.3 222.3 670.2 67.7 677.1 191.4 660.9 129.6 667.6 253.3 672.5 52.2 663.9 175.9 669.2 114.1 674.8 237.8 665.9 83.2 670.8 206.9 679.0 145.0 656.6 268.7 666.7 44.5 671.5 168.2 662.5 106.4 668.3 230.1 673.4 75.4 664.9 199.1 669.9 137.3 676.2 261.0 659.7 60.0 667.2 183.7 672.1 121.8 663.4 245.5 668.8 90.9 674.2 214.6 665.5 152.8 670.4 276.5 677.6 40.6 661.3 164.3 667.8 102.5 672.8 226.2 664.2 71.6 669.4 195.3 675.1 133.4 666.1 257.1 671.0 56.1 680.0 179.8 658.0 118.0 666.9 241.7 671.7 87.0 662.8 210.7 668.5 148.9 673.7 272.6 665.1 48.4 670.1 172.1 676.6 110.2 660.3 233.9 667.4 79.3 672.3 203.0 663.6 141.2 669.0 264.9 674.5 63.8 665.7 187.5 670.6 125.7 678.2 249.4 661.7 94.8 668.0 218.5 673.0 156.6 664.4 280.3 669.5 38.7 675.4 162.4 666.3 100.6 671.1 224.3 681.7 69.6 654.7 193.3 666.6 131.5 671.4 255.2 662.2 54.2 668.2 177.9 673.3 116.0 664.7 239.7 669.8 85.1 675.9 208.8 659.3 147.0 667.1 270.7 672.0 46.4 663.2 170.1 668.7 108.3 674.0 232.0 665.4 77.4 670.3 201.1 677.2 139.2 661.0 262.9 667.7 61.9 672.6 185.6 664.0 123.8 669.2 247.5 674.9 92.8 666.0 216.5 670.8 154.7 679.3 278.4 657.1 42.6 666.8 166.3 671.6 104.4 662.6 228.1 668.4 73.5 673.5 197.2 664.9 135.4 669.9 259.1 676.3 58.0 659.9 181.7 667.3 119.9 672.2 243.6 663.5 89.0 668.9 212.7 674.3 150.8 665.6 274.5 670.5 50.3 677.8 174.0 661.5 112.2 667.8 235.9 672.8 81.2 664.2 204.9 669.4 143.1 675.2 266.8 666.2 65.8 671.0 189.5 680.5 127.6 658.4 251.3 666.9 96.7 671.8 220.4 662.9 158.6 668.5 282.3 673.8 37.7 665.2 161.4 670.1 99.6 676.7 223.3 660.5 68.7 667.5 192.4 672.4 130.5 663.7 254.2 669.1 53.2 674.6 176.9 665.8 115.1 670.7 238.8 678.5 84.1 661.9 207.8 668.0 146.0 673.1 269.7 664.5 45.5 669.6 169.2 675.5 107.3 666.4 231.0 671.2 76.4 682.7 200.1 655.8 138.3 666.6 262.0 671.5 60.9 662.3 184.6 668.3 122.8 673.4 246.5 664.8 91.9 669.8 215.6 676.0 153.7 659.5 277.4 667.2 41.6 672.1 165.3 663.3 103.5 668.8 227.2 674.1 72.5 665.4 196.2 670.4 134.4 677.4 258.1 661.2 57.1 667.7 180.8 672.7 118.9 664.1 242.6 669.3 88.0 675.0 211.7 666.1 149.9 670.9 273.6 679.7 49.3 657.6 173.0 666.8 111.2 671.7 234.9 662.7 80.3 668.4 204.0 673.6 142.1 665.0 265.8 670.0 64.8 676.4 188.5 660.1 126.7 667.4 250.4 672.3 95.7 663.6 219.4 668.9 157.6 674.4 281.3 665.7 39.7 670.5 163.4 678.0 101.5 661.6 225.2 667.9 70.6 672.9 194.3 664.3 132.5 669.5 256.2 675.3 55.1 666.3 178.8 671.1 117.0 681.0 240.7 658.7 86.1 667.0 209.8 671.9 147.9 663.0 271.6 668.6 47.4 673.9 171.1 665.2 109.3 670.2 233.0 676.9 78.3 660.7 202.0 667.5 140.2 672.5 263.9 663.8 62.9 669.1 186.6 674.7 124.7 665.9 248.4 670.7 93.8 678.7 217.5 662.0 155.7 668.1 279.4 673.1 43.5 664.6 167.2 669.6 105.4 675.7 229.1 666.4 74.5 671.3 198.2 684.5 136.3 653.3 260.0 666.5 59.0 671.4 182.7 662.1 120.9 668.2 244.6 673.2 89.9 664.7 213.6 669.7 151.8 675.8 275.5 659.1 51.3 667.1 175.0 671.9 113.1 663.1 236.8 668.7 82.2 674.0 205.9 665.3 144.1 670.3 267.8 677.1 66.7 660.9 190.4 667.6 128.6 672.6 252.3 663.9 97.7 669.2 221.4 674.8 159.5 665.9 283.2 670.8 36.5 679.1 160.2 656.8 98.4 666.7 222.1 671.5 67.5 662.5 191.2 668.3 129.3 673.5 253.0 664.9 52.0 669.9 175.7 676.2 113.9 659.8 237.6 667.3 82.9 672.1 206.6 663.4 144.8 668.9 268.5 674.2 44.3 665.5 168.0 670.4 106.1 677.7 229.8 661.4 75.2 667.8 198.9 672.8 137.0 664.2 260.7 669.4 59.7 675.1 183.4 666.1 121.6 671.0 245.3 680.2 90.7 658.1 214.4 666.9 152.5 671.7 276.2 662.8 40.4 668.5 164.1 673.7 102.3 665.1 226.0 670.1 71.3 676.6 195.0 660.4 133.2 667.4 256.9 672.4 55.9 663.7 179.6 669.0 117.7 674.5 241.4 665.7 86.8 670.6 210.5 678.3 148.6 661.8 272.3 668.0 48.1 673.0 171.8 664.4 110.0 669.5 233.7 675.5 79.1 666.3 202.8 671.2 140.9 682.0 264.6 655.1 63.6 666.6 187.3 671.4 125.5 662.3 249.2 668.2 94.5 673.3 218.2 664.7 156.4 669.8 280.1 675.9 38.5 659.3 162.2 667.1 100.3 672.0 224.0 663.2 69.4 668.7 193.1 674.1 131.2 665.4 254.9 670.3 53.9 677.3 177.6 661.1 115.8 667.7 239.5 672.6 84.9 664.0 208.6 669.3 146.7 674.9 270.4 666.0 46.2 670.9 169.9 679.4 108.1 657.3 231.8 666.8 77.1 671.6 200.8 662.6 139.0 668.4 262.7 673.6 61.7 665.0 185.4 670.0 123.5 676.3 247.2 660.0 92.6 667.3 216.3 672.2 154.4 663.5 278.1 668.9 42.3 674.3 166.0 665.6 104.2 670.5 227.9 677.9 73.3 661.5 197.0 667.9 135.1 672.9 258.8 664.3 57.8 669.4 181.5 675.2 119.7 666.2 243.4 671.0 88.7 680.7 212.4 658.5 150.6 667.0 274.3 671.8 50.1 662.9 173.8 668.6 111.9 673.8 235.6 665.2 81.0 670.1 204.7 676.8 142.8 660.6 266.5 667.5 65.5 672.4 189.2 663.8 127.4 669.1 251.1 674.6 96.5 665.8 220.2 670.7 158.3 678.5 282.0 661.9 37.5 668.0 161.2 673.1 99.4 664.5 223.1 669.6 68.4 675.6 192.1 666.4 130.3 671.2 254.0 683.1 53.0 656.1 176.7 666.7 114.8 671.5 238.5 662.4 83.9 668.3 207.6 673.4 145.7 664.8 269.4 669.8 45.2 676.1 168.9 659.6 107.1 667.2 230.8 672.1 76.2 663.3 199.9 668.8 138.0 674.2 261.7 665.5 60.7 670.4 184.4 677.5 122.6 661.2 246.3 667.7 91.6 672.7 215.3 664.1 153.5 669.3 277.2 675.0 41.4 666.1 165.1 670.9 103.2 679.8 226.9 657.8 72.3 666.8 196.0 671.7 134.1 662.7 257.8 668.4 56.8 673.6 180.5 665.0 118.7 670.0 242.4 676.5 87.8 660.2 211.5 667.4 149.6 672.3 273.3 663.6 49.1 669.0 172.8 674.4 111.0 665.7 234.7 670.6 80.0 678.1 203.7 661.6 141.9 667.9 265.6 672.9 64.6 664.4 188.3 669.5 126.4 675.3 250.1 666.3 95.5 671.1 219.2 681.2 157.3 658.8 281.0 667.0 39.4 671.9 163.1 663.0 101.3 668.6 225.0 673.9 70.4 665.3 194.1 670.2 132.2 676.9 255.9 660.7 54.9 667.6 178.6 672.5 116.8 663.9 240.5 669.1 85.8 674.7 209.5 665.9 147.7 670.7 271.4 678.8 47.2 662.0 170.9 668.1 109.0 673.2 232.7 664.6 78.1 669.7 201.8 675.7 139.9 666.5 263.6 671.3 62.6 685.0 186.3 652.8 124.5 666.5 248.2 671.3 93.6 662.1 217.3 668.1 155.4 673.2 279.1 664.6 43.3 669.7 167.0 675.7 105.2 658.9 228.9 667.1 74.2 671.9 197.9 663.1 136.1 668.6 259.8 673.9 58.8 665.3 182.5 670.2 120.6 677.0 244.3 660.8 89.7 667.6 213.4 672.5 151.5 663.9 275.2 669.2 51.0 674.8 174.7 665.9 112.9 670.8 236.6 678.9 82.0 656.4 205.7 666.7 143.8 671.5 267.5 662.4 66.5 668.3 190.2 673.4 128.4 664.9 252.1 669.9 97.4 676.1 221.1 659.7 159.3 667.2 283.0 672.1 37.0 663.4 160.7 668.8 98.9 674.2 222.6 665.5 67.9 670.4 191.6 677.5 129.8 661.3 253.5 667.8 52.5 672.7 176.2 664.1 114.3 669.3 238.0 675.1 83.4 666.1 207.1 670.9 145.3 680.0 269.0 657.9 44.8 666.9 168.5 671.7 106.6 662.8 230.3 668.5 75.7 673.7 199.4 665.1 137.5 670.0 261.2 676.5 60.2 660.3 183.9 667.4 122.1 672.3 245.8 663.6 91.1 669.0 214.8 674.5 153.0 665.7 276.7 670.6 40.9 678.2 164.6 661.7 102.7 667.9 226.4 673.0 71.8 664.4 195.5 669.5 133.7 675.4 257.4 666.3 56.4 671.1 180.1 681.6 118.2 654.3 241.9 666.6 87.3 671.4 211.0 662.2 149.1 668.2 272.8 673.3 48.6 664.7 172.3 669.7 110.5 675.9 234.2 659.2 79.5 667.1 203.2 672.0 141.4 663.2 265.1 668.7 64.1 674.0 187.8 665.4 125.9 670.3 249.6 677.2 95.0 661.0 218.7 667.7 156.9 672.6 280.6 664.0 39.0 669.2 162.7 674.9 100.8 666.0 224.5 670.8 69.9 679.2 193.6 657.0 131.7 666.7 255.4 671.6 54.4 662.5 178.1 668.4 116.3 673.5 240.0 664.9 85.3 669.9 209.0 676.3 147.2 659.9 270.9 667.3 46.7 672.2 170.4 663.4 108.5 668.9 232.2 674.3 77.6 665.6 201.3 670.5 139.5 677.7 263.2 661.4 62.2 667.8 185.9 672.8 124.0 664.2 247.7 669.4 93.1 675.2 216.8 666.2 154.9 671.0 278.6 680.4 42.8 658.3 166.5 666.9 104.7 671.8 228.4 662.9 73.7 668.5 197.4 673.8 135.6 665.1 259.3 670.1 58.3 676.7 182.0 660.5 120.1 667.5 243.8 672.4 89.2 663.7 212.9 669.1 151.1 674.6 274.8 665.8 50.6 670.6 174.3 678.4 112.4 661.8 236.1 668.0 81.5 673.0 205.2 664.5 143.3 669.6 267.0 675.5 66.0 666.4 189.7 671.2 127.9 682.4 251.6 655.6 96.9 666.6 220.6 671.4 158.8 662.3 282.5 668.2 38.0 673.3 161.7 664.8 99.8 669.8 223.5 676.0 68.9 659.4 192.6 667.2 130.8 672.0 254.5 663.3 53.5 668.8 177.2 674.1 115.3 665.4 239.0 670.3 84.4 677.4 208.1 661.1 146.2 667.7 269.9 672.7 45.7 664.1 169.4 669.3 107.6 675.0 231.3 666.0 76.6 670.9 200.3 679.6 138.5 657.5 262.2 666.8 61.2 671.6 184.9 662.6 123.0 668.4 246.7 673.6 92.1 665.0 215.8 670.0 154.0 676.4 277.7 660.1 41.9 667.4 165.6 672.2 103.7 663.5 227.4 668.9 72.8 674.4 196.5 665.6 134.6 670.5 258.3 677.9 57.3 661.6 181.0 667.9 119.2 672.9 242.9 664.3 88.2 669.5 211.9 675.3 150.1 666.2 273.8 671.1 49.6 680.9 173.3 658.6" fill="none" stroke="none" marker-start="url(#p)" marker-mid="url(#p)" marker-end="url(#p)"/></g>
<path d="M36.30 538.96 36.71 538.96 37.13 538.96 37.54 538.96 37.95 538.96 38.37 538.96 38.78 538.96 39.19 538.96 39.60 538.96 40.02 538.96 40.43 538.96 40.84 538.96 41.26 538.96 41.67 538.96 42.08 538.96 42.50 538.96 42.91 538.96 43.32 538.96 43.73 538.96 44.15 538.96 44.56 538.96 44.97 538.96 45.39 538.96 45.80 538.96 46.21 538.96 46.63 538.96 47.04 538.96 47.45 538.96 47.86 538.96 48.28 538.96 48.69 538.96 49.10 538.96 49.52 538.96 49.93 538.96 50.34 538.96 50.76 538.96 51.17 538.96 51.58 538.96 51.99 538.96 52.41 538.96 52.82 538.96 53.23 538.96 53.65 538.96 54.06 538.96 54.47 538.96 54.89 538.96 55.30 538.96 55.71 538.96 56.13 538.96 56.54 538.96 56.95 538.96 57.36 538.96 57.78 538.96 58.19 538.96 58.60 538.96 59.02 538.96 59.43 538.96 59.84 538.96 60.26 538.96 60.67 538.96 61.08 538.96 61.49 538.96 61.91 538.96 62.32 538.96 62.73 538.96 63.15 538.96 63.56 538.96 63.97 538.96 64.39 538.96 64.80 538.96 65.21 538.96 65.62 538.96 66.04 538.96 66.45 538.96 66.86 538.96 67.28 538.96 67.69 538.96 68.10 538.96 68.52 538.96 68.93 538.96 69.34 538.96 69.75 538.96 70.17 538.96 70.58 538.96 70.99 538.96 71.41 538.96 71.82 538.96 72.23 538.96 72.65 538.96 73.06 538.96 73.47 538.96 73.88 538.96 74.30 538.96 74.71 538.96 75.12 538.96 75.54 538.96 75.95 538.96 76.36 538.96 76.78 538.96 77.19 538.96 77.60 538.96 78.02 538.96 78.43 538.96 78.84 538.96 79.25 538.96 79.67 538.96 80.08 538.96 80.49 538.96 80.91 538.96 81.32 538.96 81.73 538.96 82.15 538.96 82.56 538.96 82.97 538.96 83.38 538.96 83.80 538.96 84.21 538.96 84.62 538.96 85.04 538.96 85.45 538.96 85.86 538.96 86.28 538.96 86.69 538.96 87.10 538.96 87.51 538.96 87.93 538.96 88.34 538.96 88.75 538.96 89.17 538.96 89.58 538.96 89.99 538.96 90.41 538.96 90.82 538.96 91.23 538.96 91.64 538.96 92.06 538.96 92.47 538.96 92.88 538.96 93.30 538.96 93.71 538.96 94.12 538.96 94.54 538.96 94.95 538.96 95.36 538.97 95.78 538.97 96.19 538.98 96.60 539.00 97.01 539.03 97.43 539.09 97.84 539.17 98.25 539.30 98.67 539.47 99.08 539.69 99.49 539.97 99.91 540.31 100.32 540.70 100.73 541.13 101.14 541.61 101.56 542.12 101.97 542.66 102.38 543.22 102.80 543.80 103.21 544.40 103.62 545.01 104.04 545.64 104.45 546.29 104.86 546.94 105.27 547.61 105.69 548.30 106.10 548.99 106.51 549.70 106.93 550.41 107.34 551.14 107.75 551.87 108.17 552.61 108.58 553.36 108.99 554.12 109.40 554.88 109.82 555.64 110.23 556.42 110.64 557.19 111.06 557.97 111.47 558.75 111.88 559.53 112.30 560.32 112.71 561.10 113.12 561.89 113.54 562.67 113.95 563.45 114.36 564.23 114.77 565.01 115.19 565.78 115.60 566.54 116.01 567.30 116.43 568.05 116.84 568.79 117.25 569.50 117.67 570.18 118.08 570.83 118.49 571.43 118.90 571.97 119.32 572.45 119.73 572.87 120.14 573.22 120.56 573.51 120.97 573.76 121.38 573.96 121.80 574.14 122.21 574.31 122.62 574.46 123.03 574.60 123.45 574.74 123.86 574.87 124.27 575.00 124.69 575.13 125.10 575.26 125.51 575.39 125.93 575.51 126.34 575.64 126.75 575.76 127.16 575.88 127.58 576.00 127.99 576.12 128.40 576.23 128.82 576.35 129.23 576.46 129.64 576.57 130.06 576.68 130.47 576.79 130.88 576.90 131.29 577.00 131.71 577.11 132.12 577.21 132.53 577.31 132.95 577.41 133.36 577.51 133.77 577.61 134.19 577.70 134.60 577.79 135.01 577.89 135.43 577.98 135.84 578.07 136.25 578.15 136.66 578.24 137.08 578.32 137.49 578.41 137.90 578.49 138.32 578.57 138.73 578.65 139.14 578.72 139.56 578.80 139.97 578.87 140.38 578.94 140.79 579.02 141.21 579.09 141.62 579.15 142.03 579.22 142.45 579.28 142.86 579.35 143.27 579.41 143.69 579.47 144.10 579.53 144.51 579.59 144.92 579.64 145.34 579.70 145.75 579.75 146.16 579.80 146.58 579.85 146.99 579.90 147.40 579.95 147.82 579.99 148.23 580.03 148.64 580.08 149.05 580.12 149.47 580.16 149.88 580.19 150.29 580.23 150.71 580.27 151.12 580.30 151.53 580.33 151.95 580.36 152.36 580.39 152.77 580.42 153.19 580.44 153.60 580.47 154.01 580.49 154.42 580.51 154.84 580.53 155.25 580.55 155.66 580.56 156.08 580.58 156.49 580.59 156.90 580.60 157.32 580.62 157.73 580.62 158.14 580.63 158.55 580.64 158.97 580.64 159.38 580.65 159.79 580.65 160.21 580.65 160.62 580.65 161.03 580.64 161.45 580.64 161.86 580.63 162.27 580.62 162.68 580.62 163.10 580.60 163.51 580.59 163.92 580.58 164.34 580.56 164.75 580.55 165.16 580.53 165.58 580.51 165.99 580.49 166.40 580.47 166.81 580.44 167.23 580.42 167.64 580.39 168.05 580.36 168.47 580.33 168.88 580.30 169.29 580.27 169.71 580.23 170.12 580.19 170.53 580.16 170.95 580.12 171.36 580.08 171.77 580.03 172.18 579.99 172.60 579.95 173.01 579.90 173.42 579.85 173.84 579.80 174.25 579.75 174.66 579.70 175.08 579.64 175.49 579.59 175.90 579.53 176.31 579.47 176.73 579.41 177.14 579.35 177.55 579.28 177.97 579.22 178.38 579.15 178.79 579.09 179.21 579.02 179.62 578.94 180.03 578.87 180.44 578.80 180.86 578.72 181.27 578.65 181.68 578.57 182.10 578.49 182.51 578.41 182.92 578.32 183.34 578.24 183.75 578.15 184.16 578.07 184.57 577.98 184.99 577.89 185.40 577.79 185.81 577.70 186.23 577.61 186.64 577.51 187.05 577.41 187.47 577.31 187.88 577.21 188.29 577.11 188.71 577.00 189.12 576.90 189.53 576.79 189.94 576.68 190.36 576.57 190.77 576.46 191.18 576.35 191.60 576.23 192.01 576.12 192.42 576.00 192.84 575.88 193.25 575.76 193.66 575.64 194.07 575.51 194.49 575.39 194.90 575.26 195.31 575.13 195.73 575.00 196.14 574.87 196.55 574.74 196.97 574.60 197.38 574.46 197.79 574.31 198.20 574.14 198.62 573.96 199.03 573.76 199.44 573.51 199.86 573.22 200.27 572.87 200.68 572.45 201.10 571.97 201.51 571.43 201.92 570.83 202.33 570.18 202.75 569.50 203.16 568.79 203.57 568.05 203.99 567.30 204.40 566.54 204.81 565.78 205.23 565.01 205.64 564.23 206.05 563.45 206.46 562.67 206.88 561.89 207.29 561.10 207.70 560.32 208.12 559.53 208.53 558.75 208.94 557.97 209.36 557.19 209.77 556.42 210.18 555.64 210.60 554.88 211.01 554.12 211.42 553.36 211.83 552.61 212.25 551.87 212.66 551.14 213.07 550.41 213.49 549.70 213.90 548.99 214.31 548.30 214.73 547.61 215.14 546.94 215.55 546.29 215.96 545.64 216.38 545.01 216.79 544.40 217.20 543.80 217.62 543.22 218.03 542.66 218.44 542.12 218.86 541.61 219.27 541.13 219.68 540.70 220.09 540.31 220.51 539.97 220.92 539.69 221.33 539.47 221.75 539.30 222.16 539.17 222.57 539.09 222.99 539.03 223.40 539.00 223.81 538.98 224.22 538.97 224.64 538.97 225.05 538.96 225.46 538.96 225.88 538.96 226.29 538.96 226.70 538.96 227.12 538.96 227.53 538.96 227.94 538.96 228.36 538.96 228.77 538.96 229.18 538.96 229.59 538.96 230.01 538.96 230.42 538.96 230.83 538.96 231.25 538.96 231.66 538.96 232.07 538.96 232.49 538.96 232.90 538.96 233.31 538.96 233.72 538.96 234.14 538.96 234.55 538.96 234.96 538.96 235.38 538.96 235.79 538.96 236.20 538.96 236.62 538.96 237.03 538.96 237.44 538.96 237.85 538.96 238.27 538.96 238.68 538.96 239.09 538.96 239.51 538.96 239.92 538.96 240.33 538.96 240.75 538.96 241.16 538.96 241.57 538.96 241.98 538.96 242.40 538.96 242.81 538.96 243.22 538.96 243.64 538.96 244.05 538.96 244.46 538.96 244.88 538.96 245.29 538.96 245.70 538.96 246.12 538.96 246.53 538.96 246.94 538.96 247.35 538.96 247.77 538.96 248.18 538.96 248.59 538.96 249.01 538.96 249.42 538.96 249.83 538.96 250.25 538.96 250.66 538.96 251.07 538.96 251.48 538.96 251.90 538.96 252.31 538.96 252.72 538.96 253.14 538.96 253.55 538.96 253.96 538.96 254.38 538.96 254.79 538.96 255.20 538.96 255.61 538.96 256.03 538.96 256.44 538.96 256.85 538.96 257.27 538.96 257.68 538.96 258.09 538.96 258.51 538.96 258.92 538.96 259.33 538.96 259.74 538.96 260.16 538.96 260.57 538.96 260.98 538.96 261.40 538.96 261.81 538.96 262.22 538.96 262.64 538.96 263.05 538.96 263.46 538.96 263.87 538.96 264.29 538.96 264.70 538.96 265.11 538.96 265.53 538.96 265.94 538.96 266.35 538.96 266.77 538.96 267.18 538.96 267.59 538.96 268.01 538.96 268.42 538.96 268.83 538.96 269.24 538.96 269.66 538.96 270.07 538.96 270.48 538.96 270.90 538.96 271.31 538.96 271.72 538.96 272.14 538.96 272.55 538.96 272.96 538.96 273.37 538.96 273.79 538.96 274.20 538.96 274.61 538.96 275.03 538.96 275.44 538.96 275.85 538.96 276.27 538.96 276.68 538.96 277.09 538.96 277.50 538.96 277.92 538.96 278.33 538.96 278.74 538.96 279.16 538.96 279.57 538.96 279.98 538.96 280.40 538.96 280.81 538.96 281.22 538.96 281.63 538.96 282.05 538.96 282.46 538.96 282.87 538.96 283.29 538.96 283.70 538.96" fill="none" stroke="#f00" stroke-width="1.7" clip-path="url(#c20)"/>
<rect x="36.3" y="481.4" width="247.4" height="153.5" fill="none" stroke="#4a4a4a" stroke-width="1.2"/>
<rect x="36.3" y="650.3" width="247.4" height="38.2" fill="none" stroke="#a8a8a8" stroke-width="1.1"/>
<path d="M51.8 634.9v-1.3M51.8 481.4v1.3M67.2 634.9v-2.5M67.2 481.4v2.5M82.7 634.9v-1.3M82.7 481.4v1.3M98.1 634.9v-2.5M98.1 481.4v2.5M113.6 634.9v-1.3M113.6 481.4v1.3M129.1 634.9v-2.5M129.1 481.4v2.5M144.5 634.9v-1.3M144.5 481.4v1.3M160.0 634.9v-2.5M160.0 481.4v2.5M175.5 634.9v-1.3M175.5 481.4v1.3M190.9 634.9v-2.5M190.9 481.4v2.5M206.4 634.9v-1.3M206.4 481.4v1.3M221.8 634.9v-2.5M221.8 481.4v2.5M237.3 634.9v-1.3M237.3 481.4v1.3M252.8 634.9v-2.5M252.8 481.4v2.5M268.2 634.9v-1.3M268.2 481.4v1.3M51.8 688.5v-1.3M51.8 650.3v1.3M67.2 688.5v-2.5M67.2 650.3v2.5M82.7 688.5v-1.3M82.7 650.3v1.3M98.1 688.5v-2.5M98.1 650.3v2.5M113.6 688.5v-1.3M113.6 650.3v1.3M129.1 688.5v-2.5M129.1 650.3v2.5M144.5 688.5v-1.3M144.5 650.3v1.3M160.0 688.5v-2.5M160.0 650.3v2.5M175.5 688.5v-1.3M175.5 650.3v1.3M190.9 688.5v-2.5M190.9 650.3v2.5M206.4 688.5v-1.3M206.4 650.3v1.3M221.8 688.5v-2.5M221.8 650.3v2.5M237.3 688.5v-1.3M237.3 650.3v1.3M252.8 688.5v-2.5M252.8 650.3v2.5M268.2 688.5v-1.3M268.2 650.3v1.3M36.3 625.3h1.3M283.7 625.3h-1.3M36.3 615.7h2.5M283.7 615.7h-2.5M36.3 606.1h1.3M283.7 606.1h-1.3M36.3 596.5h2.5M283.7 596.5h-2.5M36.3 586.9h1.3M283.7 586.9h-1.3M36.3 577.3h2.5M283.7 577.3h-2.5M36.3 567.7h1.3M283.7 567.7h-1.3M36.3 558.1h2.5M283.7 558.1h-2.5M36.3 548.6h1.3M283.7 548.6h-1.3M36.3 539.0h2.5M283.7 539.0h-2.5M36.3 529.4h1.3M283.7 529.4h-1.3M36.3 519.8h2.5M283.7 519.8h-2.5M36.3 510.2h1.3M283.7 510.2h-1.3M36.3 500.6h2.5M283.7 500.6h-2.5M36.3 491.0h1.3M283.7 491.0h-1.3M36.3 683.7h1.3M283.7 683.7h-1.3M36.3 679.0h2.5M283.7 679.0h-2.5M36.3 674.2h1.3M283.7 674.2h-1.3M36.3 669.4h2.5M283.7 669.4h-2.5M36.3 664.6h1.3M283.7 664.6h-1.3M36.3 659.8h2.5M283.7 659.8h-2.5M36.3 655.1h1.3M283.7 655.1h-1.3" stroke="#333" stroke-width="0.8" fill="none"/>
<g font-family="Liberation Serif" font-size="7.2" fill="#222" stroke="#222" stroke-width="0.12"><text transform="translate(36.0 644.8) scale(0.9 1)" text-anchor="middle">−0. 04</text><text transform="translate(36.0 696.2) scale(0.9 1)" text-anchor="middle">−0. 04</text><text transform="translate(66.9 644.8) scale(0.9 1)" text-anchor="middle">−0. 03</text><text transform="translate(66.9 696.2) scale(0.9 1)" text-anchor="middle">−0. 03</text><text transform="translate(97.8 644.8) scale(0.9 1)" text-anchor="middle">−0. 02</text><text transform="translate(97.8 696.2) scale(0.9 1)" text-anchor="middle">−0. 02</text><text transform="translate(128.8 644.8) scale(0.9 1)" text-anchor="middle">−0. 01</text><text transform="translate(128.8 696.2) scale(0.9 1)" text-anchor="middle">−0. 01</text><text transform="translate(159.7 644.8) scale(0.9 1)" text-anchor="middle">0. 00</text><text transform="translate(159.7 696.2) scale(0.9 1)" text-anchor="middle">0. 00</text><text transform="translate(190.6 644.8) scale(0.9 1)" text-anchor="middle">0. 01</text><text transform="translate(190.6 696.2) scale(0.9 1)" text-anchor="middle">0. 01</text><text transform="translate(221.5 644.8) scale(0.9 1)" text-anchor="middle">0. 02</text><text transform="translate(221.5 696.2) scale(0.9 1)" text-anchor="middle">0. 02</text><text transform="translate(252.5 644.8) scale(0.9 1)" text-anchor="middle">0. 03</text><text transform="translate(252.5 696.2) scale(0.9 1)" text-anchor="middle">0. 03</text><text transform="translate(283.4 644.8) scale(0.9 1)" text-anchor="middle">0. 04</text><text transform="translate(283.4 696.2) scale(0.9 1)" text-anchor="middle">0. 04</text><text transform="translate(31.1 637.9) scale(0.9 1)" text-anchor="end">0. 995</text><text transform="translate(31.1 618.7) scale(0.9 1)" text-anchor="end">0. 996</text><text transform="translate(31.1 599.5) scale(0.9 1)" text-anchor="end">0. 997</text><text transform="translate(31.1 580.3) scale(0.9 1)" text-anchor="end">0. 998</text><text transform="translate(31.1 561.1) scale(0.9 1)" text-anchor="end">0. 999</text><text transform="translate(31.1 542.0) scale(0.9 1)" text-anchor="end">1. 000</text><text transform="translate(31.1 522.8) scale(0.9 1)" text-anchor="end">1. 001</text><text transform="translate(31.1 503.6) scale(0.9 1)" text-anchor="end">1. 002</text><text transform="translate(31.1 484.4) scale(0.9 1)" text-anchor="end">1. 003</text><text transform="translate(32.8 691.5) scale(0.9 1)" text-anchor="end">−0. 002</text><text transform="translate(32.8 682.0) scale(0.9 1)" text-anchor="end">−0. 001</text><text transform="translate(32.8 672.4) scale(0.9 1)" text-anchor="end">0. 000</text><text transform="translate(32.8 662.8) scale(0.9 1)" text-anchor="end">0. 001</text><text transform="translate(32.8 653.3) scale(0.9 1)" text-anchor="end">0. 002</text></g>
<text transform="translate(160.0 706.5) scale(0.74 1)" font-family="Liberation Serif" font-size="9.8" fill="#222" stroke="#222" stroke-width="0.12" text-anchor="middle">PHASE</text>
<text font-family="Liberation Serif" font-size="10" fill="#222" stroke="#222" stroke-width="0.2" text-anchor="middle" transform="translate(8.5 558.5) rotate(-90) scale(0.5 1)" y="3.5">MAG</text>
<text font-family="Liberation Serif" font-size="10" fill="#222" stroke="#222" stroke-width="0.2" text-anchor="middle" transform="translate(7.0 669.4) rotate(-90) scale(0.62 1)" y="3.5">O−C</text>
<g font-family="Liberation Serif" font-size="8.2" fill="#f22" stroke="#f22" stroke-width="0.25" font-weight="normal"><text x="226.7" y="491.0" textLength="12.8" lengthAdjust="spacingAndGlyphs">TIC</text><text x="243.2" y="491.0" textLength="32.8" lengthAdjust="spacingAndGlyphs">12862099</text></g>
<clipPath id="c21"><rect x="349.4" y="481.4" width="247.8" height="153.5"/></clipPath>
<clipPath id="d21"><rect x="349.4" y="650.3" width="247.8" height="38.2"/></clipPath>
<g clip-path="url(#c21)"><path d="M560.4 535.8 405.5 544.4 529.4 535.1 467.5 580.1 591.4 548.1 355.2 532.6 479.1 583.0 417.2 560.2 541.1 524.8 386.2 536.7 510.1 581.3 448.1 569.1 572.0 539.5 370.7 549.6 494.6 573.4 432.6 576.8 556.5 557.4 401.7 517.6 525.6 548.1 463.6 585.0 587.5 527.6 363.0 538.0 486.9 588.1 424.9 552.0 548.8 540.8 393.9 552.1 517.8 550.4 455.9 576.4 579.8 544.8 378.4 529.2 502.3 576.9 440.4 585.5 564.3 533.0 409.4 541.7 533.3 555.9 471.4 567.3 595.3 537.0 350.4 545.9 474.3 572.3 412.3 540.0 536.2 550.1 381.3 534.1 505.2 579.9 443.3 597.1 567.2 520.0 365.9 535.4 489.8 584.6 427.8 553.9 551.7 538.3 396.8 547.6 520.7 554.3 458.8 581.9 582.7 552.9 358.1 523.9 482.0 577.8 420.1 556.4 544.0 529.7 389.1 539.2 513.0 583.8 451.0 572.9 574.9 542.1 373.6 555.9 497.5 565.4 435.5 572.8 559.4 546.3 404.6 531.0 528.5 548.1 466.5 592.2 590.4 534.4 354.2 543.0 478.1 604.5 416.2 520.0 540.1 534.9 385.2 543.5 509.1 563.2 447.2 576.5 571.1 546.9 369.7 531.6 493.6 580.4 431.7 584.4 555.6 522.0 400.7 535.9 524.6 559.3 462.7 570.1 586.6 538.7 362.0 548.2 485.9 573.8 423.9 559.9 547.8 554.0 393.0 525.1 516.9 566.1 454.9 585.9 578.8 530.3 377.5 539.6 501.4 588.0 439.4 570.5 563.3 542.5 408.4 557.9 532.3 520.9 470.4 576.9 594.3 543.8 352.3 527.8 476.2 579.7 414.3 549.7 538.2 532.0 383.3 540.9 507.2 589.0 445.2 561.4 569.1 536.2 367.8 544.9 491.7 569.6 429.7 568.3 553.6 548.7 398.8 533.1 522.7 560.2 460.7 596.1 584.6 525.8 360.0 537.1 483.9 587.3 422.0 545.5 545.9 539.9 391.0 550.3 514.9 567.0 453.0 582.7 576.9 560.3 375.5 520.6 499.4 574.2 437.5 580.2 561.4 528.3 406.5 538.4" fill="none" stroke="none" marker-start="url(#q)" marker-mid="url(#q)" marker-end="url(#q)"/></g>
<g clip-path="url(#d21)"><path d="M473.8 673.9 411.8 666.2 535.7 670.6 380.9 676.7 504.8 662.2 442.8 668.2 566.7 672.6 365.4 664.9 489.3 669.6 427.3 674.7 551.2 666.7 396.3 671.1 520.2 678.4 458.3 658.4 582.2 667.4 357.6 671.7 481.5 663.6 419.6 668.9 543.5 673.5 388.6 665.8 512.5 670.3 450.6 675.9 574.5 661.2 373.1 667.9 497.0 672.3 435.1 664.5 559.0 669.3 404.1 674.1 528.0 666.4 466.0 670.7 589.9 677.2 353.8 662.6 477.7 668.4 415.7 672.8 539.6 665.2 384.7 669.8 508.6 674.9 446.7 666.9 570.6 671.2 369.2 679.3 493.1 659.7 431.2 667.6 555.1 671.9 400.2 663.9 524.1 669.0 462.2 673.7 586.1 666.0 361.5 670.4 485.4 676.3 423.4 661.8 547.3 668.1 392.5 672.5 516.4 664.7 454.4 669.5 578.3 674.4 377.0 666.6 500.9 670.9 438.9 677.7 562.8 663.0 408.0 668.6 531.9 673.0 469.9 665.4 593.8 670.0 351.8 675.2 475.7 667.1 413.8 671.4 537.7 680.9 382.8 656.7 506.7 667.3 444.7 671.6 568.6 663.4 367.3 668.8 491.2 673.3 429.3 665.7 553.2 670.2 398.3 675.7 522.2 660.8 460.2 667.8 584.1 672.2 359.6 664.3 483.5 669.2 421.5 674.0 545.4 666.3 390.5 670.6 514.4 676.8 452.5 662.4 576.4 668.3 375.1 672.7 499.0 665.0 437.0 669.7 560.9 674.7 406.0 666.8 529.9 671.1 468.0 678.7 591.9 658.9 355.7 667.5 479.6 671.8 417.6 663.7 541.5 668.9 386.7 673.5 510.6 665.9 448.6 670.3 572.5 676.0 371.2 661.4 495.1 668.0 433.1 672.3 557.0 664.5 402.2 669.4 526.1 674.2 464.1 666.4 588.0 670.8 363.4 677.3 487.3 662.8 425.4 668.5 549.3 672.9 394.4 665.2 518.3 669.9 456.4 675.0 580.3 667.0 378.9 671.3 502.8 679.8 440.9 660.0 564.8 667.7 409.9 672.0 533.8 664.0 471.8 669.1 595.7 673.8 350.9 666.1 474.8 670.5 412.8 676.4" fill="none" stroke="none" marker-start="url(#p)" marker-mid="url(#p)" marker-end="url(#p)"/></g>
<path d="M349.40 538.96 349.81 538.96 350.23 538.96 350.64 538.96 351.05 538.96 351.47 538.96 351.88 538.96 352.30 538.96 352.71 538.96 353.12 538.96 353.54 538.96 353.95 538.96 354.36 538.96 354.78 538.96 355.19 538.96 355.61 538.96 356.02 538.96 356.43 538.96 356.85 538.96 357.26 538.96 357.67 538.96 358.09 538.96 358.50 538.96 358.91 538.96 359.33 538.96 359.74 538.96 360.16 538.96 360.57 538.96 360.98 538.96 361.40 538.96 361.81 538.96 362.22 538.96 362.64 538.96 363.05 538.96 363.47 538.96 363.88 538.96 364.29 538.96 364.71 538.96 365.12 538.96 365.53 538.96 365.95 538.96 366.36 538.96 366.77 538.96 367.19 538.96 367.60 538.96 368.02 538.96 368.43 538.96 368.84 538.96 369.26 538.96 369.67 538.96 370.08 538.96 370.50 538.96 370.91 538.96 371.33 538.96 371.74 538.96 372.15 538.96 372.57 538.96 372.98 538.96 373.39 538.96 373.81 538.96 374.22 538.96 374.64 538.96 375.05 538.96 375.46 538.96 375.88 538.96 376.29 538.96 376.70 538.96 377.12 538.96 377.53 538.96 377.94 538.96 378.36 538.96 378.77 538.96 379.19 538.96 379.60 538.96 380.01 538.96 380.43 538.96 380.84 538.96 381.25 538.96 381.67 538.96 382.08 538.96 382.50 538.96 382.91 538.96 383.32 538.96 383.74 538.96 384.15 538.96 384.56 538.96 384.98 538.96 385.39 538.96 385.80 538.96 386.22 538.96 386.63 538.96 387.05 538.96 387.46 538.96 387.87 538.96 388.29 538.96 388.70 538.96 389.11 538.96 389.53 538.96 389.94 538.96 390.36 538.96 390.77 538.96 391.18 538.96 391.60 538.96 392.01 538.96 392.42 538.96 392.84 538.96 393.25 538.96 393.66 538.96 394.08 538.96 394.49 538.96 394.91 538.96 395.32 538.96 395.73 538.96 396.15 538.96 396.56 538.96 396.97 538.96 397.39 538.96 397.80 538.96 398.22 538.96 398.63 538.96 399.04 538.96 399.46 538.96 399.87 538.96 400.28 538.96 400.70 538.96 401.11 538.96 401.52 538.96 401.94 538.96 402.35 538.96 402.77 538.96 403.18 538.96 403.59 538.96 404.01 538.96 404.42 538.96 404.83 538.96 405.25 538.96 405.66 538.96 406.08 538.96 406.49 538.96 406.90 538.96 407.32 538.96 407.73 538.96 408.14 538.96 408.56 538.97 408.97 538.97 409.38 538.98 409.80 539.00 410.21 539.03 410.63 539.09 411.04 539.17 411.45 539.30 411.87 539.47 412.28 539.69 412.69 539.97 413.11 540.31 413.52 540.70 413.94 541.13 414.35 541.61 414.76 542.12 415.18 542.66 415.59 543.22 416.00 543.80 416.42 544.40 416.83 545.01 417.25 545.64 417.66 546.28 418.07 546.94 418.49 547.61 418.90 548.30 419.31 548.99 419.73 549.70 420.14 550.41 420.55 551.14 420.97 551.87 421.38 552.61 421.80 553.36 422.21 554.12 422.62 554.88 423.04 555.64 423.45 556.42 423.86 557.19 424.28 557.97 424.69 558.75 425.11 559.53 425.52 560.32 425.93 561.10 426.35 561.89 426.76 562.67 427.17 563.45 427.59 564.23 428.00 565.01 428.41 565.78 428.83 566.54 429.24 567.30 429.66 568.05 430.07 568.79 430.48 569.50 430.90 570.19 431.31 570.83 431.72 571.43 432.14 571.97 432.55 572.45 432.97 572.87 433.38 573.22 433.79 573.51 434.21 573.76 434.62 573.96 435.03 574.15 435.45 574.31 435.86 574.46 436.27 574.60 436.69 574.74 437.10 574.87 437.52 575.00 437.93 575.13 438.34 575.26 438.76 575.39 439.17 575.51 439.58 575.64 440.00 575.76 440.41 575.88 440.83 576.00 441.24 576.12 441.65 576.23 442.07 576.35 442.48 576.46 442.89 576.57 443.31 576.68 443.72 576.79 444.13 576.90 444.55 577.00 444.96 577.11 445.38 577.21 445.79 577.31 446.20 577.41 446.62 577.51 447.03 577.61 447.44 577.70 447.86 577.79 448.27 577.89 448.69 577.98 449.10 578.07 449.51 578.15 449.93 578.24 450.34 578.32 450.75 578.41 451.17 578.49 451.58 578.57 451.99 578.65 452.41 578.72 452.82 578.80 453.24 578.87 453.65 578.94 454.06 579.02 454.48 579.09 454.89 579.15 455.30 579.22 455.72 579.28 456.13 579.35 456.55 579.41 456.96 579.47 457.37 579.53 457.79 579.59 458.20 579.64 458.61 579.70 459.03 579.75 459.44 579.80 459.86 579.85 460.27 579.90 460.68 579.95 461.10 579.99 461.51 580.03 461.92 580.08 462.34 580.12 462.75 580.16 463.16 580.19 463.58 580.23 463.99 580.27 464.41 580.30 464.82 580.33 465.23 580.36 465.65 580.39 466.06 580.42 466.47 580.44 466.89 580.47 467.30 580.49 467.72 580.51 468.13 580.53 468.54 580.55 468.96 580.56 469.37 580.58 469.78 580.59 470.20 580.60 470.61 580.62 471.02 580.62 471.44 580.63 471.85 580.64 472.27 580.64 472.68 580.65 473.09 580.65 473.51 580.65 473.92 580.65 474.33 580.64 474.75 580.64 475.16 580.63 475.58 580.62 475.99 580.62 476.40 580.60 476.82 580.59 477.23 580.58 477.64 580.56 478.06 580.55 478.47 580.53 478.88 580.51 479.30 580.49 479.71 580.47 480.13 580.44 480.54 580.42 480.95 580.39 481.37 580.36 481.78 580.33 482.19 580.30 482.61 580.27 483.02 580.23 483.44 580.19 483.85 580.16 484.26 580.12 484.68 580.08 485.09 580.03 485.50 579.99 485.92 579.95 486.33 579.90 486.74 579.85 487.16 579.80 487.57 579.75 487.99 579.70 488.40 579.64 488.81 579.59 489.23 579.53 489.64 579.47 490.05 579.41 490.47 579.35 490.88 579.28 491.30 579.22 491.71 579.15 492.12 579.09 492.54 579.02 492.95 578.94 493.36 578.87 493.78 578.80 494.19 578.72 494.61 578.65 495.02 578.57 495.43 578.49 495.85 578.41 496.26 578.32 496.67 578.24 497.09 578.15 497.50 578.07 497.91 577.98 498.33 577.89 498.74 577.79 499.16 577.70 499.57 577.61 499.98 577.51 500.40 577.41 500.81 577.31 501.22 577.21 501.64 577.11 502.05 577.00 502.47 576.90 502.88 576.79 503.29 576.68 503.71 576.57 504.12 576.46 504.53 576.35 504.95 576.23 505.36 576.12 505.77 576.00 506.19 575.88 506.60 575.76 507.02 575.64 507.43 575.51 507.84 575.39 508.26 575.26 508.67 575.13 509.08 575.00 509.50 574.87 509.91 574.74 510.33 574.60 510.74 574.46 511.15 574.31 511.57 574.15 511.98 573.96 512.39 573.76 512.81 573.51 513.22 573.22 513.63 572.87 514.05 572.45 514.46 571.97 514.88 571.43 515.29 570.83 515.70 570.19 516.12 569.50 516.53 568.79 516.94 568.05 517.36 567.30 517.77 566.54 518.19 565.78 518.60 565.01 519.01 564.23 519.43 563.45 519.84 562.67 520.25 561.89 520.67 561.10 521.08 560.32 521.49 559.53 521.91 558.75 522.32 557.97 522.74 557.19 523.15 556.42 523.56 555.64 523.98 554.88 524.39 554.12 524.80 553.36 525.22 552.61 525.63 551.87 526.05 551.14 526.46 550.41 526.87 549.70 527.29 548.99 527.70 548.30 528.11 547.61 528.53 546.94 528.94 546.28 529.35 545.64 529.77 545.01 530.18 544.40 530.60 543.80 531.01 543.22 531.42 542.66 531.84 542.12 532.25 541.61 532.66 541.13 533.08 540.70 533.49 540.31 533.91 539.97 534.32 539.69 534.73 539.47 535.15 539.30 535.56 539.17 535.97 539.09 536.39 539.03 536.80 539.00 537.22 538.98 537.63 538.97 538.04 538.97 538.46 538.96 538.87 538.96 539.28 538.96 539.70 538.96 540.11 538.96 540.52 538.96 540.94 538.96 541.35 538.96 541.77 538.96 542.18 538.96 542.59 538.96 543.01 538.96 543.42 538.96 543.83 538.96 544.25 538.96 544.66 538.96 545.08 538.96 545.49 538.96 545.90 538.96 546.32 538.96 546.73 538.96 547.14 538.96 547.56 538.96 547.97 538.96 548.38 538.96 548.80 538.96 549.21 538.96 549.63 538.96 550.04 538.96 550.45 538.96 550.87 538.96 551.28 538.96 551.69 538.96 552.11 538.96 552.52 538.96 552.94 538.96 553.35 538.96 553.76 538.96 554.18 538.96 554.59 538.96 555.00 538.96 555.42 538.96 555.83 538.96 556.24 538.96 556.66 538.96 557.07 538.96 557.49 538.96 557.90 538.96 558.31 538.96 558.73 538.96 559.14 538.96 559.55 538.96 559.97 538.96 560.38 538.96 560.80 538.96 561.21 538.96 561.62 538.96 562.04 538.96 562.45 538.96 562.86 538.96 563.28 538.96 563.69 538.96 564.10 538.96 564.52 538.96 564.93 538.96 565.35 538.96 565.76 538.96 566.17 538.96 566.59 538.96 567.00 538.96 567.41 538.96 567.83 538.96 568.24 538.96 568.66 538.96 569.07 538.96 569.48 538.96 569.90 538.96 570.31 538.96 570.72 538.96 571.14 538.96 571.55 538.96 571.96 538.96 572.38 538.96 572.79 538.96 573.21 538.96 573.62 538.96 574.03 538.96 574.45 538.96 574.86 538.96 575.27 538.96 575.69 538.96 576.10 538.96 576.52 538.96 576.93 538.96 577.34 538.96 577.76 538.96 578.17 538.96 578.58 538.96 579.00 538.96 579.41 538.96 579.83 538.96 580.24 538.96 580.65 538.96 581.07 538.96 581.48 538.96 581.89 538.96 582.31 538.96 582.72 538.96 583.13 538.96 583.55 538.96 583.96 538.96 584.38 538.96 584.79 538.96 585.20 538.96 585.62 538.96 586.03 538.96 586.44 538.96 586.86 538.96 587.27 538.96 587.69 538.96 588.10 538.96 588.51 538.96 588.93 538.96 589.34 538.96 589.75 538.96 590.17 538.96 590.58 538.96 590.99 538.96 591.41 538.96 591.82 538.96 592.24 538.96 592.65 538.96 593.06 538.96 593.48 538.96 593.89 538.96 594.30 538.96 594.72 538.96 595.13 538.96 595.55 538.96 595.96 538.96 596.37 538.96 596.79 538.96 597.20 538.96" fill="none" stroke="#f00" stroke-width="1.7" clip-path="url(#c21)"/>
<rect x="349.4" y="481.4" width="247.8" height="153.5" fill="none" stroke="#4a4a4a" stroke-width="1.2"/>
<rect x="349.4" y="650.3" width="247.8" height="38.2" fill="none" stroke="#a8a8a8" stroke-width="1.1"/>
<path d="M364.9 634.9v-1.3M364.9 481.4v1.3M380.4 634.9v-2.5M380.4 481.4v2.5M395.9 634.9v-1.3M395.9 481.4v1.3M411.4 634.9v-2.5M411.4 481.4v2.5M426.8 634.9v-1.3M426.8 481.4v1.3M442.3 634.9v-2.5M442.3 481.4v2.5M457.8 634.9v-1.3M457.8 481.4v1.3M473.3 634.9v-2.5M473.3 481.4v2.5M488.8 634.9v-1.3M488.8 481.4v1.3M504.3 634.9v-2.5M504.3 481.4v2.5M519.8 634.9v-1.3M519.8 481.4v1.3M535.2 634.9v-2.5M535.2 481.4v2.5M550.7 634.9v-1.3M550.7 481.4v1.3M566.2 634.9v-2.5M566.2 481.4v2.5M581.7 634.9v-1.3M581.7 481.4v1.3M364.9 688.5v-1.3M364.9 650.3v1.3M380.4 688.5v-2.5M380.4 650.3v2.5M395.9 688.5v-1.3M395.9 650.3v1.3M411.4 688.5v-2.5M411.4 650.3v2.5M426.8 688.5v-1.3M426.8 650.3v1.3M442.3 688.5v-2.5M442.3 650.3v2.5M457.8 688.5v-1.3M457.8 650.3v1.3M473.3 688.5v-2.5M473.3 650.3v2.5M488.8 688.5v-1.3M488.8 650.3v1.3M504.3 688.5v-2.5M504.3 650.3v2.5M519.8 688.5v-1.3M519.8 650.3v1.3M535.2 688.5v-2.5M535.2 650.3v2.5M550.7 688.5v-1.3M550.7 650.3v1.3M566.2 688.5v-2.5M566.2 650.3v2.5M581.7 688.5v-1.3M581.7 650.3v1.3M349.4 625.3h1.3M597.2 625.3h-1.3M349.4 615.7h2.5M597.2 615.7h-2.5M349.4 606.1h1.3M597.2 606.1h-1.3M349.4 596.5h2.5M597.2 596.5h-2.5M349.4 586.9h1.3M597.2 586.9h-1.3M349.4 577.3h2.5M597.2 577.3h-2.5M349.4 567.7h1.3M597.2 567.7h-1.3M349.4 558.1h2.5M597.2 558.1h-2.5M349.4 548.6h1.3M597.2 548.6h-1.3M349.4 539.0h2.5M597.2 539.0h-2.5M349.4 529.4h1.3M597.2 529.4h-1.3M349.4 519.8h2.5M597.2 519.8h-2.5M349.4 510.2h1.3M597.2 510.2h-1.3M349.4 500.6h2.5M597.2 500.6h-2.5M349.4 491.0h1.3M597.2 491.0h-1.3M349.4 683.7h1.3M597.2 683.7h-1.3M349.4 679.0h2.5M597.2 679.0h-2.5M349.4 674.2h1.3M597.2 674.2h-1.3M349.4 669.4h2.5M597.2 669.4h-2.5M349.4 664.6h1.3M597.2 664.6h-1.3M349.4 659.8h2.5M597.2 659.8h-2.5M349.4 655.1h1.3M597.2 655.1h-1.3" stroke="#333" stroke-width="0.8" fill="none"/>
<g font-family="Liberation Serif" font-size="7.2" fill="#222" stroke="#222" stroke-width="0.12"><text transform="translate(349.1 644.8) scale(0.9 1)" text-anchor="middle">−0. 04</text><text transform="translate(349.1 696.2) scale(0.9 1)" text-anchor="middle">−0. 04</text><text transform="translate(380.1 644.8) scale(0.9 1)" text-anchor="middle">−0. 03</text><text transform="translate(380.1 696.2) scale(0.9 1)" text-anchor="middle">−0. 03</text><text transform="translate(411.1 644.8) scale(0.9 1)" text-anchor="middle">−0. 02</text><text transform="translate(411.1 696.2) scale(0.9 1)" text-anchor="middle">−0. 02</text><text transform="translate(442.0 644.8) scale(0.9 1)" text-anchor="middle">−0. 01</text><text transform="translate(442.0 696.2) scale(0.9 1)" text-anchor="middle">−0. 01</text><text transform="translate(473.0 644.8) scale(0.9 1)" text-anchor="middle">0. 00</text><text transform="translate(473.0 696.2) scale(0.9 1)" text-anchor="middle">0. 00</text><text transform="translate(504.0 644.8) scale(0.9 1)" text-anchor="middle">0. 01</text><text transform="translate(504.0 696.2) scale(0.9 1)" text-anchor="middle">0. 01</text><text transform="translate(535.0 644.8) scale(0.9 1)" text-anchor="middle">0. 02</text><text transform="translate(535.0 696.2) scale(0.9 1)" text-anchor="middle">0. 02</text><text transform="translate(565.9 644.8) scale(0.9 1)" text-anchor="middle">0. 03</text><text transform="translate(565.9 696.2) scale(0.9 1)" text-anchor="middle">0. 03</text><text transform="translate(596.9 644.8) scale(0.9 1)" text-anchor="middle">0. 04</text><text transform="translate(596.9 696.2) scale(0.9 1)" text-anchor="middle">0. 04</text><text transform="translate(344.7 637.9) scale(0.9 1)" text-anchor="end">0. 995</text><text transform="translate(344.7 618.7) scale(0.9 1)" text-anchor="end">0. 996</text><text transform="translate(344.7 599.5) scale(0.9 1)" text-anchor="end">0. 997</text><text transform="translate(344.7 580.3) scale(0.9 1)" text-anchor="end">0. 998</text><text transform="translate(344.7 561.1) scale(0.9 1)" text-anchor="end">0. 999</text><text transform="translate(344.7 542.0) scale(0.9 1)" text-anchor="end">1. 000</text><text transform="translate(344.7 522.8) scale(0.9 1)" text-anchor="end">1. 001</text><text transform="translate(344.7 503.6) scale(0.9 1)" text-anchor="end">1. 002</text><text transform="translate(344.7 484.4) scale(0.9 1)" text-anchor="end">1. 003</text><text transform="translate(346.4 691.5) scale(0.9 1)" text-anchor="end">−0. 002</text><text transform="translate(346.4 682.0) scale(0.9 1)" text-anchor="end">−0. 001</text><text transform="translate(346.4 672.4) scale(0.9 1)" text-anchor="end">0. 000</text><text transform="translate(346.4 662.8) scale(0.9 1)" text-anchor="end">0. 001</text><text transform="translate(346.4 653.3) scale(0.9 1)" text-anchor="end">0. 002</text></g>
<text transform="translate(473.3 706.5) scale(0.74 1)" font-family="Liberation Serif" font-size="9.8" fill="#222" stroke="#222" stroke-width="0.12" text-anchor="middle">PHASE</text>
<text font-family="Liberation Serif" font-size="10" fill="#222" stroke="#222" stroke-width="0.2" text-anchor="middle" transform="translate(321.6 558.5) rotate(-90) scale(0.5 1)" y="3.5">MAG</text>
<text font-family="Liberation Serif" font-size="10" fill="#222" stroke="#222" stroke-width="0.2" text-anchor="middle" transform="translate(320.1 669.4) rotate(-90) scale(0.62 1)" y="3.5">O−C</text>
<g font-family="Liberation Serif" font-size="8.2" fill="#f22" stroke="#f22" stroke-width="0.25" font-weight="normal"><text x="541.7" y="491.6" textLength="12.7" lengthAdjust="spacingAndGlyphs">TIC</text><text x="558.1" y="491.6" textLength="32.6" lengthAdjust="spacingAndGlyphs">12862099</text></g>
<clipPath id="c30"><rect x="36.3" y="721.1" width="247.4" height="153.3"/></clipPath>
<clipPath id="d30"><rect x="36.3" y="890.3" width="247.4" height="37.9"/></clipPath>
<g clip-path="url(#c30)"><path d="M88.5 760.0 212.2 774.0 150.3 829.4 274.0 768.0 49.8 776.3 173.5 831.4 111.7 771.4 235.4 778.5 80.8 787.6 204.5 764.2 142.6 821.4 266.3 781.8 65.3 769.3 189.0 802.0 127.1 798.4 250.8 772.3 96.2 779.3 219.9 789.7 158.1 815.8 281.8 775.6 37.3 782.7 161.0 819.8 99.1 777.8 222.8 786.0 68.2 773.2 191.9 796.5 130.0 815.5 253.7 761.9 52.7 774.3 176.4 828.1 114.6 768.4 238.3 776.6 83.7 784.0 207.4 771.7 145.5 826.2 269.2 788.2 45.0 765.0 168.7 823.7 106.8 782.1 230.5 769.7 75.9 777.3 199.6 785.2 137.8 817.4 261.5 779.6 60.5 790.6 184.2 806.5 122.3 778.0 246.0 783.0 91.4 770.7 215.1 778.0 153.2 835.5 276.9 773.5 41.1 780.4 164.8 845.5 103.0 757.9 226.7 773.8 72.1 780.7 195.8 773.9 133.9 810.0 257.6 783.4 56.6 771.2 180.3 824.0 118.4 787.2 242.1 763.5 87.5 774.6 211.2 781.6 149.4 817.4 273.1 776.9 48.9 784.5 172.6 820.1 110.7 779.1 234.4 789.1 79.8 766.0 203.5 775.4 141.6 828.7 265.3 770.2 64.3 777.6 188.0 813.7 126.2 784.1 249.9 779.9 95.3 792.3 219.0 760.8 157.1 823.4 280.8 781.0 39.2 768.1 162.9 825.7 101.0 783.8 224.7 771.5 70.1 778.6 193.8 798.8 132.0 792.4 255.7 774.9 54.7 781.9 178.4 815.7 116.5 777.1 240.2 784.9 85.6 772.4 209.3 779.4 147.4 837.9 271.1 766.6 46.9 775.6 170.6 831.1 108.8 770.5 232.5 777.9 77.9 786.2 201.6 773.3 139.7 825.8 263.4 794.2 62.4 762.4 186.1 808.2 124.2 787.5 247.9 768.6 93.3 776.6 217.0 784.1 155.2 821.0 278.9 778.9 43.1 788.4 166.8 814.3 104.9 775.1 228.6 782.2 74.0 769.8 197.7 779.5 135.8 824.9 259.5 772.7 58.5 779.6 182.2 835.8 120.4 767.1 244.1 775.9 89.5 783.1 213.2 770.9 151.3 826.8 275.0 786.7 50.8 773.6 174.5 827.9 112.6 798.2 236.3 754.1 81.7 773.7 205.4 780.6 143.6 814.3 267.3 776.0 66.3 783.2 190.0 793.1 128.1 794.6 251.8 786.9 97.2 762.9 220.9 774.5 159.0 830.8 282.7 768.8 36.8 776.7 160.5 833.7 98.6 772.0 222.3 779.0 67.7 788.7 191.4 783.4 129.6 795.9 253.3 782.3 52.2 770.0 175.9 824.5 114.1 785.5 237.8 772.8 83.2 779.8 206.9 791.5 145.0 806.8 268.7 773.9 44.5 780.8 168.2 816.7 106.4 776.2 230.1 783.6 75.4 771.3 199.1 778.5 137.3 831.1 261.0 764.0 60.0 774.7 183.7 822.7 121.8 770.4 245.5 777.0 90.9 784.7 214.6 772.3 152.8 828.2 276.5 789.5 40.6 766.3 164.3 824.7 102.5 782.6 226.2 770.3 71.6 777.7 195.3 793.3 133.4 805.5 257.1 780.0 56.1 793.0 179.8 807.3 118.0 774.2 241.7 781.1 87.0 768.3 210.7 776.5 148.9 832.2 272.6 771.6 48.4 778.7 172.1 836.1 110.2 764.9 233.9 775.0 79.3 782.0 203.0 769.6 141.2 823.4 264.9 785.1 63.8 772.6 187.5 808.9 125.7 800.2 249.4 766.8 94.8 775.7 218.5 782.9 156.6 820.0 280.3 778.0 38.7 786.4 162.4 822.7 100.6 780.3 224.3 795.4 69.6 756.7 193.3 786.1 131.5 807.1 255.2 767.6 54.2 776.1 177.9 829.8 116.0 771.1 239.7 778.3 85.1 787.1 208.8 763.3 147.0 822.4 270.7 781.5 46.4 768.9 170.1 825.3 108.3 784.4 232.0 772.1 77.4 779.1 201.1 789.0 139.2 811.2 262.9 775.3 61.9 782.4 185.6 805.4 123.8 782.7 247.5 785.6 92.8 772.9 216.5 779.9 154.7 841.1 278.4 760.3 42.6 774.0 166.3 830.0 104.4 768.0 228.1 776.3 73.5 783.7 197.2 774.5 135.4 816.7 259.1 787.7 58.0 764.3 181.7 819.8 119.9 781.8 243.6 769.3 89.0 777.1 212.7 784.8 150.8 821.0 274.5 779.3 50.3 789.8 174.0 814.0 112.2 775.6 235.9 782.7 81.2 770.4 204.9 777.8 143.1 832.8 266.8 773.2 65.8 780.1 189.5 817.2 127.6 777.1 251.3 774.3 96.7 781.2 220.4 768.5 158.6 826.0 282.3 784.1 37.7 771.8 161.4 828.2 99.6 788.3 223.3 765.1 68.7 775.1 192.4 797.1 130.5 793.2 254.2 777.3 53.2 785.2 176.9 819.4 115.1 779.6 238.8 790.7 84.1 767.0 207.8 775.8 146.0 830.6 269.7 770.8 45.5 778.1 169.2 835.2 107.3 773.5 231.0 780.4 76.4 796.8 200.1 758.4 138.3 818.9 262.0 780.7 60.9 767.7 184.6 814.3 122.8 786.6 246.5 771.2 91.9 778.4 215.6 787.3 153.7 812.7 277.4 774.6 41.6 781.6 165.3 818.2 103.5 776.9 227.2 784.5 72.5 772.2 196.2 784.3 134.4 824.5 258.1 766.0 57.1 775.4 180.8 827.9 118.9 770.2 242.6 777.7 88.0 785.8 211.7 773.0 149.9 828.4 273.6 792.4 49.3 761.0 173.0 821.9 111.2 781.0 234.9 768.2 80.3 776.4 204.0 783.8 142.1 818.0 265.8 778.7 64.8 787.9 188.5 791.1 126.7 787.3 250.4 781.9 95.7 769.5 219.4 777.2 157.6 834.3 281.3 772.5 39.7 779.4 163.4 839.4 101.5 766.7 225.2 775.7 70.6 782.8 194.3 780.4 132.5 807.3 256.2 786.2 55.1 773.3 178.8 826.3 117.0 794.4 240.7 762.5 86.1 774.4 209.8 781.3 147.9 816.7 271.6 776.7 47.4 784.2 171.1 820.1 109.3 778.9 233.0 788.5 78.3 765.4 202.0 775.2 140.2 828.0 263.9 769.8 62.9 777.4 186.6 817.7 124.7 780.1 248.4 779.7 93.8 791.1 217.5 767.2 155.7 825.1 279.4 783.1 43.5 770.9 167.2 827.1 105.4 786.7 229.1 773.6 74.5 780.5 198.2 800.6 136.3 795.8 260.0 773.7 59.0 780.6 182.7 811.1 120.9 776.0 244.6 783.3 89.9 771.0 213.6 778.3 151.8 835.7 275.5 763.1 51.3 774.5 175.0 828.8 113.1 768.8 236.8 776.8 82.2 784.3 205.9 772.0 144.1 826.1 267.8 788.8 66.7 765.7 190.4 795.9 128.6 800.1 252.3 770.0 97.7 777.5 221.4 785.5 159.5 822.3 283.2 779.8 36.5 791.7 160.2 809.1 98.4 774.0 222.1 780.9 67.5 767.9 191.2 794.8 129.3 803.5 253.0 771.4 52.0 778.5 175.7 834.6 113.9 764.1 237.6 774.8 82.9 781.7 206.6 769.2 144.8 824.3 268.5 784.7 44.3 772.3 168.0 828.1 106.1 789.6 229.8 766.3 75.2 775.5 198.9 782.6 137.0 813.4 260.7 777.8 59.7 786.0 183.4 814.8 121.6 780.9 245.3 793.2 90.7 761.7 214.4 774.2 152.5 830.0 276.2 768.4 40.4 776.5 164.1 833.2 102.3 771.7 226.0 778.8 71.3 788.1 195.0 772.9 133.2 806.7 256.9 782.0 55.9 769.6 179.6 823.1 117.7 785.1 241.4 772.6 86.8 779.5 210.5 790.5 148.6 815.1 272.3 775.8 48.1 783.0 171.8 818.8 110.0 778.0 233.7 786.5 79.1 773.4 202.8 780.3 140.9 841.9 264.6 757.4 63.6 773.8 187.3 810.8 125.5 776.8 249.2 776.1 94.5 783.4 218.2 771.2 156.4 827.6 280.1 787.1 38.5 763.4 162.2 823.9 100.3 781.5 224.0 769.0 69.4 776.9 193.1 797.5 131.2 797.8 254.9 779.1 53.9 789.1 177.6 812.4 115.8 775.4 239.5 782.4 84.9 770.1 208.6 777.6 146.7 833.5 270.4 773.0 46.2 779.9 169.9 840.6 108.1 760.5 231.8 774.1 77.1 781.0 200.8 768.1 139.0 821.7 262.7 783.7 61.7 771.5 185.4 814.6 123.5 792.3 247.2 764.4 92.6 774.8 216.3 781.8 154.4 818.5 278.1 777.1 42.3 784.8 166.0 821.5 104.2 779.4 227.9 789.9 73.3 766.5 197.0 779.2 135.1 820.2 258.8 770.5 57.8 777.8 181.5 831.3 119.7 773.2 243.4 780.1 88.7 793.9 212.4 762.2 150.6 822.9 274.3 781.2 50.1 768.5 173.8 824.3 111.9 784.1 235.6 771.8 81.0 778.8 204.7 788.4 142.8 811.9 266.5 775.1 65.5 782.1 189.2 794.0 127.4 791.7 251.1 785.3 96.5 772.7 220.2 779.6 158.3 840.2 282.0 767.1 37.5 775.9 161.2 832.4 99.4 770.8 223.1 778.1 68.4 786.6 192.1 789.2 130.3 803.2 254.0 797.4 53.0 758.8 176.7 820.7 114.8 780.8 238.5 767.8 83.9 776.2 207.6 783.5 145.7 818.8 269.4 778.4 45.2 787.3 168.9 812.4 107.1 774.7 230.8 781.6 76.2 769.1 199.9 776.9 138.0 829.5 261.7 772.2 60.7 779.2 184.4 828.2 122.6 768.7 246.3 775.4 91.6 782.5 215.3 770.2 153.5 826.7 277.2 785.8 41.4 773.1 165.1 829.1 103.2 792.6 226.9 761.2 72.3 774.1 196.0 786.8 134.1 802.8 257.8 776.4 56.8 783.9 180.5 817.1 118.7 778.7 242.4 787.9 87.8 764.7 211.5 774.9 149.6 830.3 273.3 769.5 49.1 777.2 172.8 832.9 111.0 772.5 234.7 779.4 80.0 790.2 203.7 766.7 141.9 822.1 265.6 782.8 64.6 770.6 188.3 805.1 126.4 798.0 250.1 773.3 95.5 780.2 219.2 794.7 157.3 812.0 281.0 774.4 39.4 781.3 163.1 818.0 101.3 776.7 225.0 784.2 70.4 771.9 194.1 789.4 132.2 817.3 255.9 765.4 54.9 775.2 178.6 828.4 116.8 769.9 240.5 777.4 85.8 785.4 209.5 772.8 147.7 827.7 271.4 791.2 47.2 767.3 170.9 824.2 109.0 783.2 232.7 770.9 78.1 778.2 201.8 786.8 139.9 819.3 263.6 780.5 62.6 800.1 186.3 787.2 124.5 780.5 248.2 780.5 93.6 767.3 217.3 776.0 155.4 832.4 279.1 771.0 43.3 778.2 167.0 835.8 105.2 762.8 228.9 774.5 74.2 781.4 197.9 770.4 136.1 817.0 259.8 784.3 58.8 771.9 182.5 823.3 120.6 788.7 244.3 765.5 89.7 775.2 213.4 782.3 151.5 818.7 275.2 777.5 51.0 785.5 174.7 820.2 112.9 779.7 236.6 791.4 82.0 759.2 205.7 773.9 143.8 827.8 267.5 767.8 66.5 776.2 190.2 804.9 128.4 788.4 252.1 778.5 97.4 787.4 221.1 763.9 159.3 824.1 283.0 781.7 37.0 769.2 160.7 826.4 98.9 784.6 222.6 772.2 67.9 779.2 191.6 806.5 129.8 787.6 253.5 775.5 52.5 782.6 176.2 817.3 114.3 777.7 238.0 785.9 83.4 773.1 207.1 780.0 145.3 840.3 269.0 761.4 44.8 774.2 168.5 829.8 106.6 768.3 230.3 776.5 75.7 783.9 199.4 771.6 137.5 823.1 261.2 788.0 60.2 764.8 183.9 815.2 122.1 783.7 245.8 769.6 91.1 777.2 214.8 785.0 153.0 821.5 276.7 779.5 40.9 790.3 164.6 816.0 102.7 775.7 226.4 782.9 71.8 770.6 195.5 784.8 133.7 819.5 257.4 773.4 56.4 780.3 180.1 840.9 118.2 756.2 241.9 773.7 87.3 780.6 211.0 767.5 149.1 824.4 272.8 783.3 48.6 771.1 172.3 826.3 110.5 787.0 234.2 763.2 79.5 774.5 203.2 781.5 141.4 815.1 265.1 776.8 64.1 784.4 187.8 800.7 125.9 789.5 249.6 788.9 95.0 765.8 218.7 775.3 156.9 831.7 280.6 770.1 39.0 777.6 162.7 834.9 100.8 772.9 224.5 779.8 69.9 791.9 193.6 771.8 131.7 801.2 255.4 780.9 54.4 768.0 178.1 822.7 116.3 783.7 240.0 771.4 85.3 778.5 209.0 787.6 147.2 812.1 270.9 774.8 46.7 781.8 170.4 817.7 108.5 777.1 232.2 784.8 77.6 772.3 201.3 779.3 139.5 835.2 263.2 766.4 62.2 775.6 185.9 817.2 124.0 776.1 247.7 777.8 93.1 786.1 216.8 773.2 154.9 829.3 278.6 793.5 42.8 762.0 166.5 823.3 104.7 781.2 228.4 768.5 73.7 776.6 197.4 786.6 135.6 810.6 259.3 778.8 58.3 788.2 182.0 810.0 120.1 775.1 243.8 782.1 89.2 769.7 212.9 777.3 151.1 833.8 274.8 772.6 50.6 779.6 174.3 838.2 112.4 767.0 236.1 775.8 81.5 783.0 205.2 770.8 143.3 824.9 267.0 786.5 66.0 773.5 189.7 803.2 127.9 812.1 251.6 758.1 96.9 773.8 220.6 780.7 158.8 817.1 282.5 776.1 38.0 783.4 161.7 820.6 99.8 778.4 223.5 787.2 68.9 763.6 192.6 789.0 130.8 805.8 254.5 769.0 53.5 776.9 177.2 831.2 115.3 772.1 239.0 779.1 84.4 789.2 208.1 766.0 146.2 823.0 269.9 782.5 45.7 770.2 169.4 826.2 107.6 785.7 231.3 773.0 76.6 779.9 200.3 792.3 138.5 805.9 262.2 774.1 61.2 781.0 184.9 805.6 123.0 780.0 246.7 783.8 92.1 771.5 215.8 778.6 154.0 836.9 277.7 764.5 41.9 774.9 165.6 831.0 103.7 769.4 227.4 777.1 72.8 784.9 196.5 777.1 134.6 815.4 258.3 790.0 57.3 766.6 181.0 821.0 119.2 782.8 242.9 770.5 88.2 777.9 211.9 786.2 150.1 821.8 273.8 780.2 49.6 794.2 173.3 810.2 111.4 774.4 235.1 781.3 80.5 768.6 204.2 776.6 142.4 830.7 266.1 771.8 65.1 778.9 188.8 814.2 126.9 778.3 250.6 775.1 96.0 782.2 219.7 769.8 157.8 826.7 281.5 785.3 39.9 772.7 163.6 828.9 101.8 791.0 225.5 767.2 70.8 775.9 194.5 792.3 132.7 801.0 256.4 778.1 55.4 786.7 179.1 819.6 117.2 780.5 240.9 798.5 86.3 754.1 210.0 773.7 148.2 828.7 271.9 767.4 47.7 776.0 171.4 831.5 109.5 771.0 233.2 778.2 78.6 786.9 202.3 763.0 140.4 820.3 264.1 781.4 63.1 768.8 186.8 808.4 125.0 792.3 248.7 772.0 94.0 779.0 217.7 788.8 155.9 814.9 279.6 775.3 43.8 782.3 167.5 818.9 105.6 777.5 229.3 785.5 74.7 772.8 198.4 780.6 136.6 833.2 260.3 759.5 59.3 774.0 183.0 823.9 121.1 767.9 244.8 776.3 90.2 783.6 213.9 771.3 152.0 827.3 275.7 787.5 51.5 764.0 175.2 822.0 113.4 781.7 237.1 769.2 82.4 777.0 206.1 784.7 144.3 819.4 268.0 779.3 67.0 789.5 190.7 786.2 128.8 794.0 252.5 782.6 97.9 770.3 221.6 777.7 159.8 835.4 283.5 773.1 36.4 780.0 160.1 842.5 98.3 761.6 222.0 774.2 67.3 781.1 191.0 787.2 129.2 796.1 252.9 783.9 51.9 771.7 175.6 825.9 113.7 788.1 237.4 764.9 82.8 775.0 206.5 782.0 144.7 816.8 268.4 777.2 44.2 785.1 167.9 821.4 106.0 779.5 229.7 790.4 75.1 766.9 198.8 776.0 136.9 825.6 260.6 770.7 59.6 778.0 183.3 828.4 121.5 774.0 245.2 780.3 90.5 795.5 214.2 757.0 152.4 822.6 276.1 780.7 40.3 767.6 164.0 825.3 102.1 783.4 225.8 771.1 71.2 778.3 194.9 795.4 133.1 794.6 256.8 774.6 55.7 781.5 179.4 814.8 117.6 776.8 241.3 784.4 86.7 772.1 210.4 779.1 148.5 837.2 272.2 765.8 48.0 775.3 171.7 830.5 109.9 770.1 233.6 777.6 78.9 785.7 202.6 772.9 140.8 825.8 264.5 792.0 63.5 760.4 187.2 804.6 125.3 789.8 249.0 768.1 94.4 776.3 218.1 783.7 156.3 820.7 280.0 778.6 38.4 787.7 162.1 813.7 100.2 774.8 223.9 781.8 69.3 769.3 193.0 790.4 131.1 810.2 254.8 772.4 53.8 779.3 177.5 836.4 115.7 766.5 239.4 775.6 84.7 782.7 208.4 770.5 146.6 825.6 270.3 786.1 46.1 773.2 169.8 828.6 107.9 793.7 231.6 762.1 77.0 774.3 200.7 781.2 138.9 813.8 262.6 776.6 61.5 784.1 185.2 808.1 123.4 783.2 247.1 788.3 92.5 765.1 216.2 775.1 154.3 831.2 278.0 769.7 42.2 777.3 165.9 834.3 104.1 772.7 227.8 779.6 73.1 790.8 196.8 770.9 135.0 812.9 258.7 783.0 57.7 770.8 181.4 823.2 119.5 786.6 243.2 773.5 88.6 780.4 212.3 797.0 150.5 807.1 274.2 773.9 50.0 780.8 173.7 815.4 111.8 776.2 235.5 783.5 80.9 771.2 204.6 778.4 142.7 833.9 266.4 763.7 65.4 774.7 189.1 806.2 127.3 783.1 251.0 776.9 96.3 784.6 220.0 772.2 158.2 828.5 281.9 789.3 37.4 766.1 161.1 824.8 99.2 782.5 222.9 770.2 68.3 777.7 192.0 801.8 130.2 795.5 253.9 779.9 52.8 792.5 176.5 807.9 114.7 774.1 238.4 781.0 83.8 768.2 207.5 776.4 145.6 831.3 269.3 771.6 45.1 778.7 168.8 836.6 107.0 764.6 230.7 774.9 76.0 781.9 199.7 769.5 137.9 822.0 261.6 785.0 60.6 772.5 184.3 818.7 122.4 792.5 246.1 766.7 91.5 775.7 215.2 782.8 153.4 819.6 277.1 777.9 41.3 786.3 165.0 822.5 103.1 780.2 226.8 794.5 72.2 762.6 195.9 780.4 134.0 815.5 257.7 768.7 56.7 776.7 180.4 829.7 118.6 771.9 242.3 778.9 87.6 788.5 211.3 765.4 149.5 823.5 273.2 782.2 49.0 769.9 172.7 825.3 110.8 785.4 234.5 772.8 79.9 779.7 203.6 791.2 141.8 813.5 265.5 775.9 64.4 783.1 188.1 798.5 126.3 789.5 250.0 786.8 95.4 773.6 219.1 780.5 157.2 849.1 280.9 755.3 39.3 773.7 163.0 829.9 101.2 767.5 224.9 776.0 70.2 783.3 193.9 781.8 132.1 806.6 255.8 787.0 54.8 763.1 178.5 820.7 116.6 781.4 240.3 768.8 85.7 776.8 209.4 784.4 147.6 820.0 271.3 779.0 47.1 788.8 170.8 814.0 108.9 775.3 232.6 782.3 78.0 770.0 201.7 777.5 139.8 831.2 263.5 772.9 62.5 779.8 186.2 825.2 124.4 766.4 248.1 774.0 93.4 780.9 217.1 767.9 155.3 825.5 279.0 783.6 43.2 771.4 166.9 827.5 105.0 787.5 228.7 764.1 74.1 774.8 197.8 783.7 136.0 809.2 259.7 777.0 58.6 784.7 182.3 817.0 120.5 779.3 244.2 789.6 89.6 766.3 213.3 775.5 151.4 831.4 275.1 770.4 50.9 777.8 174.6 833.4 112.8 773.2 236.5 780.1 81.8 793.3 205.5 761.8 143.7 821.2 267.4 781.2 66.4 768.4 190.1 798.2 128.2 800.7 251.9 771.7 97.3 778.8 221.0 788.2 159.2 814.4 282.9 775.0 36.9 782.0 160.6 819.0 98.8 777.3 222.5 785.1 67.8 772.6 191.5 797.0 129.7 811.5 253.4 766.9 52.4 775.8 176.1 830.0 114.2 770.7 237.9 778.0 83.3 786.5 207.0 773.4 145.1 827.7 268.8 796.0 44.6 757.6 168.3 822.6 106.5 780.7 230.2 767.6 75.6 776.1 199.3 783.4 137.4 815.2 261.1 778.4 60.1 787.2 183.8 804.1 121.9 776.1 245.6 781.5 91.0 769.0 214.7 776.9 152.9 833.4 276.6 772.1 40.8 779.1 164.5 838.3 102.6 765.9 226.3 775.4 71.7 782.4 195.4 777.2 133.5 810.3 257.2 785.7 56.2 773.0 179.9 825.6 118.1 792.2 241.8 760.6 87.2 774.1 210.9 781.0 149.0 816.4 272.7 776.4 48.5 783.7 172.2 819.5 110.4 778.6 234.1 787.7 79.4 764.4 203.1 774.9 141.3 828.0 265.0 769.4 64.0 777.1 187.7 813.9 125.8 782.5 249.5 779.4 94.9 789.9 218.6 766.5 156.7 824.9 280.4 782.7 38.8 770.5 162.5 827.2 100.7 786.2 224.4 773.3 69.8 780.2 193.5 806.0 131.6 789.1 255.3 774.3 54.3 781.3 178.0 815.0 116.1 776.6 239.8 784.1 85.2 771.8 208.9 778.9 147.1 836.2 270.8 765.2 46.6 775.1 170.3 830.6 108.4 769.8 232.1 777.4 77.5 785.3 201.2 772.7 139.3 825.1 263.0 790.9 62.0 767.1 185.7 810.8 123.9 788.5 247.6 770.8 93.0 778.1 216.7 786.6 154.8 822.7 278.5 780.4 42.7 797.7 166.4 807.9 104.6 773.9 228.3 780.8 73.6 767.8 197.3 779.1 135.5 822.0 259.2 771.3 58.2 778.4 181.9 832.3 120.0 763.8 243.7 774.7 89.1 781.6 212.8 769.1 150.9 825.6 274.6 784.6 50.4 772.2 174.1 826.8 112.3 789.4 236.0 766.1 81.4 775.4 205.1 782.5 143.2 817.1 266.9 777.7 65.9 785.8 189.6 796.2 127.7 795.3 251.4 792.7 96.8 761.2 220.5 774.2 158.7 830.4 282.4 768.3 37.9 776.4 161.6 833.2 99.7 771.6 223.4 778.7 68.8 787.9 192.5 779.4 130.6 798.8 254.3 781.9 53.3 769.5 177.0 823.9 115.2 785.0 238.9 772.5 84.3 779.5 208.0 790.2 146.1 814.4 269.8 775.7 45.6 782.9 169.3 819.2 107.5 777.9 231.2 786.3 76.5 773.3 200.2 780.2 138.4 839.9 262.1 762.7 61.1 774.4 184.8 819.2 122.9 772.0 246.6 776.7 92.0 784.2 215.7 771.9 153.8 828.0 277.5 788.6 41.7 765.5 165.4 824.3 103.6 782.2 227.3 769.9 72.7 777.4 196.4 790.3 134.5 808.4 258.2 779.7 57.2 791.3 180.9 812.6 119.0 776.0 242.7 783.2 88.1 770.9 211.8 778.2 150.0 835.3 273.7 773.6 49.5 780.5 173.2 847.9 111.3 754.1 235.0 773.7 80.4 780.6 204.1 767.4 142.2 822.5 265.9 783.2 64.9 771.0 188.6 804.3 126.8 799.6 250.5 762.9 95.9 774.5 219.6 781.4 157.7 818.1 281.4 776.7 39.8 784.3 163.5 821.2 101.7 779.0 225.4 788.7 70.7 765.6 194.4 784.7 132.6 812.1 256.3 769.9 55.3 777.5 179.0 831.5 117.1 772.8 240.8 779.8 86.2 791.5 209.9 759.3 148.0 822.0 271.7 780.8 47.5 767.9 171.2 824.5 109.4 783.6 233.1 771.3 78.5 778.5 202.2 787.4 140.3 809.8 264.0 774.7 63.0 781.7 186.7 801.2 124.8 784.7 248.5 784.7 93.9 772.2 217.6 779.2 155.8 838.7 279.5 766.2 43.7 775.5 167.4 831.5 105.5 770.3 229.2 777.7" fill="none" stroke="none" marker-start="url(#o)" marker-mid="url(#o)" marker-end="url(#o)"/></g>
<g clip-path="url(#d30)"><path d="M40.6 904.4 164.3 908.5 102.5 911.7 226.2 906.2 71.6 909.5 195.3 913.2 133.4 907.5 257.1 910.6 56.1 916.4 179.8 902.3 118.0 908.0 241.7 911.1 87.0 905.3 210.7 909.0 148.9 912.3 272.6 906.8 48.4 910.0 172.1 914.2 110.2 903.7 233.9 908.3 79.3 911.5 203.0 905.9 141.2 909.3 264.9 912.8 63.8 907.2 187.5 910.3 125.7 915.2 249.4 904.6 94.8 908.6 218.5 911.9 156.6 906.4 280.3 909.7 38.7 913.4 162.4 907.6 100.6 910.7 224.3 917.5 69.6 900.1 193.3 907.8 131.5 910.9 255.2 905.0 54.2 908.8 177.9 912.1 116.0 906.6 239.7 909.8 85.1 913.8 208.8 903.1 147.0 908.1 270.7 911.2 46.4 905.6 170.1 909.1 108.3 912.5 232.0 907.0 77.4 910.1 201.1 914.6 139.2 904.2 262.9 908.5 61.9 911.6 185.6 906.1 123.8 909.5 247.5 913.1 92.8 907.4 216.5 910.5 154.7 915.9 278.4 901.7 42.6 907.9 166.3 911.0 104.4 905.2 228.1 908.9 73.5 912.2 197.2 906.7 135.4 909.9 259.1 914.0 58.0 903.5 181.7 908.2 119.9 911.4 243.6 905.8 89.0 909.2 212.7 912.7 150.8 907.1 274.5 910.3 50.3 915.0 174.0 904.5 112.2 908.6 235.9 911.8 81.2 906.3 204.9 909.6 143.1 913.3 266.8 907.5 65.8 910.6 189.5 916.7 127.6 902.5 251.3 908.0 96.7 911.1 220.4 905.4 158.6 909.0 282.3 912.4 37.7 906.8 161.4 910.0 99.6 914.3 223.3 903.9 68.7 908.3 192.4 911.5 130.5 905.9 254.2 909.4 53.2 912.9 176.9 907.3 115.1 910.4 238.8 915.4 84.1 904.7 207.8 908.7 146.0 911.9 269.7 906.4 45.5 909.7 169.2 913.5 107.3 907.6 231.0 910.7 76.4 918.1 200.1 900.8 138.3 907.8 262.0 910.9 60.9 905.0 184.6 908.8 122.8 912.1 246.5 906.6 91.9 909.8 215.6 913.8 153.7 903.2 277.4 908.2 41.6 911.3 165.3 905.6 103.5 909.2 227.2 912.6 72.5 907.0 196.2 910.2 134.4 914.7 258.1 904.3 57.1 908.5 180.8 911.7 118.9 906.2 242.6 909.5 88.0 913.2 211.7 907.4 149.9 910.5 273.6 916.2 49.3 902.0 173.0 907.9 111.2 911.0 234.9 905.2 80.3 908.9 204.0 912.3 142.1 906.8 265.8 910.0 64.8 914.1 188.5 903.6 126.7 908.3 250.4 911.4 95.7 905.8 219.4 909.3 157.6 912.8 281.3 907.2 39.7 910.3 163.4 915.1 101.5 904.6 225.2 908.6 70.6 911.8 194.3 906.3 132.5 909.6 256.2 913.4 55.1 907.5 178.8 910.7 117.0 917.1 240.7 902.7 86.1 908.0 209.8 911.1 147.9 905.4 271.6 909.1 47.4 912.4 171.1 906.9 109.3 910.1 233.0 914.4 78.3 904.0 202.0 908.4 140.2 911.5 263.9 906.0 62.9 909.4 186.6 913.0 124.7 907.3 248.4 910.4 93.8 915.6 217.5 904.8 155.7 908.7 279.4 912.0 43.5 906.5 167.2 909.7 105.4 913.6 229.1 907.7 74.5 910.8 198.2 919.2 136.3 899.3 260.0 907.7 59.0 910.8 182.7 904.9 120.9 908.8 244.6 912.0 89.9 906.5 213.6 909.8 151.8 913.7 275.5 902.9 51.3 908.1 175.0 911.2 113.1 905.5 236.8 909.1 82.2 912.5 205.9 907.0 144.1 910.1 267.8 914.5 66.7 904.1 190.4 908.4 128.6 911.6 252.3 906.1 97.7 909.4 221.4 913.1 159.5 907.4 283.2 910.5 36.5 915.8 160.2 901.4 98.4 907.8 222.1 911.0 67.5 905.1 191.2 908.9 129.3 912.2 253.0 906.7 52.0 909.9 175.7 913.9 113.9 903.4 237.6 908.2 82.9 911.3 206.6 905.7 144.8 909.2 268.5 912.7 44.3 907.1 168.0 910.2 106.1 914.9 229.8 904.4 75.2 908.5 198.9 911.7 137.0 906.2 260.7 909.6 59.7 913.3 183.4 907.5 121.6 910.6 245.3 916.5 90.7 902.3 214.4 908.0 152.5 911.1 276.2 905.3 40.4 909.0 164.1 912.3 102.3 906.8 226.0 910.0 71.3 914.2 195.0 903.8 133.2 908.3 256.9 911.5 55.9 905.9 179.6 909.3 117.7 912.9 241.4 907.2 86.8 910.3 210.5 915.3 148.6 904.7 272.3 908.7 48.1 911.9 171.8 906.4 110.0 909.7 233.7 913.5 79.1 907.6 202.8 910.7 140.9 917.7 264.6 900.4 63.6 907.8 187.3 910.9 125.5 905.0 249.2 908.8 94.5 912.1 218.2 906.6 156.4 909.8 280.1 913.8 38.5 903.1 162.2 908.1 100.3 911.2 224.0 905.6 69.4 909.1 193.1 912.6 131.2 907.0 254.9 910.2 53.9 914.6 177.6 904.2 115.8 908.5 239.5 911.7 84.9 906.1 208.6 909.5 146.7 913.1 270.4 907.4 46.2 910.5 169.9 916.0 108.1 901.8 231.8 907.9 77.1 911.0 200.8 905.2 139.0 908.9 262.7 912.2 61.7 906.7 185.4 909.9 123.5 914.0 247.2 903.5 92.6 908.2 216.3 911.4 154.4 905.8 278.1 909.3 42.3 912.7 166.0 907.1 104.2 910.3 227.9 915.0 73.3 904.5 197.0 908.6 135.1 911.8 258.8 906.3 57.8 909.6 181.5 913.3 119.7 907.5 243.4 910.6 88.7 916.8 212.4 902.6 150.6 908.0 274.3 911.1 50.1 905.4 173.8 909.0 111.9 912.4 235.6 906.9 81.0 910.0 204.7 914.3 142.8 903.9 266.5 908.4 65.5 911.5 189.2 906.0 127.4 909.4 251.1 912.9 96.5 907.3 220.2 910.4 158.3 915.4 282.0 904.7 37.5 908.7 161.2 911.9 99.4 906.4 223.1 909.7 68.4 913.5 192.1 907.6 130.3 910.7 254.0 918.4 53.0 901.0 176.7 907.8 114.8 910.9 238.5 905.1 83.9 908.8 207.6 912.1 145.7 906.6 269.4 909.9 45.2 913.9 168.9 903.3 107.1 908.2 230.8 911.3 76.2 905.7 199.9 909.2 138.0 912.6 261.7 907.0 60.7 910.2 184.4 914.8 122.6 904.3 246.3 908.5 91.6 911.7 215.3 906.2 153.5 909.5 277.2 913.2 41.4 907.4 165.1 910.5 103.2 916.2 226.9 902.1 72.3 907.9 196.0 911.0 134.1 905.3 257.8 909.0 56.8 912.3 180.5 906.8 118.7 910.0 242.4 914.1 87.8 903.7 211.5 908.3 149.6 911.4 273.3 905.8 49.1 909.3 172.8 912.8 111.0 907.2 234.7 910.3 80.0 915.1 203.7 904.6 141.9 908.6 265.6 911.8 64.6 906.3 188.3 909.6 126.4 913.4 250.1 907.6 95.5 910.7 219.2 917.2 157.3 902.8 281.0 908.0 39.4 911.2 163.1 905.5 101.3 909.1 225.0 912.5 70.4 906.9 194.1 910.1 132.2 914.4 255.9 904.0 54.9 908.4 178.6 911.6 116.8 906.0 240.5 909.4 85.8 913.0 209.5 907.3 147.7 910.4 271.4 915.6 47.2 904.8 170.9 908.7 109.0 912.0 232.7 906.5 78.1 909.7 201.8 913.6 139.9 907.7 263.6 910.8 62.6 919.6 186.3 898.9 124.5 907.7 248.2 910.8 93.6 904.9 217.3 908.8 155.4 912.0 279.1 906.5 43.3 909.8 167.0 913.7 105.2 902.8 228.9 908.1 74.2 911.2 197.9 905.5 136.1 909.1 259.8 912.5 58.8 906.9 182.5 910.1 120.6 914.5 244.3 904.1 89.7 908.4 213.4 911.6 151.5 906.0 275.2 909.4 51.0 913.0 174.7 907.3 112.9 910.4 236.6 915.7 82.0 901.2 205.7 907.8 143.8 910.9 267.5 905.1 66.5 908.9 190.2 912.2 128.4 906.6 252.1 909.9 97.4 913.9 221.1 903.3 159.3 908.2 283.0 911.3 37.0 905.7 160.7 909.2 98.9 912.7 222.6 907.1 67.9 910.2 191.6 914.8 129.8 904.4 253.5 908.5 52.5 911.7 176.2 906.2 114.3 909.5 238.0 913.2 83.4 907.5 207.1 910.6 145.3 916.4 269.0 902.2 44.8 907.9 168.5 911.1 106.6 905.3 230.3 909.0 75.7 912.3 199.4 906.8 137.5 910.0 261.2 914.2 60.2 903.7 183.9 908.3 122.1 911.4 245.8 905.9 91.1 909.3 214.8 912.8 153.0 907.2 276.7 910.3 40.9 915.2 164.6 904.6 102.7 908.6 226.4 911.9 71.8 906.4 195.5 909.6 133.7 913.4 257.4 907.6 56.4 910.7 180.1 917.4 118.2 899.9 241.9 907.7 87.3 910.8 211.0 904.9 149.1 908.8 272.8 912.1 48.6 906.6 172.3 909.8 110.5 913.7 234.2 903.0 79.5 908.1 203.2 911.2 141.4 905.6 265.1 909.1 64.1 912.5 187.8 907.0 125.9 910.1 249.6 914.6 95.0 904.2 218.7 908.4 156.9 911.6 280.6 906.1 39.0 909.5 162.7 913.1 100.8 907.4 224.5 910.5 69.9 915.9 193.6 901.6 131.7 907.9 255.4 911.0 54.4 905.2 178.1 908.9 116.3 912.2 240.0 906.7 85.3 909.9 209.0 914.0 147.2 903.5 270.9 908.2 46.7 911.4 170.4 905.7 108.5 909.2 232.2 912.7 77.6 907.1 201.3 910.3 139.5 914.9 263.2 904.4 62.2 908.6 185.9 911.8 124.0 906.2 247.7 909.6 93.1 913.3 216.8 907.5 154.9 910.6 278.6 916.6 42.8 902.4 166.5 908.0 104.7 911.1 228.4 905.4 73.7 909.0 197.4 912.4 135.6 906.8 259.3 910.0 58.3 914.3 182.0 903.8 120.1 908.3 243.8 911.5 89.2 905.9 212.9 909.3 151.1 912.9 274.8 907.2 50.6 910.4 174.3 915.4 112.4 904.7 236.1 908.7 81.5 911.9 205.2 906.4 143.3 909.7 267.0 913.5 66.0 907.6 189.7 910.7 127.9 918.0 251.6 900.7 96.9 907.8 220.6 910.9 158.8 905.0 282.5 908.8 38.0 912.1 161.7 906.6 99.8 909.8 223.5 913.8 68.9 903.2 192.6 908.1 130.8 911.3 254.5 905.6 53.5 909.2 177.2 912.6 115.3 907.0 239.0 910.2 84.4 914.7 208.1 904.3 146.2 908.5 269.9 911.7 45.7 906.1 169.4 909.5 107.6 913.1 231.3 907.4 76.6 910.5 200.3 916.1 138.5 901.9 262.2 907.9 61.2 911.0 184.9 905.2 123.0 908.9 246.7 912.3 92.1 906.7 215.8 909.9 154.0 914.1 277.7 903.6 41.9 908.3 165.6 911.4 103.7 905.8 227.4 909.3 72.8 912.8 196.5 907.2 134.6 910.3 258.3 915.1 57.3 904.5 181.0 908.6 119.2 911.8 242.9 906.3 88.2 909.6 211.9 913.4 150.1 907.5 273.8 910.6 49.6 917.0 173.3 902.7 111.4 908.0 235.1 911.1 80.5 905.4 204.2 909.0 142.4 912.4 266.1 906.9 65.1 910.1 188.8 914.4 126.9 903.9 250.6 908.4 96.0 911.5 219.7 906.0 157.8 909.4 281.5 913.0 39.9 907.3 163.6 910.4 101.8 915.5 225.5 904.8 70.8 908.7 194.5 912.0 132.7 906.5 256.4 909.7 55.4 913.6 179.1 907.7 117.2 910.8 240.9 918.9 86.3 898.9 210.0 907.7 148.2 910.8 271.9 904.9 47.7 908.8 171.4 912.0 109.5 906.5 233.2 909.8 78.6 913.7 202.3 902.9 140.4 908.1 264.1 911.2 63.1 905.5 186.8 909.1 125.0 912.5 248.7 906.9 94.0 910.1 217.7 914.5 155.9 904.1 279.6 908.4 43.8 911.6 167.5 906.0 105.6 909.4 229.3 913.0 74.7 907.3 198.4 910.5 136.6 915.8 260.3 901.4 59.3 907.8 183.0 910.9 121.1 905.1 244.8 908.9 90.2 912.2 213.9 906.7 152.0 909.9 275.7 913.9 51.5 903.4 175.2 908.2 113.4 911.3 237.1 905.7 82.4 909.2 206.1 912.7 144.3 907.1 268.0 910.2 67.0 914.9 190.7 904.4 128.8 908.5 252.5 911.7 97.9 906.2 221.6 909.5 159.8 913.2 283.5 907.5 36.4 910.6 160.1 916.4 98.3 902.3 222.0 908.0 67.3 911.1 191.0 905.3 129.2 909.0 252.9 912.3 51.9 906.8 175.6 910.0 113.7 914.2 237.4 903.8 82.8 908.3 206.5 911.5 144.7 905.9 268.4 909.3 44.2 912.8 167.9 907.2 106.0 910.3 229.7 915.3 75.1 904.6 198.8 908.7 136.9 911.9 260.6 906.4 59.6 909.7 183.3 913.5 121.5 907.6 245.2 910.7 90.5 917.6 214.2 900.2 152.4 907.8 276.1 910.9 40.3 905.0 164.0 908.8 102.1 912.1 225.8 906.6 71.2 909.8 194.9 913.8 133.1 903.1 256.8 908.1 55.7 911.2 179.4 905.6 117.6 909.1 241.3 912.6 86.7 907.0 210.4 910.1 148.5 914.6 272.2 904.2 48.0 908.5 171.7 911.6 109.9 906.1 233.6 909.5 78.9 913.1 202.6 907.4 140.8 910.5 264.5 916.0 63.5 901.7 187.2 907.9 125.3 911.0 249.0 905.2 94.4 908.9 218.1 912.2 156.3 906.7 280.0 909.9 38.4 914.0 162.1 903.5 100.2 908.2 223.9 911.4 69.3 905.8 193.0 909.2 131.1 912.7 254.8 907.1 53.8 910.3 177.5 915.0 115.7 904.5 239.4 908.6 84.7 911.8 208.4 906.3 146.6 909.6 270.3 913.3 46.1 907.5 169.8 910.6 107.9 916.7 231.6 902.5 77.0 908.0 200.7 911.1 138.9 905.4 262.6 909.0 61.5 912.4 185.2 906.9 123.4 910.0 247.1 914.3 92.5 903.9 216.2 908.3 154.3 911.5 278.0 905.9 42.2 909.4 165.9 912.9 104.1 907.3 227.8 910.4 73.1 915.4 196.8 904.7 135.0 908.7 258.7 911.9 57.7 906.4 181.4 909.7 119.5 913.5 243.2 907.6 88.6 910.7 212.3 918.2 150.5 900.9 274.2 907.8 50.0 910.9 173.7 905.0" fill="none" stroke="none" marker-start="url(#p)" marker-mid="url(#p)" marker-end="url(#p)"/></g>
<path d="M36.30 778.59 36.71 778.59 37.13 778.59 37.54 778.59 37.95 778.59 38.37 778.59 38.78 778.59 39.19 778.59 39.60 778.59 40.02 778.59 40.43 778.59 40.84 778.59 41.26 778.59 41.67 778.59 42.08 778.59 42.50 778.59 42.91 778.59 43.32 778.59 43.73 778.59 44.15 778.59 44.56 778.59 44.97 778.59 45.39 778.59 45.80 778.59 46.21 778.59 46.63 778.59 47.04 778.59 47.45 778.59 47.86 778.59 48.28 778.59 48.69 778.59 49.10 778.59 49.52 778.59 49.93 778.59 50.34 778.59 50.76 778.59 51.17 778.59 51.58 778.59 51.99 778.59 52.41 778.59 52.82 778.59 53.23 778.59 53.65 778.59 54.06 778.59 54.47 778.59 54.89 778.59 55.30 778.59 55.71 778.59 56.13 778.59 56.54 778.59 56.95 778.59 57.36 778.59 57.78 778.59 58.19 778.59 58.60 778.59 59.02 778.59 59.43 778.59 59.84 778.59 60.26 778.59 60.67 778.59 61.08 778.59 61.49 778.59 61.91 778.59 62.32 778.59 62.73 778.59 63.15 778.59 63.56 778.59 63.97 778.59 64.39 778.59 64.80 778.59 65.21 778.59 65.62 778.59 66.04 778.59 66.45 778.59 66.86 778.59 67.28 778.59 67.69 778.59 68.10 778.59 68.52 778.59 68.93 778.59 69.34 778.59 69.75 778.59 70.17 778.59 70.58 778.59 70.99 778.59 71.41 778.59 71.82 778.59 72.23 778.59 72.65 778.59 73.06 778.59 73.47 778.59 73.88 778.59 74.30 778.59 74.71 778.59 75.12 778.59 75.54 778.59 75.95 778.59 76.36 778.59 76.78 778.59 77.19 778.59 77.60 778.59 78.02 778.59 78.43 778.59 78.84 778.59 79.25 778.59 79.67 778.59 80.08 778.59 80.49 778.59 80.91 778.59 81.32 778.59 81.73 778.59 82.15 778.59 82.56 778.59 82.97 778.59 83.38 778.59 83.80 778.59 84.21 778.59 84.62 778.59 85.04 778.59 85.45 778.59 85.86 778.59 86.28 778.59 86.69 778.59 87.10 778.59 87.51 778.59 87.93 778.59 88.34 778.59 88.75 778.59 89.17 778.59 89.58 778.59 89.99 778.59 90.41 778.59 90.82 778.59 91.23 778.59 91.64 778.59 92.06 778.59 92.47 778.59 92.88 778.59 93.30 778.59 93.71 778.59 94.12 778.59 94.54 778.59 94.95 778.59 95.36 778.59 95.78 778.59 96.19 778.59 96.60 778.59 97.01 778.59 97.43 778.59 97.84 778.59 98.25 778.59 98.67 778.59 99.08 778.59 99.49 778.59 99.91 778.59 100.32 778.59 100.73 778.59 101.14 778.59 101.56 778.59 101.97 778.59 102.38 778.59 102.80 778.59 103.21 778.59 103.62 778.59 104.04 778.59 104.45 778.59 104.86 778.59 105.27 778.59 105.69 778.59 106.10 778.59 106.51 778.59 106.93 778.59 107.34 778.59 107.75 778.59 108.17 778.59 108.58 778.59 108.99 778.59 109.40 778.59 109.82 778.59 110.23 778.59 110.64 778.59 111.06 778.59 111.47 778.59 111.88 778.59 112.30 778.59 112.71 778.59 113.12 778.59 113.54 778.59 113.95 778.59 114.36 778.59 114.77 778.59 115.19 778.59 115.60 778.59 116.01 778.59 116.43 778.59 116.84 778.59 117.25 778.59 117.67 778.60 118.08 778.61 118.49 778.63 118.90 778.67 119.32 778.74 119.73 778.85 120.14 779.02 120.56 779.26 120.97 779.58 121.38 779.99 121.80 780.49 122.21 781.09 122.62 781.77 123.03 782.53 123.45 783.35 123.86 784.22 124.27 785.14 124.69 786.10 125.10 787.09 125.51 788.11 125.93 789.16 126.34 790.24 126.75 791.33 127.16 792.45 127.58 793.59 127.99 794.75 128.40 795.93 128.82 797.12 129.23 798.32 129.64 799.54 130.06 800.76 130.47 802.00 130.88 803.24 131.29 804.49 131.71 805.74 132.12 806.99 132.53 808.24 132.95 809.49 133.36 810.73 133.77 811.97 134.19 813.20 134.60 814.42 135.01 815.61 135.43 816.77 135.84 817.89 136.25 818.95 136.66 819.92 137.08 820.81 137.49 821.59 137.90 822.25 138.32 822.81 138.73 823.26 139.14 823.62 139.56 823.92 139.97 824.15 140.38 824.35 140.79 824.53 141.21 824.69 141.62 824.84 142.03 824.98 142.45 825.12 142.86 825.25 143.27 825.38 143.69 825.51 144.10 825.63 144.51 825.75 144.92 825.87 145.34 825.98 145.75 826.09 146.16 826.20 146.58 826.30 146.99 826.40 147.40 826.50 147.82 826.59 148.23 826.69 148.64 826.77 149.05 826.86 149.47 826.94 149.88 827.02 150.29 827.10 150.71 827.17 151.12 827.24 151.53 827.30 151.95 827.37 152.36 827.43 152.77 827.48 153.19 827.54 153.60 827.59 154.01 827.64 154.42 827.68 154.84 827.72 155.25 827.76 155.66 827.79 156.08 827.83 156.49 827.85 156.90 827.88 157.32 827.90 157.73 827.92 158.14 827.94 158.55 827.95 158.97 827.96 159.38 827.96 159.79 827.97 160.21 827.97 160.62 827.96 161.03 827.96 161.45 827.95 161.86 827.94 162.27 827.92 162.68 827.90 163.10 827.88 163.51 827.85 163.92 827.83 164.34 827.79 164.75 827.76 165.16 827.72 165.58 827.68 165.99 827.64 166.40 827.59 166.81 827.54 167.23 827.48 167.64 827.43 168.05 827.37 168.47 827.30 168.88 827.24 169.29 827.17 169.71 827.10 170.12 827.02 170.53 826.94 170.95 826.86 171.36 826.77 171.77 826.69 172.18 826.59 172.60 826.50 173.01 826.40 173.42 826.30 173.84 826.20 174.25 826.09 174.66 825.98 175.08 825.87 175.49 825.75 175.90 825.63 176.31 825.51 176.73 825.38 177.14 825.25 177.55 825.12 177.97 824.98 178.38 824.84 178.79 824.69 179.21 824.53 179.62 824.35 180.03 824.15 180.44 823.92 180.86 823.62 181.27 823.26 181.68 822.81 182.10 822.25 182.51 821.59 182.92 820.81 183.34 819.92 183.75 818.95 184.16 817.89 184.57 816.77 184.99 815.61 185.40 814.42 185.81 813.20 186.23 811.97 186.64 810.73 187.05 809.49 187.47 808.24 187.88 806.99 188.29 805.74 188.71 804.49 189.12 803.24 189.53 802.00 189.94 800.76 190.36 799.54 190.77 798.32 191.18 797.12 191.60 795.93 192.01 794.75 192.42 793.59 192.84 792.45 193.25 791.33 193.66 790.24 194.07 789.16 194.49 788.11 194.90 787.09 195.31 786.10 195.73 785.14 196.14 784.22 196.55 783.35 196.97 782.53 197.38 781.77 197.79 781.09 198.20 780.49 198.62 779.99 199.03 779.58 199.44 779.26 199.86 779.02 200.27 778.85 200.68 778.74 201.10 778.67 201.51 778.63 201.92 778.61 202.33 778.60 202.75 778.59 203.16 778.59 203.57 778.59 203.99 778.59 204.40 778.59 204.81 778.59 205.23 778.59 205.64 778.59 206.05 778.59 206.46 778.59 206.88 778.59 207.29 778.59 207.70 778.59 208.12 778.59 208.53 778.59 208.94 778.59 209.36 778.59 209.77 778.59 210.18 778.59 210.60 778.59 211.01 778.59 211.42 778.59 211.83 778.59 212.25 778.59 212.66 778.59 213.07 778.59 213.49 778.59 213.90 778.59 214.31 778.59 214.73 778.59 215.14 778.59 215.55 778.59 215.96 778.59 216.38 778.59 216.79 778.59 217.20 778.59 217.62 778.59 218.03 778.59 218.44 778.59 218.86 778.59 219.27 778.59 219.68 778.59 220.09 778.59 220.51 778.59 220.92 778.59 221.33 778.59 221.75 778.59 222.16 778.59 222.57 778.59 222.99 778.59 223.40 778.59 223.81 778.59 224.22 778.59 224.64 778.59 225.05 778.59 225.46 778.59 225.88 778.59 226.29 778.59 226.70 778.59 227.12 778.59 227.53 778.59 227.94 778.59 228.36 778.59 228.77 778.59 229.18 778.59 229.59 778.59 230.01 778.59 230.42 778.59 230.83 778.59 231.25 778.59 231.66 778.59 232.07 778.59 232.49 778.59 232.90 778.59 233.31 778.59 233.72 778.59 234.14 778.59 234.55 778.59 234.96 778.59 235.38 778.59 235.79 778.59 236.20 778.59 236.62 778.59 237.03 778.59 237.44 778.59 237.85 778.59 238.27 778.59 238.68 778.59 239.09 778.59 239.51 778.59 239.92 778.59 240.33 778.59 240.75 778.59 241.16 778.59 241.57 778.59 241.98 778.59 242.40 778.59 242.81 778.59 243.22 778.59 243.64 778.59 244.05 778.59 244.46 778.59 244.88 778.59 245.29 778.59 245.70 778.59 246.12 778.59 246.53 778.59 246.94 778.59 247.35 778.59 247.77 778.59 248.18 778.59 248.59 778.59 249.01 778.59 249.42 778.59 249.83 778.59 250.25 778.59 250.66 778.59 251.07 778.59 251.48 778.59 251.90 778.59 252.31 778.59 252.72 778.59 253.14 778.59 253.55 778.59 253.96 778.59 254.38 778.59 254.79 778.59 255.20 778.59 255.61 778.59 256.03 778.59 256.44 778.59 256.85 778.59 257.27 778.59 257.68 778.59 258.09 778.59 258.51 778.59 258.92 778.59 259.33 778.59 259.74 778.59 260.16 778.59 260.57 778.59 260.98 778.59 261.40 778.59 261.81 778.59 262.22 778.59 262.64 778.59 263.05 778.59 263.46 778.59 263.87 778.59 264.29 778.59 264.70 778.59 265.11 778.59 265.53 778.59 265.94 778.59 266.35 778.59 266.77 778.59 267.18 778.59 267.59 778.59 268.01 778.59 268.42 778.59 268.83 778.59 269.24 778.59 269.66 778.59 270.07 778.59 270.48 778.59 270.90 778.59 271.31 778.59 271.72 778.59 272.14 778.59 272.55 778.59 272.96 778.59 273.37 778.59 273.79 778.59 274.20 778.59 274.61 778.59 275.03 778.59 275.44 778.59 275.85 778.59 276.27 778.59 276.68 778.59 277.09 778.59 277.50 778.59 277.92 778.59 278.33 778.59 278.74 778.59 279.16 778.59 279.57 778.59 279.98 778.59 280.40 778.59 280.81 778.59 281.22 778.59 281.63 778.59 282.05 778.59 282.46 778.59 282.87 778.59 283.29 778.59 283.70 778.59" fill="none" stroke="#f00" stroke-width="2.4" clip-path="url(#c30)"/>
<rect x="36.3" y="721.1" width="247.4" height="153.3" fill="none" stroke="#4a4a4a" stroke-width="1.2"/>
<rect x="36.3" y="890.3" width="247.4" height="37.9" fill="none" stroke="#a8a8a8" stroke-width="1.1"/>
<path d="M51.8 874.4v-1.3M51.8 721.1v1.3M67.2 874.4v-2.5M67.2 721.1v2.5M82.7 874.4v-1.3M82.7 721.1v1.3M98.1 874.4v-2.5M98.1 721.1v2.5M113.6 874.4v-1.3M113.6 721.1v1.3M129.1 874.4v-2.5M129.1 721.1v2.5M144.5 874.4v-1.3M144.5 721.1v1.3M160.0 874.4v-2.5M160.0 721.1v2.5M175.5 874.4v-1.3M175.5 721.1v1.3M190.9 874.4v-2.5M190.9 721.1v2.5M206.4 874.4v-1.3M206.4 721.1v1.3M221.8 874.4v-2.5M221.8 721.1v2.5M237.3 874.4v-1.3M237.3 721.1v1.3M252.8 874.4v-2.5M252.8 721.1v2.5M268.2 874.4v-1.3M268.2 721.1v1.3M51.8 928.2v-1.3M51.8 890.3v1.3M67.2 928.2v-2.5M67.2 890.3v2.5M82.7 928.2v-1.3M82.7 890.3v1.3M98.1 928.2v-2.5M98.1 890.3v2.5M113.6 928.2v-1.3M113.6 890.3v1.3M129.1 928.2v-2.5M129.1 890.3v2.5M144.5 928.2v-1.3M144.5 890.3v1.3M160.0 928.2v-2.5M160.0 890.3v2.5M175.5 928.2v-1.3M175.5 890.3v1.3M190.9 928.2v-2.5M190.9 890.3v2.5M206.4 928.2v-1.3M206.4 890.3v1.3M221.8 928.2v-2.5M221.8 890.3v2.5M237.3 928.2v-1.3M237.3 890.3v1.3M252.8 928.2v-2.5M252.8 890.3v2.5M268.2 928.2v-1.3M268.2 890.3v1.3M36.3 864.8h1.3M283.7 864.8h-1.3M36.3 855.2h2.5M283.7 855.2h-2.5M36.3 845.7h1.3M283.7 845.7h-1.3M36.3 836.1h2.5M283.7 836.1h-2.5M36.3 826.5h1.3M283.7 826.5h-1.3M36.3 816.9h2.5M283.7 816.9h-2.5M36.3 807.3h1.3M283.7 807.3h-1.3M36.3 797.7h2.5M283.7 797.7h-2.5M36.3 788.2h1.3M283.7 788.2h-1.3M36.3 778.6h2.5M283.7 778.6h-2.5M36.3 769.0h1.3M283.7 769.0h-1.3M36.3 759.4h2.5M283.7 759.4h-2.5M36.3 749.8h1.3M283.7 749.8h-1.3M36.3 740.3h2.5M283.7 740.3h-2.5M36.3 730.7h1.3M283.7 730.7h-1.3M36.3 925.0h1.3M283.7 925.0h-1.3M36.3 921.9h2.5M283.7 921.9h-2.5M36.3 918.7h1.3M283.7 918.7h-1.3M36.3 915.6h2.5M283.7 915.6h-2.5M36.3 912.4h1.3M283.7 912.4h-1.3M36.3 909.2h2.5M283.7 909.2h-2.5M36.3 906.1h1.3M283.7 906.1h-1.3M36.3 902.9h2.5M283.7 902.9h-2.5M36.3 899.8h1.3M283.7 899.8h-1.3M36.3 896.6h2.5M283.7 896.6h-2.5M36.3 893.5h1.3M283.7 893.5h-1.3" stroke="#333" stroke-width="0.8" fill="none"/>
<g font-family="Liberation Serif" font-size="7.2" fill="#222" stroke="#222" stroke-width="0.12"><text transform="translate(36.0 884.3) scale(0.9 1)" text-anchor="middle">−0. 08</text><text transform="translate(36.0 935.9) scale(0.9 1)" text-anchor="middle">−0. 08</text><text transform="translate(66.9 884.3) scale(0.9 1)" text-anchor="middle">−0. 06</text><text transform="translate(66.9 935.9) scale(0.9 1)" text-anchor="middle">−0. 06</text><text transform="translate(97.8 884.3) scale(0.9 1)" text-anchor="middle">−0. 04</text><text transform="translate(97.8 935.9) scale(0.9 1)" text-anchor="middle">−0. 04</text><text transform="translate(128.8 884.3) scale(0.9 1)" text-anchor="middle">−0. 02</text><text transform="translate(128.8 935.9) scale(0.9 1)" text-anchor="middle">−0. 02</text><text transform="translate(159.7 884.3) scale(0.9 1)" text-anchor="middle">0. 00</text><text transform="translate(159.7 935.9) scale(0.9 1)" text-anchor="middle">0. 00</text><text transform="translate(190.6 884.3) scale(0.9 1)" text-anchor="middle">0. 02</text><text transform="translate(190.6 935.9) scale(0.9 1)" text-anchor="middle">0. 02</text><text transform="translate(221.5 884.3) scale(0.9 1)" text-anchor="middle">0. 04</text><text transform="translate(221.5 935.9) scale(0.9 1)" text-anchor="middle">0. 04</text><text transform="translate(252.5 884.3) scale(0.9 1)" text-anchor="middle">0. 06</text><text transform="translate(252.5 935.9) scale(0.9 1)" text-anchor="middle">0. 06</text><text transform="translate(283.4 884.3) scale(0.9 1)" text-anchor="middle">0. 08</text><text transform="translate(283.4 935.9) scale(0.9 1)" text-anchor="middle">0. 08</text><text transform="translate(31.1 877.4) scale(0.9 1)" text-anchor="end">0. 995</text><text transform="translate(31.1 858.2) scale(0.9 1)" text-anchor="end">0. 996</text><text transform="translate(31.1 839.1) scale(0.9 1)" text-anchor="end">0. 997</text><text transform="translate(31.1 819.9) scale(0.9 1)" text-anchor="end">0. 998</text><text transform="translate(31.1 800.7) scale(0.9 1)" text-anchor="end">0. 999</text><text transform="translate(31.1 781.6) scale(0.9 1)" text-anchor="end">1. 000</text><text transform="translate(31.1 762.4) scale(0.9 1)" text-anchor="end">1. 001</text><text transform="translate(31.1 743.3) scale(0.9 1)" text-anchor="end">1. 002</text><text transform="translate(31.1 724.1) scale(0.9 1)" text-anchor="end">1. 003</text><text transform="translate(32.8 931.2) scale(0.9 1)" text-anchor="end">−0. 003</text><text transform="translate(32.8 924.9) scale(0.9 1)" text-anchor="end">−0. 002</text><text transform="translate(32.8 918.6) scale(0.9 1)" text-anchor="end">−0. 001</text><text transform="translate(32.8 912.2) scale(0.9 1)" text-anchor="end">0. 000</text><text transform="translate(32.8 905.9) scale(0.9 1)" text-anchor="end">0. 001</text><text transform="translate(32.8 899.6) scale(0.9 1)" text-anchor="end">0. 002</text><text transform="translate(32.8 893.3) scale(0.9 1)" text-anchor="end">0. 003</text></g>
<text transform="translate(160.0 946.2) scale(0.74 1)" font-family="Liberation Serif" font-size="9.8" fill="#222" stroke="#222" stroke-width="0.12" text-anchor="middle">PHASE</text>
<text font-family="Liberation Serif" font-size="10" fill="#222" stroke="#222" stroke-width="0.2" text-anchor="middle" transform="translate(8.5 798.1) rotate(-90) scale(0.5 1)" y="3.5">MAG</text>
<text font-family="Liberation Serif" font-size="10" fill="#222" stroke="#222" stroke-width="0.2" text-anchor="middle" transform="translate(7.0 909.2) rotate(-90) scale(0.62 1)" y="3.5">O−C</text>
<g font-family="Liberation Serif" font-size="8.2" fill="#f22" stroke="#f22" stroke-width="0.25" font-weight="normal"><text x="227.5" y="733.3" textLength="12.8" lengthAdjust="spacingAndGlyphs">TIC</text><text x="244.0" y="733.3" textLength="32.8" lengthAdjust="spacingAndGlyphs">13349647</text></g>
<clipPath id="c31"><rect x="349.4" y="721.1" width="247.8" height="153.3"/></clipPath>
<clipPath id="d31"><rect x="349.4" y="890.3" width="247.8" height="37.9"/></clipPath>
<g clip-path="url(#c31)"><path d="M533.3 792.8 471.4 815.9 595.3 776.9 350.4 784.9 474.3 820.5 412.3 779.4 536.2 788.7 381.3 774.2 505.2 798.4 443.3 819.0 567.2 761.5 365.9 775.4 489.8 830.1 427.8 768.9 551.7 778.0 396.8 786.4 520.7 772.5 458.8 828.0 582.7 791.1 358.1 765.0 482.0 825.0 420.1 784.2 544.0 770.2 389.1 778.8 513.0 787.7 451.0 818.4 574.9 781.4 373.6 793.8 497.5 806.8 435.5 779.3 559.4 785.2 404.6 771.5 528.5 779.7 466.5 838.2 590.4 774.5 354.2 782.3 478.1 849.4 416.2 757.0 540.1 774.9 385.2 782.7 509.1 774.2 447.2 811.4 571.1 785.7 369.7 772.0 493.6 825.6 431.7 790.0 555.6 763.4 400.7 775.8 524.6 783.6 462.7 817.9 586.6 778.4 362.0 786.9 485.9 820.9 423.9 780.9 547.8 792.2 393.0 766.1 516.9 776.7 454.9 830.9 578.8 770.8 377.5 779.2 501.4 816.3 439.4 785.0 563.3 781.8 408.4 795.7 532.3 760.2 470.4 824.5 594.3 783.0 352.3 768.5 476.2 827.1 414.3 786.1 538.2 772.3 383.3 780.3 507.2 801.7 445.2 792.4 569.1 776.1 367.8 783.9 491.7 816.2 429.7 778.6 553.6 787.4 398.8 773.3 522.7 781.2 460.7 841.0 584.6 766.8 360.0 777.0 483.9 833.3 422.0 771.2 545.9 779.5 391.0 788.8 514.9 774.3 453.0 827.7 576.9 797.8 375.5 762.0 499.4 809.3 437.5 789.6 561.4 769.0 406.5 778.1 530.4 786.5 468.5 821.8 592.4 780.6 356.2 791.3 480.1 814.3 418.1 776.4 542.0 784.3 387.2 770.4 511.1 781.1 449.1 827.4 573.0 773.7 371.7 781.5 495.6 839.1 433.6 767.4 557.5 777.2 402.6 785.3 526.5 771.6 464.6 828.5 588.5 789.4 363.9 774.6 487.8 829.8 425.9 802.4 549.8 752.7 394.9 774.7 518.8 782.5 456.8 814.6 580.7 777.4 379.4 785.5 503.3 793.8 441.4 796.3 565.3 789.6 410.4 762.7 534.3 775.6 472.3 832.8 596.2 769.2 349.9 778.2 473.8 836.1 411.8 772.8 535.7 780.7 380.9 791.7 504.8 783.4 442.8 797.1 566.7 784.4 365.4 770.6 489.3 826.1 427.3 788.0 551.2 773.8 396.3 781.6 520.2 794.8 458.3 806.1 582.2 775.0 357.6 782.8 481.5 817.0 419.6 777.6 543.5 785.9 388.6 772.1 512.5 780.2 450.6 833.9 574.5 763.8 373.1 775.9 497.0 824.7 435.1 771.0 559.0 778.5 404.1 787.1" fill="none" stroke="none" marker-start="url(#q)" marker-mid="url(#q)" marker-end="url(#q)"/></g>
<g clip-path="url(#d31)"><path d="M593.8 909.6 351.8 913.3 475.7 907.6 413.8 910.7 537.7 917.3 382.8 900.3 506.7 907.8 444.7 910.8 568.6 905.1 367.3 908.8 491.2 912.0 429.3 906.6 553.2 909.8 398.3 913.6 522.2 903.2 460.2 908.1 584.1 911.2 359.6 905.7 483.5 909.1 421.5 912.5 545.4 907.0 390.5 910.1 514.4 914.5 452.5 904.3 576.4 908.5 375.1 911.6 499.0 906.2 437.0 909.5 560.9 913.0 406.0 907.4 529.9 910.5 468.0 915.8 591.9 901.9 355.7 907.9 479.6 910.9 417.6 905.3 541.5 908.9 386.7 912.1 510.6 906.8 448.6 909.9 572.5 913.9 371.2 903.7 495.1 908.3 433.1 911.3 557.0 905.9 402.2 909.2 526.1 912.6 464.1 907.2 588.0 910.2 363.4 914.8 487.3 904.6 425.4 908.6 549.3 911.7 394.4 906.3 518.3 909.6 456.4 913.2 580.3 907.6 378.9 910.6 502.8 916.5 440.9 902.7 564.8 908.0 409.9 911.1 533.8 905.5 471.8 909.0 595.7 912.3 350.9 906.9 474.8 910.0 412.8 914.1 536.7 904.0 381.8 908.4 505.7 911.4 443.8 906.0 567.7 909.4 366.3 912.8 490.2 907.3 428.3 910.3 552.2 915.2 397.3 904.8 521.2 908.7 459.3 911.8 583.2 906.5 358.6 909.7 482.5 913.4 420.5 907.7 544.4 910.7 389.6 917.9 513.5 901.1 451.5 907.8 575.4 910.9 374.1 905.2 498.0 908.8 436.0 912.0 559.9 906.7 405.1 909.8 529.0 913.7 467.0 903.4 590.9 908.2 354.7 911.2 478.6 905.7 416.7 909.2 540.6 912.5 385.7 907.1 509.6 910.2 447.6 914.6 571.5 904.4 370.2 908.5 494.1 911.6 432.2 906.2 556.1 909.5 401.2 913.1 525.1 907.5 463.1 910.5 587.0 916.0 362.5 902.2 486.4 908.0 424.4 911.0 548.3 905.4 393.4 909.0 517.3 912.2 455.4 906.8 579.3 909.9 378.0 914.0 501.9 903.8 439.9 908.3 563.8 911.3 408.9 905.9 532.8 909.3 470.9 912.7 594.8 907.2 352.8 910.3 476.7 914.9 414.7 904.7 538.6 908.6 383.8 911.8 507.7 906.4 445.7 909.6 569.6 913.3 368.3 907.6 492.2 910.6 430.2 916.8 554.1 902.9 399.3 908.1 523.2 911.1 461.2 905.6 585.1 909.1 360.5 912.3 484.4 907.0 422.5 910.0 546.4 914.2 391.5 904.1 515.4 908.4 453.5 911.5 577.4 906.1 376.0 909.4 499.9 912.9 438.0 907.3 561.9 910.4 407.0 915.4 530.9 904.9 468.9 908.7" fill="none" stroke="none" marker-start="url(#p)" marker-mid="url(#p)" marker-end="url(#p)"/></g>
<path d="M349.40 778.59 349.81 778.59 350.23 778.59 350.64 778.59 351.05 778.59 351.47 778.59 351.88 778.59 352.30 778.59 352.71 778.59 353.12 778.59 353.54 778.59 353.95 778.59 354.36 778.59 354.78 778.59 355.19 778.59 355.61 778.59 356.02 778.59 356.43 778.59 356.85 778.59 357.26 778.59 357.67 778.59 358.09 778.59 358.50 778.59 358.91 778.59 359.33 778.59 359.74 778.59 360.16 778.59 360.57 778.59 360.98 778.59 361.40 778.59 361.81 778.59 362.22 778.59 362.64 778.59 363.05 778.59 363.47 778.59 363.88 778.59 364.29 778.59 364.71 778.59 365.12 778.59 365.53 778.59 365.95 778.59 366.36 778.59 366.77 778.59 367.19 778.59 367.60 778.59 368.02 778.59 368.43 778.59 368.84 778.59 369.26 778.59 369.67 778.59 370.08 778.59 370.50 778.59 370.91 778.59 371.33 778.59 371.74 778.59 372.15 778.59 372.57 778.59 372.98 778.59 373.39 778.59 373.81 778.59 374.22 778.59 374.64 778.59 375.05 778.59 375.46 778.59 375.88 778.59 376.29 778.59 376.70 778.59 377.12 778.59 377.53 778.59 377.94 778.59 378.36 778.59 378.77 778.59 379.19 778.59 379.60 778.59 380.01 778.59 380.43 778.59 380.84 778.59 381.25 778.59 381.67 778.59 382.08 778.59 382.50 778.59 382.91 778.59 383.32 778.59 383.74 778.59 384.15 778.59 384.56 778.59 384.98 778.59 385.39 778.59 385.80 778.59 386.22 778.59 386.63 778.59 387.05 778.59 387.46 778.59 387.87 778.59 388.29 778.59 388.70 778.59 389.11 778.59 389.53 778.59 389.94 778.59 390.36 778.59 390.77 778.59 391.18 778.59 391.60 778.59 392.01 778.59 392.42 778.59 392.84 778.59 393.25 778.59 393.66 778.59 394.08 778.59 394.49 778.59 394.91 778.59 395.32 778.59 395.73 778.59 396.15 778.59 396.56 778.59 396.97 778.59 397.39 778.59 397.80 778.59 398.22 778.59 398.63 778.59 399.04 778.59 399.46 778.59 399.87 778.59 400.28 778.59 400.70 778.59 401.11 778.59 401.52 778.59 401.94 778.59 402.35 778.59 402.77 778.59 403.18 778.59 403.59 778.59 404.01 778.59 404.42 778.59 404.83 778.59 405.25 778.59 405.66 778.59 406.08 778.59 406.49 778.59 406.90 778.59 407.32 778.59 407.73 778.59 408.14 778.59 408.56 778.59 408.97 778.59 409.38 778.59 409.80 778.59 410.21 778.59 410.63 778.59 411.04 778.59 411.45 778.59 411.87 778.59 412.28 778.59 412.69 778.59 413.11 778.59 413.52 778.59 413.94 778.59 414.35 778.59 414.76 778.59 415.18 778.59 415.59 778.59 416.00 778.59 416.42 778.59 416.83 778.59 417.25 778.59 417.66 778.59 418.07 778.59 418.49 778.59 418.90 778.59 419.31 778.59 419.73 778.59 420.14 778.59 420.55 778.59 420.97 778.59 421.38 778.59 421.80 778.59 422.21 778.59 422.62 778.59 423.04 778.59 423.45 778.59 423.86 778.59 424.28 778.59 424.69 778.59 425.11 778.59 425.52 778.59 425.93 778.59 426.35 778.59 426.76 778.59 427.17 778.59 427.59 778.59 428.00 778.59 428.41 778.59 428.83 778.59 429.24 778.59 429.66 778.59 430.07 778.59 430.48 778.59 430.90 778.60 431.31 778.61 431.72 778.63 432.14 778.67 432.55 778.74 432.97 778.85 433.38 779.02 433.79 779.26 434.21 779.58 434.62 779.99 435.03 780.49 435.45 781.09 435.86 781.77 436.27 782.53 436.69 783.35 437.10 784.22 437.52 785.14 437.93 786.10 438.34 787.09 438.76 788.11 439.17 789.16 439.58 790.23 440.00 791.33 440.41 792.45 440.83 793.59 441.24 794.75 441.65 795.93 442.07 797.12 442.48 798.32 442.89 799.54 443.31 800.76 443.72 802.00 444.13 803.24 444.55 804.49 444.96 805.74 445.38 806.99 445.79 808.24 446.20 809.49 446.62 810.73 447.03 811.97 447.44 813.20 447.86 814.42 448.27 815.61 448.69 816.77 449.10 817.89 449.51 818.95 449.93 819.93 450.34 820.81 450.75 821.59 451.17 822.26 451.58 822.81 451.99 823.26 452.41 823.62 452.82 823.92 453.24 824.15 453.65 824.35 454.06 824.53 454.48 824.69 454.89 824.84 455.30 824.98 455.72 825.12 456.13 825.25 456.55 825.38 456.96 825.51 457.37 825.63 457.79 825.75 458.20 825.87 458.61 825.98 459.03 826.09 459.44 826.20 459.86 826.30 460.27 826.40 460.68 826.50 461.10 826.59 461.51 826.69 461.92 826.77 462.34 826.86 462.75 826.94 463.16 827.02 463.58 827.10 463.99 827.17 464.41 827.24 464.82 827.30 465.23 827.37 465.65 827.43 466.06 827.48 466.47 827.54 466.89 827.59 467.30 827.64 467.72 827.68 468.13 827.72 468.54 827.76 468.96 827.79 469.37 827.83 469.78 827.85 470.20 827.88 470.61 827.90 471.02 827.92 471.44 827.94 471.85 827.95 472.27 827.96 472.68 827.96 473.09 827.97 473.51 827.97 473.92 827.96 474.33 827.96 474.75 827.95 475.16 827.94 475.58 827.92 475.99 827.90 476.40 827.88 476.82 827.85 477.23 827.83 477.64 827.79 478.06 827.76 478.47 827.72 478.88 827.68 479.30 827.64 479.71 827.59 480.13 827.54 480.54 827.48 480.95 827.43 481.37 827.37 481.78 827.30 482.19 827.24 482.61 827.17 483.02 827.10 483.44 827.02 483.85 826.94 484.26 826.86 484.68 826.77 485.09 826.69 485.50 826.59 485.92 826.50 486.33 826.40 486.74 826.30 487.16 826.20 487.57 826.09 487.99 825.98 488.40 825.87 488.81 825.75 489.23 825.63 489.64 825.51 490.05 825.38 490.47 825.25 490.88 825.12 491.30 824.98 491.71 824.84 492.12 824.69 492.54 824.53 492.95 824.35 493.36 824.15 493.78 823.92 494.19 823.62 494.61 823.26 495.02 822.81 495.43 822.26 495.85 821.59 496.26 820.81 496.67 819.93 497.09 818.95 497.50 817.89 497.91 816.77 498.33 815.61 498.74 814.42 499.16 813.20 499.57 811.97 499.98 810.73 500.40 809.49 500.81 808.24 501.22 806.99 501.64 805.74 502.05 804.49 502.47 803.24 502.88 802.00 503.29 800.76 503.71 799.54 504.12 798.32 504.53 797.12 504.95 795.93 505.36 794.75 505.77 793.59 506.19 792.45 506.60 791.33 507.02 790.23 507.43 789.16 507.84 788.11 508.26 787.09 508.67 786.10 509.08 785.14 509.50 784.22 509.91 783.35 510.33 782.53 510.74 781.77 511.15 781.09 511.57 780.49 511.98 779.99 512.39 779.58 512.81 779.26 513.22 779.02 513.63 778.85 514.05 778.74 514.46 778.67 514.88 778.63 515.29 778.61 515.70 778.60 516.12 778.59 516.53 778.59 516.94 778.59 517.36 778.59 517.77 778.59 518.19 778.59 518.60 778.59 519.01 778.59 519.43 778.59 519.84 778.59 520.25 778.59 520.67 778.59 521.08 778.59 521.49 778.59 521.91 778.59 522.32 778.59 522.74 778.59 523.15 778.59 523.56 778.59 523.98 778.59 524.39 778.59 524.80 778.59 525.22 778.59 525.63 778.59 526.05 778.59 526.46 778.59 526.87 778.59 527.29 778.59 527.70 778.59 528.11 778.59 528.53 778.59 528.94 778.59 529.35 778.59 529.77 778.59 530.18 778.59 530.60 778.59 531.01 778.59 531.42 778.59 531.84 778.59 532.25 778.59 532.66 778.59 533.08 778.59 533.49 778.59 533.91 778.59 534.32 778.59 534.73 778.59 535.15 778.59 535.56 778.59 535.97 778.59 536.39 778.59 536.80 778.59 537.22 778.59 537.63 778.59 538.04 778.59 538.46 778.59 538.87 778.59 539.28 778.59 539.70 778.59 540.11 778.59 540.52 778.59 540.94 778.59 541.35 778.59 541.77 778.59 542.18 778.59 542.59 778.59 543.01 778.59 543.42 778.59 543.83 778.59 544.25 778.59 544.66 778.59 545.08 778.59 545.49 778.59 545.90 778.59 546.32 778.59 546.73 778.59 547.14 778.59 547.56 778.59 547.97 778.59 548.38 778.59 548.80 778.59 549.21 778.59 549.63 778.59 550.04 778.59 550.45 778.59 550.87 778.59 551.28 778.59 551.69 778.59 552.11 778.59 552.52 778.59 552.94 778.59 553.35 778.59 553.76 778.59 554.18 778.59 554.59 778.59 555.00 778.59 555.42 778.59 555.83 778.59 556.24 778.59 556.66 778.59 557.07 778.59 557.49 778.59 557.90 778.59 558.31 778.59 558.73 778.59 559.14 778.59 559.55 778.59 559.97 778.59 560.38 778.59 560.80 778.59 561.21 778.59 561.62 778.59 562.04 778.59 562.45 778.59 562.86 778.59 563.28 778.59 563.69 778.59 564.10 778.59 564.52 778.59 564.93 778.59 565.35 778.59 565.76 778.59 566.17 778.59 566.59 778.59 567.00 778.59 567.41 778.59 567.83 778.59 568.24 778.59 568.66 778.59 569.07 778.59 569.48 778.59 569.90 778.59 570.31 778.59 570.72 778.59 571.14 778.59 571.55 778.59 571.96 778.59 572.38 778.59 572.79 778.59 573.21 778.59 573.62 778.59 574.03 778.59 574.45 778.59 574.86 778.59 575.27 778.59 575.69 778.59 576.10 778.59 576.52 778.59 576.93 778.59 577.34 778.59 577.76 778.59 578.17 778.59 578.58 778.59 579.00 778.59 579.41 778.59 579.83 778.59 580.24 778.59 580.65 778.59 581.07 778.59 581.48 778.59 581.89 778.59 582.31 778.59 582.72 778.59 583.13 778.59 583.55 778.59 583.96 778.59 584.38 778.59 584.79 778.59 585.20 778.59 585.62 778.59 586.03 778.59 586.44 778.59 586.86 778.59 587.27 778.59 587.69 778.59 588.10 778.59 588.51 778.59 588.93 778.59 589.34 778.59 589.75 778.59 590.17 778.59 590.58 778.59 590.99 778.59 591.41 778.59 591.82 778.59 592.24 778.59 592.65 778.59 593.06 778.59 593.48 778.59 593.89 778.59 594.30 778.59 594.72 778.59 595.13 778.59 595.55 778.59 595.96 778.59 596.37 778.59 596.79 778.59 597.20 778.59" fill="none" stroke="#f00" stroke-width="1.7" clip-path="url(#c31)"/>
<rect x="349.4" y="721.1" width="247.8" height="153.3" fill="none" stroke="#4a4a4a" stroke-width="1.2"/>
<rect x="349.4" y="890.3" width="247.8" height="37.9" fill="none" stroke="#a8a8a8" stroke-width="1.1"/>
<path d="M364.9 874.4v-1.3M364.9 721.1v1.3M380.4 874.4v-2.5M380.4 721.1v2.5M395.9 874.4v-1.3M395.9 721.1v1.3M411.4 874.4v-2.5M411.4 721.1v2.5M426.8 874.4v-1.3M426.8 721.1v1.3M442.3 874.4v-2.5M442.3 721.1v2.5M457.8 874.4v-1.3M457.8 721.1v1.3M473.3 874.4v-2.5M473.3 721.1v2.5M488.8 874.4v-1.3M488.8 721.1v1.3M504.3 874.4v-2.5M504.3 721.1v2.5M519.8 874.4v-1.3M519.8 721.1v1.3M535.2 874.4v-2.5M535.2 721.1v2.5M550.7 874.4v-1.3M550.7 721.1v1.3M566.2 874.4v-2.5M566.2 721.1v2.5M581.7 874.4v-1.3M581.7 721.1v1.3M364.9 928.2v-1.3M364.9 890.3v1.3M380.4 928.2v-2.5M380.4 890.3v2.5M395.9 928.2v-1.3M395.9 890.3v1.3M411.4 928.2v-2.5M411.4 890.3v2.5M426.8 928.2v-1.3M426.8 890.3v1.3M442.3 928.2v-2.5M442.3 890.3v2.5M457.8 928.2v-1.3M457.8 890.3v1.3M473.3 928.2v-2.5M473.3 890.3v2.5M488.8 928.2v-1.3M488.8 890.3v1.3M504.3 928.2v-2.5M504.3 890.3v2.5M519.8 928.2v-1.3M519.8 890.3v1.3M535.2 928.2v-2.5M535.2 890.3v2.5M550.7 928.2v-1.3M550.7 890.3v1.3M566.2 928.2v-2.5M566.2 890.3v2.5M581.7 928.2v-1.3M581.7 890.3v1.3M349.4 864.8h1.3M597.2 864.8h-1.3M349.4 855.2h2.5M597.2 855.2h-2.5M349.4 845.7h1.3M597.2 845.7h-1.3M349.4 836.1h2.5M597.2 836.1h-2.5M349.4 826.5h1.3M597.2 826.5h-1.3M349.4 816.9h2.5M597.2 816.9h-2.5M349.4 807.3h1.3M597.2 807.3h-1.3M349.4 797.7h2.5M597.2 797.7h-2.5M349.4 788.2h1.3M597.2 788.2h-1.3M349.4 778.6h2.5M597.2 778.6h-2.5M349.4 769.0h1.3M597.2 769.0h-1.3M349.4 759.4h2.5M597.2 759.4h-2.5M349.4 749.8h1.3M597.2 749.8h-1.3M349.4 740.3h2.5M597.2 740.3h-2.5M349.4 730.7h1.3M597.2 730.7h-1.3M349.4 925.0h1.3M597.2 925.0h-1.3M349.4 921.9h2.5M597.2 921.9h-2.5M349.4 918.7h1.3M597.2 918.7h-1.3M349.4 915.6h2.5M597.2 915.6h-2.5M349.4 912.4h1.3M597.2 912.4h-1.3M349.4 909.2h2.5M597.2 909.2h-2.5M349.4 906.1h1.3M597.2 906.1h-1.3M349.4 902.9h2.5M597.2 902.9h-2.5M349.4 899.8h1.3M597.2 899.8h-1.3M349.4 896.6h2.5M597.2 896.6h-2.5M349.4 893.5h1.3M597.2 893.5h-1.3" stroke="#333" stroke-width="0.8" fill="none"/>
<g font-family="Liberation Serif" font-size="7.2" fill="#222" stroke="#222" stroke-width="0.12"><text transform="translate(349.1 884.3) scale(0.9 1)" text-anchor="middle">−0. 08</text><text transform="translate(349.1 935.9) scale(0.9 1)" text-anchor="middle">−0. 08</text><text transform="translate(380.1 884.3) scale(0.9 1)" text-anchor="middle">−0. 06</text><text transform="translate(380.1 935.9) scale(0.9 1)" text-anchor="middle">−0. 06</text><text transform="translate(411.1 884.3) scale(0.9 1)" text-anchor="middle">−0. 04</text><text transform="translate(411.1 935.9) scale(0.9 1)" text-anchor="middle">−0. 04</text><text transform="translate(442.0 884.3) scale(0.9 1)" text-anchor="middle">−0. 02</text><text transform="translate(442.0 935.9) scale(0.9 1)" text-anchor="middle">−0. 02</text><text transform="translate(473.0 884.3) scale(0.9 1)" text-anchor="middle">0. 00</text><text transform="translate(473.0 935.9) scale(0.9 1)" text-anchor="middle">0. 00</text><text transform="translate(504.0 884.3) scale(0.9 1)" text-anchor="middle">0. 02</text><text transform="translate(504.0 935.9) scale(0.9 1)" text-anchor="middle">0. 02</text><text transform="translate(535.0 884.3) scale(0.9 1)" text-anchor="middle">0. 04</text><text transform="translate(535.0 935.9) scale(0.9 1)" text-anchor="middle">0. 04</text><text transform="translate(565.9 884.3) scale(0.9 1)" text-anchor="middle">0. 06</text><text transform="translate(565.9 935.9) scale(0.9 1)" text-anchor="middle">0. 06</text><text transform="translate(596.9 884.3) scale(0.9 1)" text-anchor="middle">0. 08</text><text transform="translate(596.9 935.9) scale(0.9 1)" text-anchor="middle">0. 08</text><text transform="translate(344.7 877.4) scale(0.9 1)" text-anchor="end">0. 995</text><text transform="translate(344.7 858.2) scale(0.9 1)" text-anchor="end">0. 996</text><text transform="translate(344.7 839.1) scale(0.9 1)" text-anchor="end">0. 997</text><text transform="translate(344.7 819.9) scale(0.9 1)" text-anchor="end">0. 998</text><text transform="translate(344.7 800.7) scale(0.9 1)" text-anchor="end">0. 999</text><text transform="translate(344.7 781.6) scale(0.9 1)" text-anchor="end">1. 000</text><text transform="translate(344.7 762.4) scale(0.9 1)" text-anchor="end">1. 001</text><text transform="translate(344.7 743.3) scale(0.9 1)" text-anchor="end">1. 002</text><text transform="translate(344.7 724.1) scale(0.9 1)" text-anchor="end">1. 003</text><text transform="translate(346.4 931.2) scale(0.9 1)" text-anchor="end">−0. 003</text><text transform="translate(346.4 924.9) scale(0.9 1)" text-anchor="end">−0. 002</text><text transform="translate(346.4 918.6) scale(0.9 1)" text-anchor="end">−0. 001</text><text transform="translate(346.4 912.2) scale(0.9 1)" text-anchor="end">0. 000</text><text transform="translate(346.4 905.9) scale(0.9 1)" text-anchor="end">0. 001</text><text transform="translate(346.4 899.6) scale(0.9 1)" text-anchor="end">0. 002</text><text transform="translate(346.4 893.3) scale(0.9 1)" text-anchor="end">0. 003</text></g>
<text transform="translate(473.3 946.2) scale(0.74 1)" font-family="Liberation Serif" font-size="9.8" fill="#222" stroke="#222" stroke-width="0.12" text-anchor="middle">PHASE</text>
<text font-family="Liberation Serif" font-size="10" fill="#222" stroke="#222" stroke-width="0.2" text-anchor="middle" transform="translate(321.6 798.1) rotate(-90) scale(0.5 1)" y="3.5">MAG</text>
<text font-family="Liberation Serif" font-size="10" fill="#222" stroke="#222" stroke-width="0.2" text-anchor="middle" transform="translate(320.1 909.2) rotate(-90) scale(0.62 1)" y="3.5">O−C</text>
<g font-family="Liberation Serif" font-size="9.6" fill="#f22" stroke="#f22" stroke-width="0.25" font-weight="normal"><text x="532.4" y="732.6" textLength="15.1" lengthAdjust="spacingAndGlyphs">TIC</text><text x="551.9" y="732.6" textLength="38.7" lengthAdjust="spacingAndGlyphs">13349647</text></g>
</svg></body></html>
